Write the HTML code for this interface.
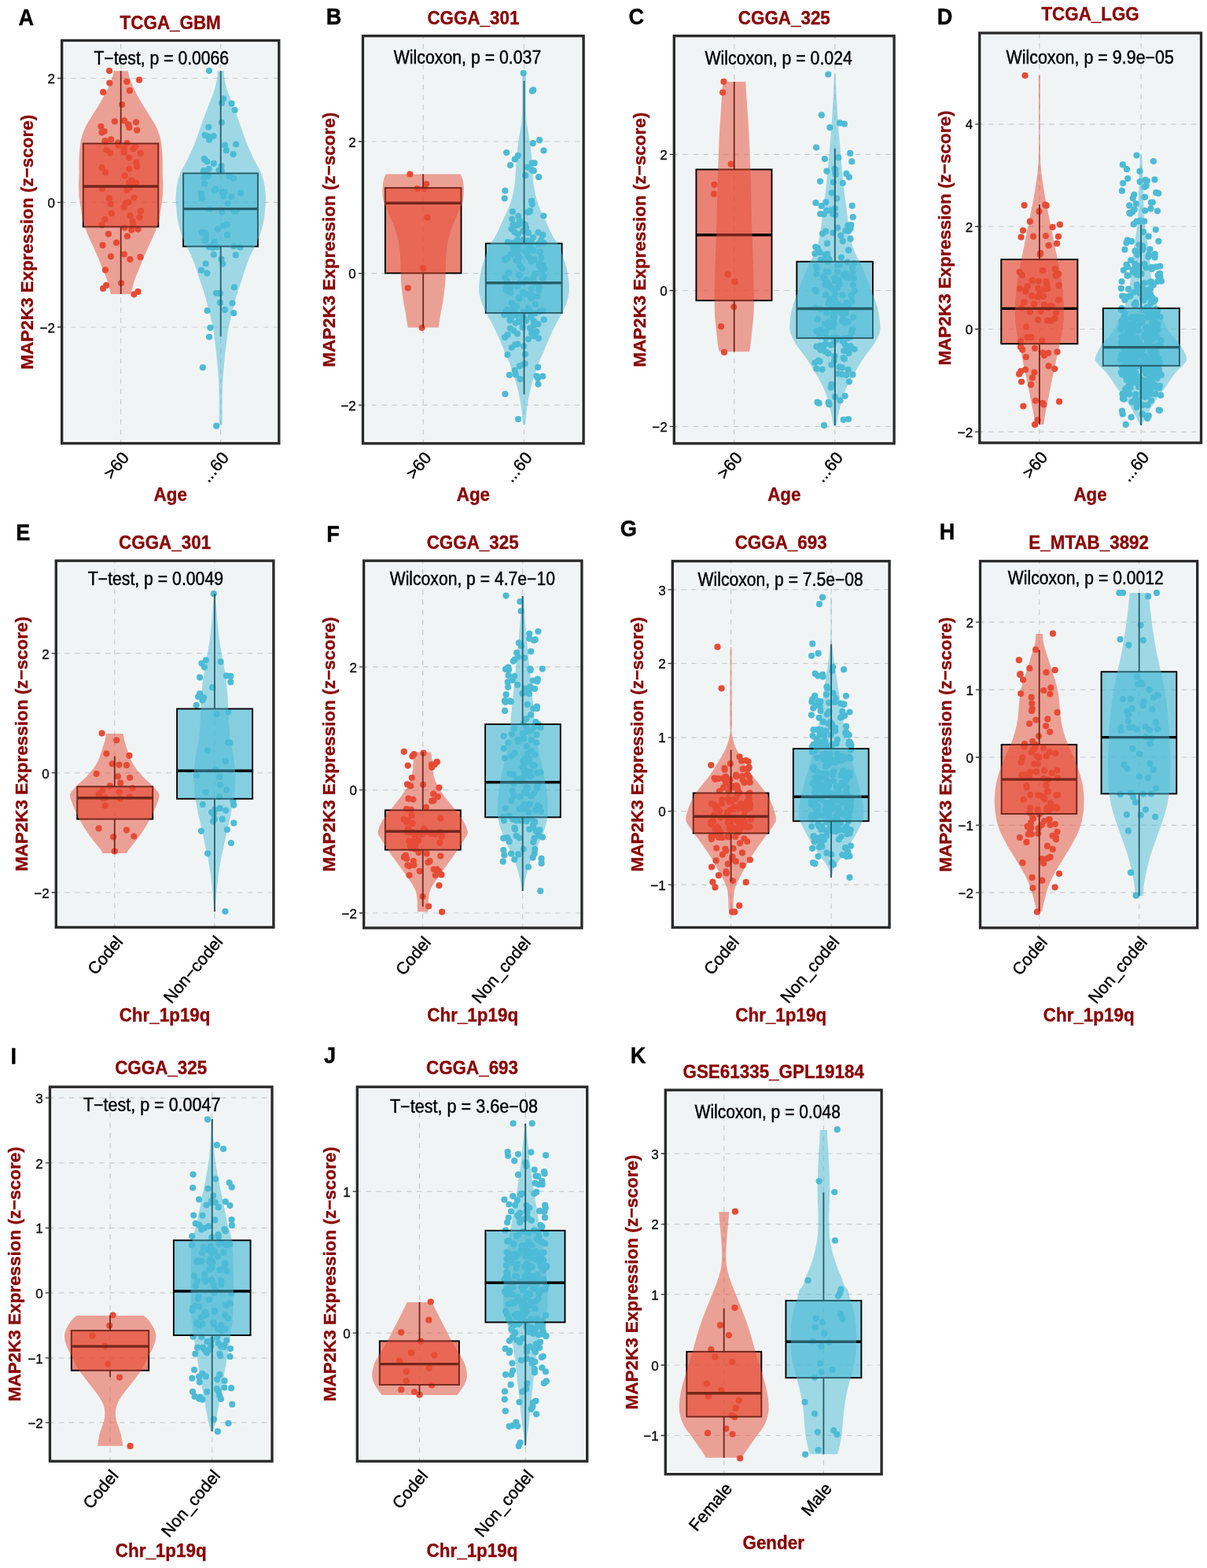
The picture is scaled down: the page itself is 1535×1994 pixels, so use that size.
<!DOCTYPE html>
<html><head><meta charset="utf-8"><title>MAP2K3 expression</title>
<style>html,body{margin:0;padding:0;background:#fff;}svg{display:block;}</style>
</head><body>
<svg width="1535" height="1994" viewBox="0 0 1535 1994" font-family="'Liberation Sans', Arial, Helvetica, sans-serif">
<rect width="1535" height="1994" fill="#fff"/>
<rect x="82" y="54.8" width="269.5" height="505.7" fill="#F1F4F5"/>
<path d="M77,99.5H356.5M77,257.4H356.5M77,416H356.5M153.7,565.5V49.8M280.7,565.5V49.8" stroke="#C8CACB" stroke-width="1.2" stroke-dasharray="6.45 6.45" fill="none"/>
<g fill="#E64B35"><circle cx="139.1" cy="90" r="4.1"/><circle cx="177.1" cy="101.7" r="4.1"/><circle cx="131.1" cy="366.9" r="4.1"/><circle cx="135.1" cy="362.9" r="4.1"/><circle cx="170.5" cy="374.3" r="4.1"/><circle cx="175.5" cy="370.9" r="4.1"/><circle cx="128.5" cy="160.9" r="4.1"/><circle cx="157.7" cy="194.1" r="4.1"/><circle cx="167.2" cy="292.4" r="4.1"/><circle cx="154.1" cy="360.1" r="4.1"/><circle cx="174.1" cy="211.9" r="4.1"/><circle cx="169.3" cy="286.7" r="4.1"/><circle cx="148" cy="308.7" r="4.1"/><circle cx="161.3" cy="241.8" r="4.1"/><circle cx="129.5" cy="212.9" r="4.1"/><circle cx="172.1" cy="186.3" r="4.1"/><circle cx="158.1" cy="153.4" r="4.1"/><circle cx="129.9" cy="240.1" r="4.1"/><circle cx="161.9" cy="300.4" r="4.1"/><circle cx="164.9" cy="115.2" r="4.1"/><circle cx="173.1" cy="155.3" r="4.1"/><circle cx="165.4" cy="329.8" r="4.1"/><circle cx="164.1" cy="232.8" r="4.1"/><circle cx="134" cy="219" r="4.1"/><circle cx="150.1" cy="181.6" r="4.1"/><circle cx="158.5" cy="289.6" r="4.1"/><circle cx="145.8" cy="154.3" r="4.1"/><circle cx="141" cy="326.1" r="4.1"/><circle cx="175.5" cy="291.6" r="4.1"/><circle cx="163.2" cy="158.3" r="4.1"/><circle cx="165.5" cy="274.2" r="4.1"/><circle cx="133.6" cy="179" r="4.1"/><circle cx="130.6" cy="311.9" r="4.1"/><circle cx="168.7" cy="232.5" r="4.1"/><circle cx="129.6" cy="286.2" r="4.1"/><circle cx="157.6" cy="263.5" r="4.1"/><circle cx="157.9" cy="323.3" r="4.1"/><circle cx="134" cy="343.3" r="4.1"/><circle cx="150.8" cy="185.2" r="4.1"/><circle cx="173" cy="232.6" r="4.1"/><circle cx="158.7" cy="223.6" r="4.1"/><circle cx="141.1" cy="177.4" r="4.1"/><circle cx="131.2" cy="117.2" r="4.1"/><circle cx="167.6" cy="229.6" r="4.1"/><circle cx="164.2" cy="200.6" r="4.1"/><circle cx="132.6" cy="167" r="4.1"/><circle cx="164.3" cy="214.8" r="4.1"/><circle cx="164.9" cy="239" r="4.1"/><circle cx="174.2" cy="165.5" r="4.1"/><circle cx="140.7" cy="259.5" r="4.1"/><circle cx="133.3" cy="279.1" r="4.1"/><circle cx="163.4" cy="257.2" r="4.1"/><circle cx="173.2" cy="206.5" r="4.1"/><circle cx="161.5" cy="182" r="4.1"/><circle cx="178.7" cy="195" r="4.1"/><circle cx="158.1" cy="188.3" r="4.1"/><circle cx="169.2" cy="189.3" r="4.1"/><circle cx="170.4" cy="251.5" r="4.1"/><circle cx="168.8" cy="281.5" r="4.1"/><circle cx="164.3" cy="162.2" r="4.1"/><circle cx="139.3" cy="105.6" r="4.1"/><circle cx="161.2" cy="103.8" r="4.1"/><circle cx="133.8" cy="180.4" r="4.1"/><circle cx="159.9" cy="258" r="4.1"/><circle cx="178.9" cy="268.6" r="4.1"/><circle cx="138.8" cy="252.3" r="4.1"/><circle cx="140.3" cy="194.5" r="4.1"/><circle cx="155.1" cy="133" r="4.1"/><circle cx="178.5" cy="326.9" r="4.1"/><circle cx="177.5" cy="276.3" r="4.1"/><circle cx="137.9" cy="297.6" r="4.1"/><circle cx="135.6" cy="191" r="4.1"/><circle cx="129.5" cy="168.6" r="4.1"/><circle cx="141.8" cy="271.3" r="4.1"/></g>
<path d="M153.7,182.5V90.3M153.7,288.4V373.9" stroke="#000" stroke-width="1.8"/>
<rect x="105.8" y="182.5" width="95.5" height="105.9" fill="#E64B35" fill-opacity="0.67" stroke="#000" stroke-width="1.9"/>
<path d="M105.8,237H201.3" stroke="#000" stroke-width="3.4"/>
<path d="M162.7,90.3 L163,91.3 L163.2,92.6 L163.6,94.2 L164,96 L164.6,98 L165.2,100 L165.7,101.3 L166.2,102.7 L166.7,104.2 L167.3,105.7 L167.9,107.2 L168.6,108.8 L169.3,110.4 L170,112 L170.7,113.6 L171.4,115.1 L172.1,116.6 L172.9,118.1 L173.7,119.6 L174.5,121.1 L175.3,122.6 L176.2,124.1 L177,125.6 L177.9,127.1 L178.8,128.6 L179.7,130.1 L180.6,131.6 L181.5,133.1 L182.4,134.7 L183.4,136.2 L184.3,137.7 L185.3,139.2 L186.2,140.7 L187.2,142.2 L188.1,143.7 L189.1,145.2 L190,146.7 L191,148.2 L191.9,149.7 L192.9,151.2 L193.8,152.7 L194.7,154.2 L195.6,155.7 L196.5,157.2 L197.3,158.7 L198.1,160.2 L198.8,161.7 L199.5,163.2 L200.1,164.7 L200.8,166.3 L201.3,167.8 L201.9,169.3 L202.4,170.8 L202.9,172.3 L203.3,173.8 L203.7,175.3 L204.1,176.8 L204.4,178.3 L204.7,179.8 L205,181.3 L205.2,182.8 L205.4,184.3 L205.5,185.8 L205.7,187.3 L205.8,188.8 L206,190.3 L206.1,191.8 L206.3,193.3 L206.4,194.8 L206.5,196.3 L206.6,197.8 L206.6,199.4 L206.7,200.9 L206.7,202.4 L206.8,203.9 L206.8,205.4 L206.9,206.9 L206.9,208.4 L206.8,209.9 L206.8,211.4 L206.8,212.9 L206.8,214.4 L206.8,215.9 L206.7,217.4 L206.7,218.9 L206.7,220.4 L206.8,221.9 L206.8,223.4 L206.9,224.9 L207,226.4 L207,227.9 L207.1,229.4 L207.2,231 L207.2,232.5 L207.3,234 L207.3,235.5 L207.3,237 L207.3,238.5 L207.2,240 L207.2,241.5 L207.2,243 L207.1,244.5 L207.1,246 L207,247.5 L206.9,249 L206.7,250.5 L206.6,252 L206.4,253.5 L206.2,255 L206,256.5 L205.7,258 L205.5,259.5 L205.2,261 L205,262.6 L204.7,264.1 L204.5,265.6 L204.3,267.1 L204.1,268.6 L203.9,270.1 L203.7,271.6 L203.6,273.1 L203.4,274.6 L203.1,276.1 L202.9,277.6 L202.6,279.1 L202.2,280.6 L201.8,282.1 L201.4,283.6 L200.9,285.1 L200.4,286.6 L199.9,288.1 L199.3,289.6 L198.8,291.1 L198.2,292.6 L197.6,294.1 L197,295.7 L196.4,297.2 L195.7,298.7 L195,300.2 L194.4,301.7 L193.7,303.2 L193,304.7 L192.3,306.2 L191.6,307.7 L190.9,309.2 L190.2,310.7 L189.5,312.2 L188.8,313.7 L188.1,315.2 L187.5,316.7 L186.8,318.2 L186.1,319.7 L185.4,321.2 L184.7,322.7 L184.1,324.2 L183.4,325.7 L182.8,327.3 L182.2,328.8 L181.6,330.3 L181,331.8 L180.4,333.3 L179.8,334.8 L179.2,336.3 L178.6,337.8 L178,339.3 L177.4,340.8 L176.8,342.3 L176.2,343.8 L175.5,345.3 L174.9,346.8 L174.3,348.3 L173.7,349.8 L173.1,351.3 L172.5,352.8 L171.9,354.3 L171.4,355.8 L170.9,357.4 L170.4,359 L169.9,360.7 L169.4,362.4 L169,364.1 L168.6,365.7 L168.2,367.3 L167.8,368.6 L167.5,369.9 L167.3,370.9 L166.5,373.3 L166.3,373.9 L141.1,373.9 L140.9,373.3 L140.2,370.9 L139.9,369.9 L139.6,368.6 L139.2,367.3 L138.8,365.7 L138.4,364.1 L138,362.4 L137.5,360.7 L137,359 L136.5,357.4 L136,355.8 L135.5,354.3 L134.9,352.8 L134.4,351.3 L133.8,349.8 L133.1,348.3 L132.5,346.8 L131.9,345.3 L131.2,343.8 L130.6,342.3 L130,340.8 L129.4,339.3 L128.8,337.8 L128.2,336.3 L127.6,334.8 L127,333.3 L126.5,331.8 L125.9,330.3 L125.2,328.8 L124.6,327.3 L124,325.7 L123.3,324.2 L122.7,322.7 L122,321.2 L121.3,319.7 L120.7,318.2 L120,316.7 L119.3,315.2 L118.6,313.7 L117.9,312.2 L117.2,310.7 L116.5,309.2 L115.8,307.7 L115.1,306.2 L114.4,304.7 L113.7,303.2 L113.1,301.7 L112.4,300.2 L111.7,298.7 L111.1,297.2 L110.5,295.7 L109.8,294.1 L109.3,292.6 L108.7,291.1 L108.1,289.6 L107.5,288.1 L107,286.6 L106.5,285.1 L106,283.6 L105.6,282.1 L105.2,280.6 L104.8,279.1 L104.5,277.6 L104.3,276.1 L104.1,274.6 L103.9,273.1 L103.7,271.6 L103.5,270.1 L103.3,268.6 L103.1,267.1 L102.9,265.6 L102.7,264.1 L102.4,262.6 L102.2,261 L101.9,259.5 L101.7,258 L101.4,256.5 L101.2,255 L101,253.5 L100.8,252 L100.7,250.5 L100.5,249 L100.4,247.5 L100.4,246 L100.3,244.5 L100.2,243 L100.2,241.5 L100.2,240 L100.2,238.5 L100.1,237 L100.1,235.5 L100.2,234 L100.2,232.5 L100.2,231 L100.3,229.4 L100.4,227.9 L100.5,226.4 L100.5,224.9 L100.6,223.4 L100.6,221.9 L100.7,220.4 L100.7,218.9 L100.7,217.4 L100.7,215.9 L100.6,214.4 L100.6,212.9 L100.6,211.4 L100.6,209.9 L100.6,208.4 L100.6,206.9 L100.6,205.4 L100.6,203.9 L100.7,202.4 L100.7,200.9 L100.8,199.4 L100.9,197.8 L100.9,196.3 L101,194.8 L101.2,193.3 L101.3,191.8 L101.4,190.3 L101.6,188.8 L101.7,187.3 L101.9,185.8 L102.1,184.3 L102.3,182.8 L102.5,181.3 L102.7,179.8 L103,178.3 L103.3,176.8 L103.7,175.3 L104.1,173.8 L104.5,172.3 L105,170.8 L105.5,169.3 L106.1,167.8 L106.7,166.3 L107.3,164.7 L107.9,163.2 L108.6,161.7 L109.3,160.2 L110.1,158.7 L110.9,157.2 L111.8,155.7 L112.7,154.2 L113.6,152.7 L114.5,151.2 L115.5,149.7 L116.5,148.2 L117.4,146.7 L118.4,145.2 L119.3,143.7 L120.2,142.2 L121.2,140.7 L122.1,139.2 L123.1,137.7 L124.1,136.2 L125,134.7 L125.9,133.1 L126.9,131.6 L127.8,130.1 L128.6,128.6 L129.5,127.1 L130.4,125.6 L131.2,124.1 L132.1,122.6 L132.9,121.1 L133.7,119.6 L134.5,118.1 L135.3,116.6 L136,115.1 L136.7,113.6 L137.5,112 L138.2,110.4 L138.8,108.8 L139.5,107.2 L140.1,105.7 L140.7,104.2 L141.2,102.7 L141.7,101.3 L142.2,100 L142.9,98 L143.4,96 L143.8,94.2 L144.2,92.6 L144.5,91.3 L144.7,90.3Z" fill="#E64B35" fill-opacity="0.5"/>
<g fill="#4DBBD5"><circle cx="265.9" cy="90" r="4.1"/><circle cx="275.2" cy="541.7" r="4.1"/><circle cx="257.9" cy="467.3" r="4.1"/><circle cx="266.1" cy="428.5" r="4.1"/><circle cx="267.4" cy="416.8" r="4.1"/><circle cx="294.6" cy="131.7" r="4.1"/><circle cx="297.2" cy="398.2" r="4.1"/><circle cx="295.4" cy="385.5" r="4.1"/><circle cx="279.9" cy="384.9" r="4.1"/><circle cx="262.1" cy="298.4" r="4.1"/><circle cx="261" cy="306" r="4.1"/><circle cx="285.4" cy="244.3" r="4.1"/><circle cx="286" cy="393.8" r="4.1"/><circle cx="261.6" cy="335.4" r="4.1"/><circle cx="271.8" cy="207.8" r="4.1"/><circle cx="284" cy="125.5" r="4.1"/><circle cx="281.6" cy="216.9" r="4.1"/><circle cx="294.4" cy="250.2" r="4.1"/><circle cx="305.3" cy="314.5" r="4.1"/><circle cx="263.3" cy="347.4" r="4.1"/><circle cx="259.4" cy="225.8" r="4.1"/><circle cx="281.4" cy="211.2" r="4.1"/><circle cx="261" cy="219.9" r="4.1"/><circle cx="264.8" cy="173.7" r="4.1"/><circle cx="284.1" cy="249.5" r="4.1"/><circle cx="265.3" cy="161.7" r="4.1"/><circle cx="256" cy="343.7" r="4.1"/><circle cx="260.7" cy="296.1" r="4.1"/><circle cx="269.2" cy="312.6" r="4.1"/><circle cx="282.1" cy="269.8" r="4.1"/><circle cx="283.3" cy="335.6" r="4.1"/><circle cx="260.1" cy="233.6" r="4.1"/><circle cx="272.5" cy="242.4" r="4.1"/><circle cx="256.2" cy="246.6" r="4.1"/><circle cx="297.2" cy="227.1" r="4.1"/><circle cx="289" cy="298.9" r="4.1"/><circle cx="296.6" cy="196.1" r="4.1"/><circle cx="266.1" cy="177.7" r="4.1"/><circle cx="278.5" cy="216.5" r="4.1"/><circle cx="288.5" cy="285.4" r="4.1"/><circle cx="260.1" cy="202.8" r="4.1"/><circle cx="256.7" cy="252.6" r="4.1"/><circle cx="300.1" cy="183.5" r="4.1"/><circle cx="284" cy="287.2" r="4.1"/><circle cx="299.7" cy="324.4" r="4.1"/><circle cx="258.8" cy="217.2" r="4.1"/><circle cx="276.1" cy="314.1" r="4.1"/><circle cx="291.7" cy="223.9" r="4.1"/><circle cx="276.8" cy="291.4" r="4.1"/><circle cx="287.8" cy="191.2" r="4.1"/><circle cx="270.5" cy="314.9" r="4.1"/><circle cx="260.6" cy="171.9" r="4.1"/><circle cx="297.9" cy="365.3" r="4.1"/><circle cx="297.6" cy="268.3" r="4.1"/><circle cx="266.9" cy="266.1" r="4.1"/><circle cx="297.4" cy="313" r="4.1"/><circle cx="259.8" cy="201.8" r="4.1"/><circle cx="265.7" cy="314" r="4.1"/><circle cx="282" cy="130.9" r="4.1"/><circle cx="256.7" cy="295.8" r="4.1"/><circle cx="282.5" cy="244.4" r="4.1"/><circle cx="281.5" cy="329.7" r="4.1"/><circle cx="263.6" cy="395" r="4.1"/><circle cx="279.8" cy="373.2" r="4.1"/><circle cx="274.5" cy="240.5" r="4.1"/><circle cx="264.8" cy="224.1" r="4.1"/><circle cx="265.6" cy="214.9" r="4.1"/><circle cx="298.6" cy="140.1" r="4.1"/><circle cx="306.1" cy="245.4" r="4.1"/><circle cx="271.7" cy="173.1" r="4.1"/><circle cx="289.8" cy="258.6" r="4.1"/><circle cx="263.2" cy="205.5" r="4.1"/><circle cx="275" cy="372.8" r="4.1"/><circle cx="261.4" cy="304" r="4.1"/><circle cx="271.9" cy="323.8" r="4.1"/><circle cx="300.7" cy="268.4" r="4.1"/><circle cx="273" cy="307.5" r="4.1"/><circle cx="285.9" cy="184.7" r="4.1"/><circle cx="281.8" cy="155.6" r="4.1"/></g>
<path d="M280.7,220.4V90.3M280.7,313.4V427.7" stroke="#000" stroke-width="1.8"/>
<rect x="233.1" y="220.4" width="94.8" height="93" fill="#4DBBD5" fill-opacity="0.67" stroke="#000" stroke-width="1.9"/>
<path d="M233.1,265.6H327.9" stroke="#000" stroke-width="3.4"/>
<path d="M284.6,90.3 L284.7,91.3 L284.8,92.6 L284.8,94.2 L285,96 L285.2,98 L285.5,100 L285.7,101.3 L286,102.7 L286.3,104.2 L286.6,105.7 L286.9,107.2 L287.3,108.8 L287.7,110.4 L288.1,112 L288.6,113.6 L289,115.1 L289.5,116.6 L290,118.1 L290.5,119.6 L291.1,121.1 L291.7,122.6 L292.3,124.1 L292.9,125.6 L293.5,127.1 L294.1,128.6 L294.7,130.1 L295.2,131.6 L295.8,133.1 L296.5,134.7 L297.1,136.2 L297.7,137.7 L298.3,139.2 L298.9,140.7 L299.5,142.2 L300.1,143.7 L300.7,145.2 L301.2,146.7 L301.8,148.2 L302.3,149.7 L302.8,151.2 L303.4,152.7 L303.9,154.2 L304.4,155.7 L304.9,157.2 L305.4,158.7 L305.9,160.2 L306.5,161.7 L307,163.2 L307.5,164.7 L308,166.3 L308.5,167.8 L309,169.3 L309.6,170.8 L310.1,172.3 L310.6,173.8 L311.2,175.3 L311.8,176.8 L312.3,178.3 L312.9,179.8 L313.5,181.3 L314.1,182.8 L314.7,184.3 L315.3,185.8 L315.9,187.3 L316.6,188.8 L317.2,190.3 L317.9,191.8 L318.6,193.3 L319.3,194.8 L320,196.3 L320.7,197.8 L321.4,199.4 L322.1,200.9 L322.9,202.4 L323.6,203.9 L324.4,205.4 L325.1,206.9 L326,208.4 L326.8,209.9 L327.7,211.4 L328.5,212.9 L329.3,214.4 L330.2,215.9 L330.9,217.4 L331.6,218.9 L332.3,220.4 L332.8,221.9 L333.4,223.4 L333.9,224.9 L334.3,226.4 L334.7,227.9 L335.1,229.4 L335.5,231 L335.8,232.5 L336.1,234 L336.4,235.5 L336.7,237 L336.9,238.5 L337.1,240 L337.3,241.5 L337.5,243 L337.6,244.5 L337.7,246 L337.8,247.5 L337.9,249 L337.9,250.5 L337.9,252 L337.9,253.5 L337.9,255 L337.8,256.5 L337.7,258 L337.7,259.5 L337.5,261 L337.4,262.6 L337.3,264.1 L337.2,265.6 L337,267.1 L336.9,268.6 L336.7,270.1 L336.6,271.6 L336.4,273.1 L336.2,274.6 L336,276.1 L335.8,277.6 L335.5,279.1 L335.3,280.6 L335,282.1 L334.7,283.6 L334.4,285.1 L334,286.6 L333.7,288.1 L333.3,289.6 L332.9,291.1 L332.4,292.6 L332,294.1 L331.5,295.7 L331,297.2 L330.5,298.7 L329.9,300.2 L329.3,301.7 L328.7,303.2 L328.1,304.7 L327.5,306.2 L326.8,307.7 L326.2,309.2 L325.5,310.7 L324.8,312.2 L324.1,313.7 L323.3,315.2 L322.5,316.7 L321.7,318.2 L320.9,319.7 L320.1,321.2 L319.4,322.7 L318.7,324.2 L318,325.7 L317.3,327.3 L316.7,328.8 L316.1,330.3 L315.5,331.8 L315,333.3 L314.4,334.8 L313.9,336.3 L313.4,337.8 L312.9,339.3 L312.3,340.8 L311.8,342.3 L311.3,343.8 L310.8,345.3 L310.3,346.8 L309.8,348.3 L309.4,349.9 L308.9,351.4 L308.4,352.9 L307.9,354.4 L307.4,355.8 L306.9,357.5 L306.3,359.2 L305.7,360.9 L305.2,362.7 L304.6,364.4 L304,366 L303.5,367.6 L303,369.1 L302.6,370.4 L302,372.3 L301.5,373.9 L301,375.3 L300.6,376.7 L300.2,378.1 L299.8,379.5 L299.4,381.1 L299,382.7 L298.6,384.3 L298.2,385.9 L297.8,387.5 L297.4,389.1 L297,390.7 L296.5,392.2 L296.1,393.8 L295.6,395.4 L295.2,397 L294.8,398.6 L294.4,400.2 L294,401.8 L293.7,403.4 L293.3,405 L293,406.5 L292.7,408.1 L292.3,409.7 L291.9,411.3 L291.5,412.9 L291.2,414.5 L290.8,416.1 L290.5,417.7 L290.2,419.3 L290,420.8 L289.7,422.4 L289.5,424 L289.3,425.6 L289.1,427.2 L288.9,428.8 L288.7,430.4 L288.5,432 L288.3,433.6 L288.1,435.1 L287.9,436.7 L287.7,438.3 L287.5,439.9 L287.3,441.5 L287.1,443.1 L286.9,444.7 L286.7,446.3 L286.5,447.9 L286.4,449.4 L286.2,451 L286,452.6 L285.9,454.2 L285.7,455.8 L285.6,457.4 L285.4,459 L285.2,460.6 L285.1,462.2 L284.9,463.7 L284.8,465.3 L284.7,466.9 L284.5,468.5 L284.4,470.1 L284.3,471.7 L284.2,473.3 L284.1,474.9 L283.9,476.5 L283.8,478 L283.7,479.6 L283.6,481.2 L283.5,482.8 L283.4,484.4 L283.3,486 L283.2,487.6 L283.1,489.2 L283.1,490.7 L283,492.3 L283,493.9 L282.9,495.5 L282.9,497.1 L282.8,498.7 L282.8,500.3 L282.8,501.9 L282.7,503.5 L282.7,505 L282.7,506.6 L282.7,508.2 L282.7,509.8 L282.7,511.4 L282.6,513 L282.6,514.6 L282.6,516.2 L282.6,517.8 L282.6,519.3 L282.6,520.9 L282.6,522.5 L282.7,524.1 L282.7,525.7 L282.7,527.4 L282.7,529 L282.7,530.5 L282.7,532.1 L282.7,534 L282.7,536 L282.7,537.9 L282.7,539.5 L282.7,540.6 L278.7,540.6 L278.7,539.5 L278.7,537.9 L278.7,536 L278.7,534 L278.7,532.1 L278.7,530.5 L278.8,529 L278.8,527.4 L278.8,525.7 L278.8,524.1 L278.8,522.5 L278.8,520.9 L278.8,519.3 L278.8,517.8 L278.8,516.2 L278.8,514.6 L278.8,513 L278.8,511.4 L278.8,509.8 L278.8,508.2 L278.8,506.6 L278.8,505 L278.7,503.5 L278.7,501.9 L278.7,500.3 L278.6,498.7 L278.6,497.1 L278.5,495.5 L278.5,493.9 L278.4,492.3 L278.4,490.7 L278.3,489.2 L278.3,487.6 L278.2,486 L278.1,484.4 L278,482.8 L277.9,481.2 L277.8,479.6 L277.7,478 L277.5,476.5 L277.4,474.9 L277.3,473.3 L277.2,471.7 L277.1,470.1 L276.9,468.5 L276.8,466.9 L276.7,465.3 L276.5,463.7 L276.4,462.2 L276.2,460.6 L276.1,459 L275.9,457.4 L275.7,455.8 L275.6,454.2 L275.4,452.6 L275.3,451 L275.1,449.4 L275,447.9 L274.8,446.3 L274.6,444.7 L274.4,443.1 L274.2,441.5 L274,439.9 L273.8,438.3 L273.6,436.7 L273.4,435.1 L273.2,433.6 L273,432 L272.8,430.4 L272.6,428.8 L272.4,427.2 L272.2,425.6 L272,424 L271.7,422.4 L271.5,420.8 L271.2,419.3 L271,417.7 L270.6,416.1 L270.3,414.5 L269.9,412.9 L269.6,411.3 L269.2,409.7 L268.8,408.1 L268.5,406.5 L268.1,405 L267.8,403.4 L267.4,401.8 L267.1,400.2 L266.7,398.6 L266.3,397 L265.8,395.4 L265.4,393.8 L264.9,392.2 L264.5,390.7 L264.1,389.1 L263.6,387.5 L263.3,385.9 L262.9,384.3 L262.5,382.7 L262.1,381.1 L261.7,379.5 L261.3,378.1 L260.9,376.7 L260.4,375.3 L260,373.9 L259.5,372.3 L258.9,370.4 L258.5,369.1 L258,367.6 L257.4,366 L256.9,364.4 L256.3,362.7 L255.7,360.9 L255.2,359.2 L254.6,357.5 L254,355.8 L253.5,354.4 L253.1,352.9 L252.6,351.4 L252.1,349.9 L251.6,348.3 L251.1,346.8 L250.7,345.3 L250.2,343.8 L249.7,342.3 L249.1,340.8 L248.6,339.3 L248.1,337.8 L247.6,336.3 L247,334.8 L246.5,333.3 L245.9,331.8 L245.4,330.3 L244.8,328.8 L244.1,327.3 L243.5,325.7 L242.8,324.2 L242.1,322.7 L241.3,321.2 L240.5,319.7 L239.8,318.2 L239,316.7 L238.2,315.2 L237.4,313.7 L236.7,312.2 L236,310.7 L235.3,309.2 L234.6,307.7 L234,306.2 L233.3,304.7 L232.7,303.2 L232.1,301.7 L231.5,300.2 L231,298.7 L230.5,297.2 L230,295.7 L229.5,294.1 L229,292.6 L228.6,291.1 L228.2,289.6 L227.8,288.1 L227.5,286.6 L227.1,285.1 L226.8,283.6 L226.5,282.1 L226.2,280.6 L225.9,279.1 L225.7,277.6 L225.5,276.1 L225.3,274.6 L225.1,273.1 L224.9,271.6 L224.7,270.1 L224.6,268.6 L224.4,267.1 L224.3,265.6 L224.2,264.1 L224.1,262.6 L223.9,261 L223.8,259.5 L223.7,258 L223.6,256.5 L223.6,255 L223.5,253.5 L223.5,252 L223.6,250.5 L223.6,249 L223.7,247.5 L223.8,246 L223.9,244.5 L224,243 L224.2,241.5 L224.3,240 L224.6,238.5 L224.8,237 L225.1,235.5 L225.4,234 L225.7,232.5 L226,231 L226.3,229.4 L226.7,227.9 L227.1,226.4 L227.6,224.9 L228.1,223.4 L228.6,221.9 L229.2,220.4 L229.8,218.9 L230.6,217.4 L231.3,215.9 L232.1,214.4 L233,212.9 L233.8,211.4 L234.7,209.9 L235.5,208.4 L236.3,206.9 L237.1,205.4 L237.9,203.9 L238.6,202.4 L239.3,200.9 L240.1,199.4 L240.8,197.8 L241.5,196.3 L242.2,194.8 L242.9,193.3 L243.6,191.8 L244.2,190.3 L244.9,188.8 L245.5,187.3 L246.2,185.8 L246.8,184.3 L247.4,182.8 L248,181.3 L248.6,179.8 L249.1,178.3 L249.7,176.8 L250.3,175.3 L250.8,173.8 L251.4,172.3 L251.9,170.8 L252.4,169.3 L252.9,167.8 L253.5,166.3 L254,164.7 L254.5,163.2 L255,161.7 L255.5,160.2 L256.1,158.7 L256.6,157.2 L257.1,155.7 L257.6,154.2 L258.1,152.7 L258.6,151.2 L259.2,149.7 L259.7,148.2 L260.2,146.7 L260.8,145.2 L261.4,143.7 L262,142.2 L262.6,140.7 L263.2,139.2 L263.8,137.7 L264.4,136.2 L265,134.7 L265.6,133.1 L266.2,131.6 L266.8,130.1 L267.4,128.6 L268,127.1 L268.6,125.6 L269.2,124.1 L269.8,122.6 L270.4,121.1 L270.9,119.6 L271.5,118.1 L272,116.6 L272.5,115.1 L272.9,113.6 L273.3,112 L273.8,110.4 L274.2,108.8 L274.5,107.2 L274.9,105.7 L275.2,104.2 L275.5,102.7 L275.8,101.3 L276,100 L276.3,98 L276.5,96 L276.6,94.2 L276.7,92.6 L276.8,91.3 L276.8,90.3Z" fill="#4DBBD5" fill-opacity="0.5"/>
<rect x="78.7" y="51.5" width="276.1" height="512.3" fill="none" stroke="#2b2b2b" stroke-width="3.4"/>
<path d="M73,99.5H78M73,257.4H78M73,416H78" stroke="#333" stroke-width="1.3"/>
<g font-size="17" text-anchor="end" fill="#111" stroke="#111" stroke-width="0.4"><text x="70" y="106.1">2</text><text x="70" y="264">0</text><text x="70" y="422.6">−2</text></g>
<text x="119.4" y="81.7" font-size="23.3" textLength="171.7" lengthAdjust="spacingAndGlyphs" fill="#000" stroke="#000" stroke-width="0.45">T−test, p = 0.0066</text>
<text transform="translate(154.2,573.5) rotate(-50)" y="14.3" font-size="21.5" text-anchor="end" fill="#000" stroke="#000" stroke-width="0.45">>60</text>
<text transform="translate(281.2,573.5) rotate(-50)" y="14.3" font-size="21.5" text-anchor="end" fill="#000" stroke="#000" stroke-width="0.45">...60</text>
<text x="216.7" y="637.3" font-weight="bold" font-size="24.0" fill="#8B0000" stroke="#8B0000" stroke-width="0.35" text-anchor="middle" lengthAdjust="spacingAndGlyphs" textLength="42.3">Age</text>
<text transform="translate(41.7,307.7) rotate(-90)" font-weight="bold" font-size="22.6" fill="#8B0000" stroke="#8B0000" stroke-width="0.35" text-anchor="middle" lengthAdjust="spacingAndGlyphs" textLength="324">MAP2K3 Expression (z−score)</text>
<text x="216.7" y="36.6" font-weight="bold" font-size="24.0" fill="#8B0000" stroke="#8B0000" stroke-width="0.35" text-anchor="middle" lengthAdjust="spacingAndGlyphs" textLength="128.2">TCGA_GBM</text>
<text x="33.2" y="31.5" font-weight="bold" font-size="29.2" text-anchor="middle" fill="#000" stroke="#000" stroke-width="0.4" textLength="19.6" lengthAdjust="spacingAndGlyphs">A</text>
<rect x="464.8" y="49" width="274" height="511.6" fill="#F1F4F5"/>
<path d="M459.8,180H743.9M459.8,347.7H743.9M459.8,515.2H743.9M538.2,565.5V44M666.5,565.5V44" stroke="#C8CACB" stroke-width="1.2" stroke-dasharray="6.45 6.45" fill="none"/>
<g fill="#E64B35"><circle cx="521.4" cy="221.5" r="4.1"/><circle cx="530.7" cy="239.8" r="4.1"/><circle cx="539.5" cy="239.8" r="4.1"/><circle cx="542.2" cy="234" r="4.1"/><circle cx="543.5" cy="276.5" r="4.1"/><circle cx="538.2" cy="341.1" r="4.1"/><circle cx="518.8" cy="366.3" r="4.1"/><circle cx="536.6" cy="416.8" r="4.1"/></g>
<path d="M538.2,238.9V221.6M538.2,347.4V416.4" stroke="#000" stroke-width="1.8"/>
<rect x="489.9" y="238.9" width="96.6" height="108.5" fill="#E64B35" fill-opacity="0.67" stroke="#000" stroke-width="1.9"/>
<path d="M489.9,258.2H586.5" stroke="#000" stroke-width="3.4"/>
<path d="M585.6,221.6 L586.2,222.9 L587.1,224.7 L587.8,226.6 L588.4,228.2 L588.8,229.8 L589.2,232.1 L589.3,233.4 L589.5,234.8 L589.6,236.4 L589.8,238.1 L589.9,239.8 L589.9,241.5 L589.9,243.1 L589.9,244.7 L589.8,246.4 L589.7,248.1 L589.5,249.8 L589.3,251.4 L589.1,252.9 L589,254.2 L588.5,256.4 L587.9,258 L587.3,259.7 L586.6,261.3 L585.8,262.9 L584.8,265.2 L584.3,266.5 L583.6,267.9 L583,269.5 L582.2,271.2 L581.5,272.9 L580.8,274.6 L580.1,276.2 L579.4,277.8 L578.7,279.4 L578.1,281 L577.4,282.5 L576.7,284.1 L576,285.7 L575.4,287.3 L574.9,288.8 L574.3,290.4 L573.8,292 L573.3,293.6 L572.8,295.1 L572.3,296.7 L571.8,298.3 L571.4,299.9 L571,301.5 L570.5,303 L570.1,304.6 L569.7,306.2 L569.4,307.8 L569.1,309.3 L568.8,310.9 L568.6,312.5 L568.4,314.1 L568.2,315.6 L568,317.2 L567.9,318.8 L567.7,320.4 L567.6,322 L567.5,323.5 L567.3,325.1 L567.3,326.7 L567.2,328.3 L567.1,329.8 L567,331.4 L567,333 L566.9,334.6 L566.9,336.1 L566.9,337.7 L566.8,339.3 L566.8,340.9 L566.8,342.5 L566.7,344 L566.7,345.6 L566.7,347.2 L566.6,348.8 L566.6,350.3 L566.6,351.9 L566.5,353.5 L566.4,355.1 L566.3,356.6 L566.2,358.2 L566.1,359.8 L566,361.4 L565.9,362.9 L565.8,364.5 L565.6,366.1 L565.4,367.7 L565.2,369.3 L565,370.8 L564.8,372.4 L564.6,374 L564.4,375.6 L564.2,377.1 L564,378.7 L563.7,380.3 L563.5,381.9 L563.3,383.4 L563,385 L562.7,386.6 L562.5,388.2 L562.2,389.8 L561.8,391.3 L561.5,392.9 L561.2,394.5 L560.9,396.1 L560.6,397.6 L560.4,399.2 L560.1,400.9 L559.9,402.5 L559.6,404.2 L559.4,405.8 L559.1,407.3 L558.9,408.7 L558.6,410.6 L558.3,412.4 L558.1,414 L557.8,415.4 L557.7,416.4 L518.7,416.4 L518.5,415.4 L518.3,414 L518,412.4 L517.7,410.6 L517.4,408.7 L517.2,407.3 L517,405.8 L516.7,404.2 L516.5,402.5 L516.2,400.9 L516,399.2 L515.7,397.6 L515.4,396.1 L515.1,394.5 L514.8,392.9 L514.5,391.3 L514.2,389.8 L513.9,388.2 L513.6,386.6 L513.4,385 L513.1,383.4 L512.9,381.9 L512.6,380.3 L512.4,378.7 L512.2,377.1 L512,375.6 L511.7,374 L511.5,372.4 L511.3,370.8 L511.1,369.3 L510.9,367.7 L510.7,366.1 L510.6,364.5 L510.4,362.9 L510.3,361.4 L510.2,359.8 L510.1,358.2 L510,356.6 L509.9,355.1 L509.9,353.5 L509.8,351.9 L509.8,350.3 L509.7,348.8 L509.7,347.2 L509.7,345.6 L509.6,344 L509.6,342.5 L509.6,340.9 L509.5,339.3 L509.5,337.7 L509.5,336.1 L509.4,334.6 L509.4,333 L509.3,331.4 L509.2,329.8 L509.2,328.3 L509.1,326.7 L509,325.1 L508.9,323.5 L508.8,322 L508.7,320.4 L508.5,318.8 L508.4,317.2 L508.2,315.6 L508,314.1 L507.8,312.5 L507.5,310.9 L507.3,309.3 L507,307.8 L506.6,306.2 L506.2,304.6 L505.8,303 L505.4,301.5 L505,299.9 L504.5,298.3 L504.1,296.7 L503.6,295.1 L503.1,293.6 L502.6,292 L502.1,290.4 L501.5,288.8 L500.9,287.3 L500.3,285.7 L499.7,284.1 L499,282.5 L498.3,281 L497.6,279.4 L496.9,277.8 L496.2,276.2 L495.5,274.6 L494.8,272.9 L494.1,271.2 L493.4,269.5 L492.7,267.9 L492.1,266.5 L491.5,265.2 L490.5,262.9 L489.7,261.3 L489.1,259.7 L488.4,258 L487.9,256.4 L487.4,254.2 L487.2,252.9 L487,251.4 L486.8,249.8 L486.7,248.1 L486.5,246.4 L486.5,244.7 L486.4,243.1 L486.4,241.5 L486.5,239.8 L486.6,238.1 L486.7,236.4 L486.9,234.8 L487,233.4 L487.2,232.1 L487.6,229.8 L488,228.2 L488.5,226.6 L489.3,224.7 L490.1,222.9 L490.7,221.6Z" fill="#E64B35" fill-opacity="0.5"/>
<g fill="#4DBBD5"><circle cx="665.7" cy="93.1" r="4.1"/><circle cx="678.2" cy="114.4" r="4.1"/><circle cx="676.9" cy="115.7" r="4.1"/><circle cx="686.2" cy="178.2" r="4.1"/><circle cx="677.7" cy="182.2" r="4.1"/><circle cx="691.5" cy="191.5" r="4.1"/><circle cx="644.2" cy="194.1" r="4.1"/><circle cx="649" cy="210.1" r="4.1"/><circle cx="679.6" cy="207.4" r="4.1"/><circle cx="659.1" cy="533" r="4.1"/><circle cx="642.4" cy="501.1" r="4.1"/><circle cx="690.2" cy="478.5" r="4.1"/><circle cx="684.1" cy="481.1" r="4.1"/><circle cx="659.4" cy="311.1" r="4.1"/><circle cx="660.7" cy="285" r="4.1"/><circle cx="649.9" cy="364.6" r="4.1"/><circle cx="690" cy="353.8" r="4.1"/><circle cx="684.4" cy="488.6" r="4.1"/><circle cx="690.3" cy="337.3" r="4.1"/><circle cx="641.7" cy="252.3" r="4.1"/><circle cx="644.8" cy="364.3" r="4.1"/><circle cx="648.8" cy="417.6" r="4.1"/><circle cx="673.8" cy="396.5" r="4.1"/><circle cx="645.9" cy="347.5" r="4.1"/><circle cx="668.9" cy="289.9" r="4.1"/><circle cx="692.1" cy="341.7" r="4.1"/><circle cx="658.3" cy="327" r="4.1"/><circle cx="660.3" cy="316.8" r="4.1"/><circle cx="654.6" cy="295.3" r="4.1"/><circle cx="667.9" cy="462.5" r="4.1"/><circle cx="660.4" cy="327.5" r="4.1"/><circle cx="678.9" cy="413.7" r="4.1"/><circle cx="683.5" cy="377" r="4.1"/><circle cx="657.5" cy="401.3" r="4.1"/><circle cx="651.8" cy="309.1" r="4.1"/><circle cx="675.5" cy="379.5" r="4.1"/><circle cx="649.6" cy="372.2" r="4.1"/><circle cx="682.5" cy="478.3" r="4.1"/><circle cx="648.5" cy="407.6" r="4.1"/><circle cx="685.5" cy="337.8" r="4.1"/><circle cx="682.3" cy="421.9" r="4.1"/><circle cx="654.7" cy="202.6" r="4.1"/><circle cx="657.1" cy="321.9" r="4.1"/><circle cx="657.2" cy="389.5" r="4.1"/><circle cx="654.6" cy="471.1" r="4.1"/><circle cx="668.1" cy="222.9" r="4.1"/><circle cx="668.1" cy="373.4" r="4.1"/><circle cx="691.7" cy="406.5" r="4.1"/><circle cx="686.5" cy="320.8" r="4.1"/><circle cx="673.1" cy="375.2" r="4.1"/><circle cx="690.8" cy="394.9" r="4.1"/><circle cx="678.9" cy="408.3" r="4.1"/><circle cx="677.7" cy="355.2" r="4.1"/><circle cx="644.7" cy="329.5" r="4.1"/><circle cx="671.8" cy="296.2" r="4.1"/><circle cx="665.5" cy="396.9" r="4.1"/><circle cx="680" cy="348.3" r="4.1"/><circle cx="665.2" cy="359.5" r="4.1"/><circle cx="643.3" cy="368.6" r="4.1"/><circle cx="646.2" cy="370.5" r="4.1"/><circle cx="678.1" cy="353" r="4.1"/><circle cx="660.7" cy="280.9" r="4.1"/><circle cx="674.2" cy="268.1" r="4.1"/><circle cx="661.6" cy="482.1" r="4.1"/><circle cx="676.7" cy="422.9" r="4.1"/><circle cx="685.1" cy="225.2" r="4.1"/><circle cx="665.2" cy="371.7" r="4.1"/><circle cx="670.9" cy="306.3" r="4.1"/><circle cx="653" cy="420.3" r="4.1"/><circle cx="690" cy="298.9" r="4.1"/><circle cx="665" cy="293.8" r="4.1"/><circle cx="649.6" cy="399" r="4.1"/><circle cx="671.2" cy="396" r="4.1"/><circle cx="642.2" cy="330.2" r="4.1"/><circle cx="643.3" cy="368.4" r="4.1"/><circle cx="667.2" cy="308.8" r="4.1"/><circle cx="690.3" cy="298.6" r="4.1"/><circle cx="666.1" cy="440.2" r="4.1"/><circle cx="685.9" cy="365.2" r="4.1"/><circle cx="659.5" cy="349.4" r="4.1"/><circle cx="650.6" cy="291.2" r="4.1"/><circle cx="657.8" cy="424.4" r="4.1"/><circle cx="645.4" cy="451.1" r="4.1"/><circle cx="688.2" cy="327.9" r="4.1"/><circle cx="665.3" cy="305.4" r="4.1"/><circle cx="677.1" cy="376.2" r="4.1"/><circle cx="684.5" cy="412.2" r="4.1"/><circle cx="642.3" cy="353.1" r="4.1"/><circle cx="671.1" cy="317.6" r="4.1"/><circle cx="673.3" cy="327.6" r="4.1"/><circle cx="642.4" cy="242.5" r="4.1"/><circle cx="658.2" cy="364.5" r="4.1"/><circle cx="655.8" cy="476.4" r="4.1"/><circle cx="685.8" cy="335.2" r="4.1"/><circle cx="645.6" cy="394.1" r="4.1"/><circle cx="668.8" cy="408" r="4.1"/><circle cx="656.3" cy="331.5" r="4.1"/><circle cx="680.2" cy="398.6" r="4.1"/><circle cx="649.1" cy="399.4" r="4.1"/><circle cx="659.7" cy="408.7" r="4.1"/><circle cx="667.9" cy="285.9" r="4.1"/><circle cx="676.2" cy="423.9" r="4.1"/><circle cx="685.1" cy="430.3" r="4.1"/><circle cx="645.6" cy="425.7" r="4.1"/><circle cx="664.7" cy="416.2" r="4.1"/><circle cx="666.1" cy="403.3" r="4.1"/><circle cx="643.7" cy="396.5" r="4.1"/><circle cx="684.8" cy="310.2" r="4.1"/><circle cx="665.8" cy="284.6" r="4.1"/><circle cx="652.8" cy="317.4" r="4.1"/><circle cx="652.8" cy="312.4" r="4.1"/><circle cx="673.6" cy="394.6" r="4.1"/><circle cx="652.1" cy="393" r="4.1"/><circle cx="660.7" cy="465.6" r="4.1"/><circle cx="650" cy="404.4" r="4.1"/><circle cx="691.3" cy="274.5" r="4.1"/><circle cx="655.1" cy="286.8" r="4.1"/><circle cx="647.9" cy="476.8" r="4.1"/><circle cx="661.2" cy="409" r="4.1"/><circle cx="678" cy="302" r="4.1"/><circle cx="687.1" cy="320.2" r="4.1"/><circle cx="659.4" cy="330.9" r="4.1"/><circle cx="669.6" cy="355.5" r="4.1"/><circle cx="678.7" cy="217.2" r="4.1"/><circle cx="658.7" cy="321.1" r="4.1"/><circle cx="665.1" cy="463.5" r="4.1"/><circle cx="675.9" cy="308.3" r="4.1"/><circle cx="673.7" cy="313.9" r="4.1"/><circle cx="650.7" cy="385.4" r="4.1"/><circle cx="651.9" cy="269.1" r="4.1"/><circle cx="685.1" cy="368.9" r="4.1"/><circle cx="655.8" cy="410.8" r="4.1"/><circle cx="671.8" cy="295.9" r="4.1"/><circle cx="654.1" cy="389.5" r="4.1"/><circle cx="691.7" cy="352.1" r="4.1"/><circle cx="676.7" cy="207.7" r="4.1"/><circle cx="662.6" cy="308.3" r="4.1"/><circle cx="674" cy="417.3" r="4.1"/><circle cx="676.8" cy="377.5" r="4.1"/><circle cx="647.4" cy="347.1" r="4.1"/><circle cx="658.2" cy="286.4" r="4.1"/><circle cx="666.4" cy="292.8" r="4.1"/><circle cx="685.2" cy="366.7" r="4.1"/><circle cx="672" cy="431.3" r="4.1"/><circle cx="671.9" cy="391.9" r="4.1"/><circle cx="656.6" cy="307" r="4.1"/><circle cx="659.1" cy="274.8" r="4.1"/><circle cx="658.8" cy="197.9" r="4.1"/><circle cx="658" cy="305.3" r="4.1"/><circle cx="658.6" cy="314.9" r="4.1"/><circle cx="680.3" cy="425" r="4.1"/><circle cx="676.7" cy="259.8" r="4.1"/><circle cx="654.5" cy="395.4" r="4.1"/><circle cx="676.4" cy="216.1" r="4.1"/><circle cx="675.7" cy="332.5" r="4.1"/><circle cx="667.7" cy="450.4" r="4.1"/><circle cx="650.6" cy="442" r="4.1"/><circle cx="688.6" cy="346.4" r="4.1"/><circle cx="645.2" cy="357.8" r="4.1"/><circle cx="688" cy="305.8" r="4.1"/><circle cx="661.4" cy="359.3" r="4.1"/><circle cx="680.4" cy="360.2" r="4.1"/><circle cx="679.6" cy="427.5" r="4.1"/><circle cx="658.1" cy="437.6" r="4.1"/><circle cx="660.5" cy="380.1" r="4.1"/><circle cx="664.4" cy="402.5" r="4.1"/><circle cx="673.1" cy="269.4" r="4.1"/><circle cx="674.8" cy="403.2" r="4.1"/><circle cx="659.1" cy="313.9" r="4.1"/><circle cx="670.1" cy="212.6" r="4.1"/><circle cx="686.4" cy="395.9" r="4.1"/><circle cx="658.8" cy="297.9" r="4.1"/><circle cx="659.9" cy="378.2" r="4.1"/><circle cx="649.6" cy="323.7" r="4.1"/><circle cx="681.8" cy="348.3" r="4.1"/><circle cx="651.1" cy="278.6" r="4.1"/><circle cx="688.2" cy="342.3" r="4.1"/><circle cx="644.7" cy="328.4" r="4.1"/><circle cx="655.1" cy="438.3" r="4.1"/><circle cx="684.1" cy="467.1" r="4.1"/><circle cx="643" cy="396.2" r="4.1"/><circle cx="691.7" cy="309" r="4.1"/><circle cx="652.5" cy="285.3" r="4.1"/><circle cx="677.5" cy="376.7" r="4.1"/><circle cx="664.1" cy="341.6" r="4.1"/><circle cx="661.2" cy="350.5" r="4.1"/><circle cx="684.4" cy="295.5" r="4.1"/><circle cx="675.8" cy="367.4" r="4.1"/><circle cx="679.4" cy="330.1" r="4.1"/><circle cx="661.3" cy="338.1" r="4.1"/><circle cx="645.7" cy="307.9" r="4.1"/><circle cx="671.2" cy="324.4" r="4.1"/><circle cx="655.8" cy="400.7" r="4.1"/><circle cx="671.1" cy="269.8" r="4.1"/><circle cx="646.7" cy="395.2" r="4.1"/><circle cx="676.1" cy="255.5" r="4.1"/><circle cx="668" cy="320.1" r="4.1"/><circle cx="648.5" cy="403.5" r="4.1"/><circle cx="681.3" cy="421.6" r="4.1"/><circle cx="641.3" cy="400.3" r="4.1"/><circle cx="680.8" cy="386.9" r="4.1"/><circle cx="642.1" cy="429.1" r="4.1"/><circle cx="678.1" cy="318.7" r="4.1"/></g>
<path d="M666.5,309.6V102.8M666.5,397.9V501.5" stroke="#000" stroke-width="1.8"/>
<rect x="617.8" y="309.6" width="96.8" height="88.3" fill="#4DBBD5" fill-opacity="0.67" stroke="#000" stroke-width="1.9"/>
<path d="M617.8,359.8H714.6" stroke="#000" stroke-width="3.4"/>
<path d="M668.3,93.4 L668.6,94.5 L668.8,97 L668.8,98.1 L668.9,99.4 L668.9,100.9 L668.9,102.5 L668.8,104.2 L668.8,105.9 L668.8,107.5 L668.8,109.1 L668.8,110.6 L668.8,112.1 L668.8,113.6 L668.8,115.1 L668.8,116.6 L668.8,118.1 L668.8,119.6 L668.8,121.1 L668.8,122.6 L668.8,124.1 L668.8,125.6 L668.8,127.1 L668.8,128.6 L668.8,130.1 L668.8,131.6 L668.8,133.1 L668.8,134.6 L668.9,136.1 L668.9,137.6 L668.9,139.2 L668.9,140.7 L668.9,142.2 L669,143.7 L669.1,145.2 L669.1,146.7 L669.2,148.2 L669.3,149.7 L669.4,151.2 L669.6,152.7 L669.7,154.2 L669.9,155.7 L670,157.2 L670.2,158.7 L670.4,160.2 L670.7,161.7 L670.9,163.2 L671.2,164.7 L671.4,166.2 L671.7,167.7 L671.9,169.2 L672.2,170.7 L672.4,172.2 L672.7,173.7 L672.9,175.3 L673.2,176.8 L673.4,178.3 L673.7,179.8 L673.9,181.3 L674.1,182.8 L674.3,184.3 L674.5,185.8 L674.7,187.3 L674.9,188.8 L675,190.3 L675.2,191.8 L675.4,193.3 L675.5,194.8 L675.7,196.3 L675.8,197.8 L676,199.3 L676.1,200.8 L676.2,202.3 L676.3,203.8 L676.5,205.3 L676.6,206.8 L676.7,208.3 L676.8,209.8 L676.9,211.4 L677,212.9 L677.1,214.4 L677.2,215.9 L677.2,217.4 L677.3,218.9 L677.4,220.4 L677.5,221.9 L677.5,223.4 L677.6,224.9 L677.7,226.4 L677.8,227.9 L678,229.4 L678.1,230.9 L678.3,232.4 L678.5,233.9 L678.7,235.4 L679,236.9 L679.2,238.4 L679.5,239.9 L679.8,241.4 L680.1,242.9 L680.3,244.4 L680.7,246 L681,247.5 L681.3,249 L681.7,250.5 L682.1,252 L682.5,253.5 L682.9,255 L683.4,256.5 L683.9,258 L684.4,259.5 L684.9,261 L685.5,262.5 L686.1,264 L686.7,265.5 L687.3,267 L688,268.5 L688.7,270 L689.5,271.5 L690.2,273 L691,274.5 L691.7,276 L692.4,277.5 L693.1,279 L693.8,280.6 L694.5,282.1 L695.1,283.6 L695.8,285.1 L696.5,286.6 L697.1,288.1 L697.8,289.6 L698.6,291.2 L699.3,292.8 L700.1,294.4 L700.8,296 L701.6,297.6 L702.4,299.2 L703.3,300.8 L704.3,302.4 L705.4,304 L706.5,305.7 L707.7,307.3 L708.8,308.9 L709.8,310.6 L710.8,312.3 L711.4,313.8 L712.1,315.3 L712.6,316.8 L713.1,318.4 L713.6,319.9 L714.1,321.5 L714.5,323 L715.1,324.6 L715.6,326.1 L716.2,327.6 L716.7,329.2 L717.3,330.7 L717.9,332.2 L718.4,333.8 L718.9,335.3 L719.4,336.9 L719.8,338.4 L720.2,339.9 L720.5,341.5 L720.9,343 L721.2,344.5 L721.5,346.1 L721.8,347.6 L722.1,349.1 L722.3,350.7 L722.6,352.4 L722.8,354 L723,355.7 L723.2,357.3 L723.4,358.8 L723.5,360.2 L723.7,361.4 L723.8,363.4 L723.9,364.9 L723.9,366.2 L723.9,367.6 L723.9,369 L723.8,370.3 L723.6,371.7 L723.3,373.7 L723,375 L722.8,376.3 L722.4,377.9 L722.1,379.5 L721.7,381.1 L721.2,382.8 L720.7,384.4 L720.2,386 L719.6,387.5 L719,389.1 L718.3,390.6 L717.5,392.1 L716.8,393.7 L716,395.2 L715.2,396.7 L714.4,398.3 L713.7,399.8 L712.9,401.4 L712,402.9 L711.2,404.4 L710.4,406 L709.6,407.5 L708.7,409 L707.9,410.6 L707.1,412.1 L706.4,413.6 L705.6,415.2 L704.8,416.7 L704,418.2 L703.3,419.8 L702.5,421.3 L701.8,422.9 L701.1,424.4 L700.4,425.9 L699.6,427.5 L699,429 L698.3,430.5 L697.6,432.1 L696.9,433.6 L696.3,435.1 L695.6,436.7 L695,438.2 L694.4,439.7 L693.8,441.3 L693.2,442.8 L692.6,444.3 L692,445.9 L691.3,447.4 L690.7,449 L690,450.5 L689.3,452 L688.5,453.6 L687.8,455.1 L687.1,456.6 L686.5,458.2 L685.8,459.7 L685.2,461.2 L684.7,462.8 L684.1,464.3 L683.6,465.8 L683.1,467.4 L682.5,468.9 L682,470.5 L681.5,472 L681,473.5 L680.5,475.1 L680,476.6 L679.5,478.1 L679,479.7 L678.5,481.2 L678,482.7 L677.6,484.3 L677.1,485.8 L676.7,487.3 L676.3,488.9 L675.8,490.4 L675.4,492 L675,493.5 L674.6,495 L674.3,496.6 L673.9,498.1 L673.6,499.6 L673.2,501.2 L672.9,502.7 L672.6,504.2 L672.3,505.8 L672,507.3 L671.7,508.8 L671.4,510.4 L671.2,511.9 L670.9,513.5 L670.7,515 L670.5,516.5 L670.3,518.1 L670,519.6 L669.9,521.1 L669.7,522.7 L669.5,524.3 L669.3,526 L669.2,527.6 L669,529.2 L668.9,530.7 L668.7,532.1 L668.6,533.4 L668.4,535.7 L668.2,537.6 L668,539.1 L667.9,540.2 L665.2,540.2 L665.1,539.1 L664.9,537.6 L664.7,535.7 L664.4,533.4 L664.3,532.1 L664.2,530.7 L664,529.2 L663.9,527.6 L663.7,526 L663.6,524.3 L663.4,522.7 L663.2,521.1 L663,519.6 L662.8,518.1 L662.6,516.5 L662.4,515 L662.1,513.5 L661.9,511.9 L661.6,510.4 L661.4,508.8 L661.1,507.3 L660.8,505.8 L660.5,504.2 L660.2,502.7 L659.8,501.2 L659.5,499.6 L659.2,498.1 L658.8,496.6 L658.4,495 L658,493.5 L657.6,492 L657.2,490.4 L656.8,488.9 L656.4,487.3 L655.9,485.8 L655.5,484.3 L655,482.7 L654.5,481.2 L654.1,479.7 L653.6,478.1 L653.1,476.6 L652.6,475.1 L652.1,473.5 L651.5,472 L651,470.5 L650.5,468.9 L650,467.4 L649.5,465.8 L649,464.3 L648.4,462.8 L647.8,461.2 L647.2,459.7 L646.6,458.2 L645.9,456.6 L645.2,455.1 L644.5,453.6 L643.8,452 L643.1,450.5 L642.4,449 L641.7,447.4 L641.1,445.9 L640.5,444.3 L639.9,442.8 L639.3,441.3 L638.7,439.7 L638.1,438.2 L637.4,436.7 L636.8,435.1 L636.1,433.6 L635.5,432.1 L634.8,430.5 L634.1,429 L633.4,427.5 L632.7,425.9 L632,424.4 L631.3,422.9 L630.5,421.3 L629.8,419.8 L629,418.2 L628.3,416.7 L627.5,415.2 L626.7,413.6 L625.9,412.1 L625.1,410.6 L624.3,409 L623.5,407.5 L622.7,406 L621.9,404.4 L621,402.9 L620.2,401.4 L619.4,399.8 L618.6,398.3 L617.8,396.7 L617.1,395.2 L616.3,393.7 L615.5,392.1 L614.8,390.6 L614.1,389.1 L613.4,387.5 L612.8,386 L612.3,384.4 L611.8,382.8 L611.4,381.1 L611,379.5 L610.6,377.9 L610.3,376.3 L610,375 L609.8,373.7 L609.4,371.7 L609.3,370.3 L609.2,369 L609.2,367.6 L609.1,366.2 L609.1,364.9 L609.2,363.4 L609.4,361.4 L609.5,360.2 L609.7,358.8 L609.9,357.3 L610.1,355.7 L610.3,354 L610.5,352.4 L610.7,350.7 L611,349.1 L611.3,347.6 L611.6,346.1 L611.9,344.5 L612.2,343 L612.5,341.5 L612.9,339.9 L613.3,338.4 L613.7,336.9 L614.2,335.3 L614.7,333.8 L615.2,332.2 L615.8,330.7 L616.3,329.2 L616.9,327.6 L617.5,326.1 L618,324.6 L618.5,323 L619,321.5 L619.5,319.9 L620,318.4 L620.5,316.8 L621,315.3 L621.6,313.8 L622.3,312.3 L623.2,310.6 L624.3,308.9 L625.4,307.3 L626.5,305.7 L627.7,304 L628.8,302.4 L629.7,300.8 L630.6,299.2 L631.5,297.6 L632.2,296 L633,294.4 L633.7,292.8 L634.5,291.2 L635.2,289.6 L635.9,288.1 L636.6,286.6 L637.3,285.1 L637.9,283.6 L638.6,282.1 L639.3,280.6 L640,279 L640.7,277.5 L641.4,276 L642.1,274.5 L642.8,273 L643.6,271.5 L644.3,270 L645,268.5 L645.7,267 L646.4,265.5 L647,264 L647.6,262.5 L648.1,261 L648.7,259.5 L649.2,258 L649.7,256.5 L650.1,255 L650.6,253.5 L651,252 L651.4,250.5 L651.8,249 L652.1,247.5 L652.4,246 L652.7,244.4 L653,242.9 L653.3,241.4 L653.6,239.9 L653.8,238.4 L654.1,236.9 L654.3,235.4 L654.5,233.9 L654.7,232.4 L654.9,230.9 L655.1,229.4 L655.2,227.9 L655.4,226.4 L655.4,224.9 L655.5,223.4 L655.6,221.9 L655.7,220.4 L655.7,218.9 L655.8,217.4 L655.9,215.9 L656,214.4 L656.1,212.9 L656.2,211.4 L656.3,209.8 L656.4,208.3 L656.5,206.8 L656.6,205.3 L656.7,203.8 L656.8,202.3 L657,200.8 L657.1,199.3 L657.2,197.8 L657.4,196.3 L657.5,194.8 L657.7,193.3 L657.9,191.8 L658,190.3 L658.2,188.8 L658.4,187.3 L658.6,185.8 L658.8,184.3 L659,182.8 L659.2,181.3 L659.4,179.8 L659.6,178.3 L659.9,176.8 L660.1,175.3 L660.4,173.7 L660.6,172.2 L660.9,170.7 L661.1,169.2 L661.4,167.7 L661.6,166.2 L661.9,164.7 L662.1,163.2 L662.4,161.7 L662.6,160.2 L662.8,158.7 L663,157.2 L663.2,155.7 L663.4,154.2 L663.5,152.7 L663.6,151.2 L663.7,149.7 L663.8,148.2 L663.9,146.7 L664,145.2 L664.1,143.7 L664.1,142.2 L664.2,140.7 L664.2,139.2 L664.2,137.6 L664.2,136.1 L664.2,134.6 L664.2,133.1 L664.3,131.6 L664.3,130.1 L664.3,128.6 L664.3,127.1 L664.3,125.6 L664.3,124.1 L664.3,122.6 L664.3,121.1 L664.3,119.6 L664.3,118.1 L664.3,116.6 L664.3,115.1 L664.3,113.6 L664.3,112.1 L664.3,110.6 L664.2,109.1 L664.2,107.5 L664.2,105.9 L664.2,104.2 L664.2,102.5 L664.2,100.9 L664.2,99.4 L664.2,98.1 L664.2,97 L664.5,94.5 L664.7,93.4Z" fill="#4DBBD5" fill-opacity="0.5"/>
<rect x="461.5" y="45.7" width="280.6" height="518.2" fill="none" stroke="#2b2b2b" stroke-width="3.4"/>
<path d="M455.8,180H460.8M455.8,347.7H460.8M455.8,515.2H460.8" stroke="#333" stroke-width="1.3"/>
<g font-size="17" text-anchor="end" fill="#111" stroke="#111" stroke-width="0.4"><text x="452.8" y="186.6">2</text><text x="452.8" y="354.3">0</text><text x="452.8" y="521.8">−2</text></g>
<text x="500.7" y="80.7" font-size="23.3" textLength="187.6" lengthAdjust="spacingAndGlyphs" fill="#000" stroke="#000" stroke-width="0.45">Wilcoxon, p = 0.037</text>
<text transform="translate(538.7,573.5) rotate(-50)" y="14.3" font-size="21.5" text-anchor="end" fill="#000" stroke="#000" stroke-width="0.45">>60</text>
<text transform="translate(667,573.5) rotate(-50)" y="14.3" font-size="21.5" text-anchor="end" fill="#000" stroke="#000" stroke-width="0.45">...60</text>
<text x="601.9" y="637.3" font-weight="bold" font-size="24.0" fill="#8B0000" stroke="#8B0000" stroke-width="0.35" text-anchor="middle" lengthAdjust="spacingAndGlyphs" textLength="42.3">Age</text>
<text transform="translate(425.8,304.8) rotate(-90)" font-weight="bold" font-size="22.6" fill="#8B0000" stroke="#8B0000" stroke-width="0.35" text-anchor="middle" lengthAdjust="spacingAndGlyphs" textLength="324">MAP2K3 Expression (z−score)</text>
<text x="601.9" y="31" font-weight="bold" font-size="24.0" fill="#8B0000" stroke="#8B0000" stroke-width="0.35" text-anchor="middle" lengthAdjust="spacingAndGlyphs" textLength="117">CGGA_301</text>
<text x="424.6" y="30.5" font-weight="bold" font-size="29.2" text-anchor="middle" fill="#000" stroke="#000" stroke-width="0.4" textLength="19.6" lengthAdjust="spacingAndGlyphs">B</text>
<rect x="860.6" y="49" width="273.2" height="511.6" fill="#F1F4F5"/>
<path d="M855.6,196.3H1138.9M855.6,369.5H1138.9M855.6,542.3H1138.9M933.7,565.5V44M1061.8,565.5V44" stroke="#C8CACB" stroke-width="1.2" stroke-dasharray="6.45 6.45" fill="none"/>
<g fill="#E64B35"><circle cx="920.4" cy="103.8" r="4.1"/><circle cx="919.1" cy="117.6" r="4.1"/><circle cx="929.7" cy="208.7" r="4.1"/><circle cx="908.5" cy="234.8" r="4.1"/><circle cx="907.9" cy="246.7" r="4.1"/><circle cx="925.7" cy="349.1" r="4.1"/><circle cx="934.5" cy="358.4" r="4.1"/><circle cx="933.2" cy="390.3" r="4.1"/><circle cx="917" cy="415.2" r="4.1"/><circle cx="921" cy="447.9" r="4.1"/></g>
<path d="M933.7,215.5V104M933.7,382.2V447.2" stroke="#000" stroke-width="1.8"/>
<rect x="885.4" y="215.5" width="96.1" height="166.7" fill="#E64B35" fill-opacity="0.67" stroke="#000" stroke-width="1.9"/>
<path d="M885.4,298.8H981.5" stroke="#000" stroke-width="3.4"/>
<path d="M948.2,104 L948.2,104.9 L948.3,105.8 L948.4,106.9 L948.4,108.1 L948.5,109.3 L948.6,110.7 L948.7,112.2 L948.8,113.7 L948.9,115.3 L949,117 L949.1,118.7 L949.3,120.4 L949.4,122.2 L949.5,124 L949.6,125.8 L949.7,127.6 L949.9,129.4 L950,131.1 L950.1,132.5 L950.1,133.8 L950.2,135.2 L950.3,136.6 L950.4,138.1 L950.5,139.5 L950.6,141 L950.7,142.5 L950.8,144 L950.9,145.5 L951.1,147.1 L951.2,148.6 L951.3,150.2 L951.4,151.7 L951.5,153.3 L951.6,154.9 L951.7,156.4 L951.8,158 L951.9,159.6 L952,161.1 L952.1,162.7 L952.1,164.2 L952.2,165.7 L952.3,167.3 L952.4,168.8 L952.5,170.3 L952.5,171.8 L952.6,173.3 L952.7,174.8 L952.8,176.3 L952.8,177.8 L952.9,179.3 L953,180.8 L953,182.3 L953.1,183.8 L953.2,185.3 L953.2,186.8 L953.3,188.3 L953.3,189.8 L953.4,191.3 L953.5,192.8 L953.5,194.3 L953.6,195.9 L953.6,197.4 L953.7,198.9 L953.7,200.4 L953.8,201.9 L953.9,203.4 L953.9,204.9 L954,206.4 L954,207.9 L954.1,209.4 L954.1,210.9 L954.2,212.4 L954.2,213.9 L954.3,215.4 L954.3,216.9 L954.3,218.4 L954.4,219.9 L954.4,221.4 L954.5,223 L954.5,224.5 L954.6,226 L954.6,227.5 L954.6,229 L954.7,230.5 L954.7,232 L954.8,233.5 L954.8,235 L954.9,236.5 L954.9,238 L954.9,239.5 L955,241 L955,242.5 L955.1,244 L955.1,245.5 L955.1,247 L955.2,248.5 L955.2,250 L955.2,251.6 L955.3,253.1 L955.3,254.6 L955.4,256.1 L955.4,257.6 L955.4,259.1 L955.5,260.6 L955.5,262.1 L955.5,263.6 L955.6,265.1 L955.6,266.6 L955.6,268.1 L955.7,269.6 L955.7,271.1 L955.8,272.6 L955.8,274.1 L955.8,275.6 L955.9,277.1 L955.9,278.6 L956,280.2 L956,281.7 L956,283.2 L956.1,284.7 L956.1,286.2 L956.2,287.7 L956.2,289.2 L956.3,290.7 L956.3,292.2 L956.4,293.7 L956.4,295.2 L956.4,296.7 L956.5,298.2 L956.5,299.7 L956.6,301.2 L956.6,302.7 L956.7,304.2 L956.7,305.7 L956.8,307.2 L956.8,308.8 L956.9,310.3 L956.9,311.8 L957,313.3 L957,314.8 L957.1,316.3 L957.1,317.8 L957.2,319.3 L957.2,320.8 L957.3,322.3 L957.4,323.8 L957.4,325.3 L957.5,326.8 L957.5,328.3 L957.6,329.8 L957.6,331.3 L957.7,332.8 L957.8,334.3 L957.8,335.8 L957.9,337.4 L957.9,338.9 L958,340.4 L958,341.9 L958.1,343.4 L958.1,344.9 L958.1,346.4 L958.2,347.9 L958.2,349.4 L958.3,351 L958.3,352.5 L958.3,354.1 L958.4,355.7 L958.4,357.3 L958.4,359 L958.5,360.6 L958.5,362.2 L958.5,363.9 L958.5,365.5 L958.6,367.1 L958.6,368.7 L958.6,370.2 L958.6,371.8 L958.6,373.3 L958.7,374.8 L958.7,376.3 L958.7,377.7 L958.7,379 L958.7,380.4 L958.7,381.6 L958.7,382.9 L958.7,384 L958.7,386.2 L958.7,388.1 L958.7,389.8 L958.7,391.4 L958.7,392.8 L958.6,394.2 L958.6,395.5 L958.6,396.7 L958.5,398 L958.4,399.3 L958.4,400.6 L958.3,402.1 L958.2,403.6 L958.1,405.1 L957.9,406.6 L957.8,408.1 L957.6,409.6 L957.5,411.1 L957.3,412.6 L957.1,414.1 L957,415.6 L956.8,417.1 L956.6,418.6 L956.5,420.1 L956.3,421.7 L956.1,423.3 L956,424.9 L955.8,426.5 L955.6,428.1 L955.5,429.7 L955.3,431.3 L955.1,432.9 L955,434.3 L954.8,435.7 L954.6,437 L954.5,438.2 L954.2,440.3 L953.8,442.2 L953.5,443.9 L953.1,445.2 L952.9,446.4 L952.7,447.2 L914.7,447.2 L914.5,446.4 L914.3,445.2 L914,443.9 L913.6,442.2 L913.3,440.3 L912.9,438.2 L912.8,437 L912.6,435.7 L912.4,434.3 L912.3,432.9 L912.1,431.3 L911.9,429.7 L911.8,428.1 L911.6,426.5 L911.4,424.9 L911.3,423.3 L911.1,421.7 L910.9,420.1 L910.8,418.6 L910.6,417.1 L910.5,415.6 L910.3,414.1 L910.1,412.6 L910,411.1 L909.8,409.6 L909.6,408.1 L909.5,406.6 L909.4,405.1 L909.2,403.6 L909.1,402.1 L909.1,400.6 L909,399.3 L908.9,398 L908.9,396.7 L908.8,395.5 L908.8,394.2 L908.7,392.8 L908.7,391.4 L908.7,389.8 L908.7,388.1 L908.7,386.2 L908.7,384 L908.7,382.9 L908.7,381.6 L908.7,380.4 L908.7,379 L908.7,377.7 L908.7,376.3 L908.8,374.8 L908.8,373.3 L908.8,371.8 L908.8,370.2 L908.8,368.7 L908.9,367.1 L908.9,365.5 L908.9,363.9 L908.9,362.2 L909,360.6 L909,359 L909,357.3 L909.1,355.7 L909.1,354.1 L909.1,352.5 L909.2,351 L909.2,349.4 L909.2,347.9 L909.3,346.4 L909.3,344.9 L909.4,343.4 L909.4,341.9 L909.5,340.4 L909.5,338.9 L909.6,337.4 L909.6,335.8 L909.7,334.3 L909.7,332.8 L909.8,331.3 L909.8,329.8 L909.9,328.3 L909.9,326.8 L910,325.3 L910.1,323.8 L910.1,322.3 L910.2,320.8 L910.2,319.3 L910.3,317.8 L910.3,316.3 L910.4,314.8 L910.4,313.3 L910.5,311.8 L910.5,310.3 L910.6,308.8 L910.6,307.2 L910.7,305.7 L910.7,304.2 L910.8,302.7 L910.8,301.2 L910.9,299.7 L910.9,298.2 L911,296.7 L911,295.2 L911.1,293.7 L911.1,292.2 L911.2,290.7 L911.2,289.2 L911.2,287.7 L911.3,286.2 L911.3,284.7 L911.4,283.2 L911.4,281.7 L911.5,280.2 L911.5,278.6 L911.5,277.1 L911.6,275.6 L911.6,274.1 L911.7,272.6 L911.7,271.1 L911.7,269.6 L911.8,268.1 L911.8,266.6 L911.9,265.1 L911.9,263.6 L911.9,262.1 L912,260.6 L912,259.1 L912,257.6 L912.1,256.1 L912.1,254.6 L912.1,253.1 L912.2,251.6 L912.2,250 L912.3,248.5 L912.3,247 L912.3,245.5 L912.4,244 L912.4,242.5 L912.4,241 L912.5,239.5 L912.5,238 L912.6,236.5 L912.6,235 L912.7,233.5 L912.7,232 L912.7,230.5 L912.8,229 L912.8,227.5 L912.9,226 L912.9,224.5 L912.9,223 L913,221.4 L913,219.9 L913.1,218.4 L913.1,216.9 L913.2,215.4 L913.2,213.9 L913.3,212.4 L913.3,210.9 L913.4,209.4 L913.4,207.9 L913.5,206.4 L913.5,204.9 L913.6,203.4 L913.6,201.9 L913.7,200.4 L913.7,198.9 L913.8,197.4 L913.8,195.9 L913.9,194.3 L914,192.8 L914,191.3 L914.1,189.8 L914.1,188.3 L914.2,186.8 L914.3,185.3 L914.3,183.8 L914.4,182.3 L914.4,180.8 L914.5,179.3 L914.6,177.8 L914.7,176.3 L914.7,174.8 L914.8,173.3 L914.9,171.8 L914.9,170.3 L915,168.8 L915.1,167.3 L915.2,165.7 L915.3,164.2 L915.4,162.7 L915.5,161.1 L915.5,159.6 L915.6,158 L915.7,156.4 L915.8,154.9 L915.9,153.3 L916.1,151.7 L916.2,150.2 L916.3,148.6 L916.4,147.1 L916.5,145.5 L916.6,144 L916.7,142.5 L916.8,141 L916.9,139.5 L917,138.1 L917.1,136.6 L917.2,135.2 L917.3,133.8 L917.4,132.5 L917.5,131.1 L917.6,129.4 L917.7,127.6 L917.8,125.8 L917.9,124 L918,122.2 L918.2,120.4 L918.3,118.7 L918.4,117 L918.5,115.3 L918.6,113.7 L918.7,112.2 L918.8,110.7 L918.9,109.3 L919,108.1 L919.1,106.9 L919.1,105.8 L919.2,104.9 L919.3,104Z" fill="#E64B35" fill-opacity="0.5"/>
<g fill="#4DBBD5"><circle cx="1053.3" cy="94.5" r="4.1"/><circle cx="1044.8" cy="146.3" r="4.1"/><circle cx="1067.9" cy="156.4" r="4.1"/><circle cx="1073.8" cy="157.5" r="4.1"/><circle cx="1055.4" cy="162.2" r="4.1"/><circle cx="1038.1" cy="187.5" r="4.1"/><circle cx="1081.2" cy="194.9" r="4.1"/><circle cx="1048.8" cy="202.1" r="4.1"/><circle cx="1048" cy="540.9" r="4.1"/><circle cx="1072.7" cy="533.8" r="4.1"/><circle cx="1079.1" cy="533" r="4.1"/><circle cx="1053.6" cy="511.7" r="4.1"/><circle cx="1084.7" cy="276.1" r="4.1"/><circle cx="1079.3" cy="293.4" r="4.1"/><circle cx="1065.4" cy="475.3" r="4.1"/><circle cx="1057.1" cy="267.4" r="4.1"/><circle cx="1058.7" cy="367.1" r="4.1"/><circle cx="1066.9" cy="356" r="4.1"/><circle cx="1061.4" cy="397" r="4.1"/><circle cx="1071.6" cy="399.3" r="4.1"/><circle cx="1076.2" cy="385" r="4.1"/><circle cx="1065.2" cy="365.8" r="4.1"/><circle cx="1086.6" cy="370.2" r="4.1"/><circle cx="1084.1" cy="418.6" r="4.1"/><circle cx="1080.1" cy="441.8" r="4.1"/><circle cx="1062.2" cy="373.9" r="4.1"/><circle cx="1072.5" cy="455.1" r="4.1"/><circle cx="1062.8" cy="222.1" r="4.1"/><circle cx="1038.3" cy="468.9" r="4.1"/><circle cx="1043.9" cy="330.6" r="4.1"/><circle cx="1044.7" cy="261.9" r="4.1"/><circle cx="1054.6" cy="329.7" r="4.1"/><circle cx="1055.2" cy="364.1" r="4.1"/><circle cx="1071.7" cy="232.8" r="4.1"/><circle cx="1050.1" cy="294.2" r="4.1"/><circle cx="1083.7" cy="261.7" r="4.1"/><circle cx="1081.3" cy="428.7" r="4.1"/><circle cx="1050.3" cy="375.1" r="4.1"/><circle cx="1061.5" cy="214.5" r="4.1"/><circle cx="1050" cy="447.3" r="4.1"/><circle cx="1075.7" cy="347.9" r="4.1"/><circle cx="1043" cy="230.6" r="4.1"/><circle cx="1057.5" cy="488.9" r="4.1"/><circle cx="1061.5" cy="453.6" r="4.1"/><circle cx="1065.1" cy="289.7" r="4.1"/><circle cx="1062" cy="265.1" r="4.1"/><circle cx="1075.5" cy="293.3" r="4.1"/><circle cx="1079.9" cy="485.3" r="4.1"/><circle cx="1043.6" cy="445" r="4.1"/><circle cx="1049.4" cy="362.1" r="4.1"/><circle cx="1073.2" cy="446.2" r="4.1"/><circle cx="1047.1" cy="352.3" r="4.1"/><circle cx="1036.3" cy="461.3" r="4.1"/><circle cx="1071.2" cy="408" r="4.1"/><circle cx="1051.2" cy="429.2" r="4.1"/><circle cx="1083.1" cy="422.4" r="4.1"/><circle cx="1053.6" cy="449.6" r="4.1"/><circle cx="1040.8" cy="319.7" r="4.1"/><circle cx="1072.9" cy="349.7" r="4.1"/><circle cx="1050" cy="422.4" r="4.1"/><circle cx="1047.4" cy="330" r="4.1"/><circle cx="1037.8" cy="370.4" r="4.1"/><circle cx="1086.7" cy="444" r="4.1"/><circle cx="1065.1" cy="345.6" r="4.1"/><circle cx="1059.6" cy="429.7" r="4.1"/><circle cx="1078.4" cy="409.4" r="4.1"/><circle cx="1043.5" cy="418.9" r="4.1"/><circle cx="1042.4" cy="427.7" r="4.1"/><circle cx="1071.6" cy="433.7" r="4.1"/><circle cx="1036.3" cy="368.9" r="4.1"/><circle cx="1059.6" cy="272.2" r="4.1"/><circle cx="1046.1" cy="297.1" r="4.1"/><circle cx="1059.5" cy="437.8" r="4.1"/><circle cx="1042.7" cy="439.7" r="4.1"/><circle cx="1057.4" cy="464" r="4.1"/><circle cx="1072.6" cy="406" r="4.1"/><circle cx="1062.4" cy="273.4" r="4.1"/><circle cx="1042.4" cy="420.8" r="4.1"/><circle cx="1050.2" cy="437.2" r="4.1"/><circle cx="1045.6" cy="443.9" r="4.1"/><circle cx="1053.5" cy="345.4" r="4.1"/><circle cx="1051.9" cy="309.7" r="4.1"/><circle cx="1049.3" cy="323.9" r="4.1"/><circle cx="1069.1" cy="396.9" r="4.1"/><circle cx="1081.5" cy="303.7" r="4.1"/><circle cx="1069.4" cy="390.6" r="4.1"/><circle cx="1052.9" cy="362.3" r="4.1"/><circle cx="1066.3" cy="200.5" r="4.1"/><circle cx="1079.1" cy="318.2" r="4.1"/><circle cx="1050.3" cy="257.1" r="4.1"/><circle cx="1050.9" cy="397.5" r="4.1"/><circle cx="1047.6" cy="439.1" r="4.1"/><circle cx="1075.4" cy="410.4" r="4.1"/><circle cx="1079.1" cy="387.9" r="4.1"/><circle cx="1082.2" cy="286" r="4.1"/><circle cx="1073.6" cy="408" r="4.1"/><circle cx="1078.3" cy="286.6" r="4.1"/><circle cx="1061.5" cy="353.6" r="4.1"/><circle cx="1064" cy="429.3" r="4.1"/><circle cx="1072.5" cy="430.3" r="4.1"/><circle cx="1075.1" cy="397.9" r="4.1"/><circle cx="1069.4" cy="299.7" r="4.1"/><circle cx="1077.2" cy="430.2" r="4.1"/><circle cx="1038.2" cy="421.3" r="4.1"/><circle cx="1059.5" cy="296.1" r="4.1"/><circle cx="1061.5" cy="381.9" r="4.1"/><circle cx="1079.5" cy="443.1" r="4.1"/><circle cx="1037.3" cy="314.1" r="4.1"/><circle cx="1037.5" cy="257.9" r="4.1"/><circle cx="1056.7" cy="492.7" r="4.1"/><circle cx="1059.1" cy="415.7" r="4.1"/><circle cx="1081.5" cy="290.5" r="4.1"/><circle cx="1048.3" cy="446.1" r="4.1"/><circle cx="1072.7" cy="397.6" r="4.1"/><circle cx="1086" cy="334.8" r="4.1"/><circle cx="1061.6" cy="390.2" r="4.1"/><circle cx="1064.3" cy="252.3" r="4.1"/><circle cx="1061" cy="458.9" r="4.1"/><circle cx="1076.2" cy="352.7" r="4.1"/><circle cx="1081.6" cy="440.2" r="4.1"/><circle cx="1074.9" cy="387.9" r="4.1"/><circle cx="1057.6" cy="390.9" r="4.1"/><circle cx="1077.7" cy="333.5" r="4.1"/><circle cx="1083.5" cy="383" r="4.1"/><circle cx="1076.3" cy="476.8" r="4.1"/><circle cx="1038.4" cy="440.8" r="4.1"/><circle cx="1055.4" cy="379.5" r="4.1"/><circle cx="1079.9" cy="225.3" r="4.1"/><circle cx="1084" cy="340.2" r="4.1"/><circle cx="1048.8" cy="354.4" r="4.1"/><circle cx="1071.4" cy="375.2" r="4.1"/><circle cx="1053.7" cy="409.9" r="4.1"/><circle cx="1040.7" cy="458.6" r="4.1"/><circle cx="1085.5" cy="354.2" r="4.1"/><circle cx="1068.5" cy="509.2" r="4.1"/><circle cx="1053.1" cy="333" r="4.1"/><circle cx="1061.6" cy="452.9" r="4.1"/><circle cx="1076.6" cy="393.1" r="4.1"/><circle cx="1038" cy="338.3" r="4.1"/><circle cx="1073.9" cy="456.4" r="4.1"/><circle cx="1079.4" cy="449.2" r="4.1"/><circle cx="1048.8" cy="411.5" r="4.1"/><circle cx="1059.3" cy="380.1" r="4.1"/><circle cx="1042.6" cy="320.9" r="4.1"/><circle cx="1067.8" cy="336.7" r="4.1"/><circle cx="1060.8" cy="411.9" r="4.1"/><circle cx="1062.3" cy="219.4" r="4.1"/><circle cx="1069.9" cy="327.3" r="4.1"/><circle cx="1057.8" cy="245.3" r="4.1"/><circle cx="1049.1" cy="429.1" r="4.1"/><circle cx="1043.2" cy="272" r="4.1"/><circle cx="1059.9" cy="403" r="4.1"/><circle cx="1071.8" cy="306.7" r="4.1"/><circle cx="1037.2" cy="391.5" r="4.1"/><circle cx="1039.5" cy="511.5" r="4.1"/><circle cx="1066.9" cy="387.1" r="4.1"/><circle cx="1043.6" cy="393.2" r="4.1"/><circle cx="1039.9" cy="315.5" r="4.1"/><circle cx="1053.7" cy="385.7" r="4.1"/><circle cx="1067.6" cy="361.3" r="4.1"/><circle cx="1067.4" cy="466.7" r="4.1"/><circle cx="1052.2" cy="323.1" r="4.1"/><circle cx="1051.5" cy="267.9" r="4.1"/><circle cx="1061.8" cy="357.5" r="4.1"/><circle cx="1084.7" cy="362.3" r="4.1"/><circle cx="1041.6" cy="512.7" r="4.1"/><circle cx="1038.4" cy="348.5" r="4.1"/><circle cx="1054.7" cy="514.4" r="4.1"/><circle cx="1051" cy="345.5" r="4.1"/><circle cx="1063.7" cy="432.3" r="4.1"/><circle cx="1070.9" cy="467.6" r="4.1"/><circle cx="1084.5" cy="476.4" r="4.1"/><circle cx="1045.6" cy="469.8" r="4.1"/><circle cx="1056.7" cy="438.9" r="4.1"/><circle cx="1039" cy="341.5" r="4.1"/><circle cx="1085.1" cy="403.6" r="4.1"/><circle cx="1047.8" cy="272.6" r="4.1"/><circle cx="1062.5" cy="215.7" r="4.1"/><circle cx="1061" cy="401.3" r="4.1"/><circle cx="1059.9" cy="231.9" r="4.1"/><circle cx="1076.4" cy="220.9" r="4.1"/><circle cx="1083.3" cy="205.4" r="4.1"/><circle cx="1055.9" cy="381.4" r="4.1"/><circle cx="1039.5" cy="406" r="4.1"/><circle cx="1082.3" cy="375.9" r="4.1"/><circle cx="1065" cy="337" r="4.1"/><circle cx="1059.2" cy="398.7" r="4.1"/><circle cx="1051.5" cy="217.7" r="4.1"/><circle cx="1060.7" cy="403.7" r="4.1"/><circle cx="1061.9" cy="504.7" r="4.1"/><circle cx="1074.6" cy="503.6" r="4.1"/><circle cx="1070.3" cy="476.1" r="4.1"/><circle cx="1052.2" cy="359.5" r="4.1"/><circle cx="1078.8" cy="470.1" r="4.1"/><circle cx="1074.1" cy="409.8" r="4.1"/><circle cx="1060.2" cy="408.2" r="4.1"/><circle cx="1036.3" cy="322.6" r="4.1"/><circle cx="1042.5" cy="459.6" r="4.1"/><circle cx="1053.1" cy="416.6" r="4.1"/><circle cx="1074.5" cy="438.1" r="4.1"/><circle cx="1084.4" cy="346.8" r="4.1"/><circle cx="1080.5" cy="353.2" r="4.1"/></g>
<path d="M1061.8,332.7V188.8M1061.8,429.9V541" stroke="#000" stroke-width="1.8"/>
<rect x="1013.3" y="332.7" width="96.7" height="97.2" fill="#4DBBD5" fill-opacity="0.67" stroke="#000" stroke-width="1.9"/>
<path d="M1013.3,392.5H1110" stroke="#000" stroke-width="3.4"/>
<path d="M1062.3,92.5 L1062.4,93.5 L1062.6,95.1 L1062.7,97.5 L1062.8,98.7 L1062.9,100.1 L1062.9,101.7 L1063,103.3 L1063,105 L1063.1,106.8 L1063.2,108.5 L1063.2,110.1 L1063.3,111.6 L1063.4,113.2 L1063.4,114.8 L1063.5,116.3 L1063.6,117.9 L1063.6,119.5 L1063.7,121 L1063.8,122.6 L1063.9,124.2 L1064,125.7 L1064.1,127.3 L1064.2,128.9 L1064.3,130.4 L1064.4,132 L1064.5,133.6 L1064.6,135.2 L1064.7,136.7 L1064.8,138.3 L1064.9,139.9 L1065,141.4 L1065.1,143 L1065.2,144.6 L1065.3,146.1 L1065.4,147.7 L1065.5,149.3 L1065.6,150.8 L1065.7,152.4 L1065.8,154 L1065.9,155.5 L1066,157.1 L1066.1,158.7 L1066.2,160.2 L1066.3,161.8 L1066.4,163.4 L1066.5,164.9 L1066.6,166.5 L1066.8,168.1 L1066.9,169.6 L1067,171.2 L1067.1,172.8 L1067.3,174.3 L1067.4,175.9 L1067.5,177.5 L1067.7,179 L1067.8,180.6 L1068,182.2 L1068.1,183.7 L1068.3,185.3 L1068.4,186.9 L1068.5,188.4 L1068.6,190 L1068.7,191.6 L1068.8,193.1 L1068.9,194.7 L1069,196.3 L1069.1,197.8 L1069.3,199.4 L1069.4,201 L1069.5,202.5 L1069.7,204.1 L1069.8,205.7 L1070,207.2 L1070.1,208.8 L1070.3,210.4 L1070.4,211.9 L1070.6,213.5 L1070.7,215.1 L1070.9,216.6 L1071,218.2 L1071.2,219.8 L1071.4,221.3 L1071.5,222.9 L1071.7,224.5 L1071.8,226 L1072,227.6 L1072.1,229.2 L1072.3,230.7 L1072.4,232.3 L1072.6,233.9 L1072.8,235.5 L1073,237 L1073.1,238.6 L1073.3,240.2 L1073.5,241.7 L1073.7,243.3 L1073.9,244.9 L1074.1,246.4 L1074.3,248 L1074.5,249.6 L1074.7,251.1 L1074.9,252.7 L1075.1,254.3 L1075.3,255.8 L1075.5,257.4 L1075.7,259 L1075.9,260.5 L1076.1,262.1 L1076.3,263.7 L1076.5,265.2 L1076.7,266.8 L1076.9,268.4 L1077.1,269.9 L1077.3,271.5 L1077.5,273.1 L1077.7,274.6 L1077.9,276.2 L1078,277.8 L1078.2,279.3 L1078.4,280.9 L1078.6,282.5 L1078.8,284 L1079,285.6 L1079.3,287.2 L1079.5,288.7 L1079.7,290.3 L1079.9,291.9 L1080.2,293.4 L1080.4,295 L1080.7,296.6 L1080.9,298.1 L1081.2,299.7 L1081.4,301.3 L1081.7,302.8 L1082,304.4 L1082.3,305.9 L1082.6,307.5 L1083,309.1 L1083.4,310.7 L1083.9,312.3 L1084.5,314 L1085.1,315.7 L1085.7,317.4 L1086.4,319.1 L1087.1,320.8 L1087.8,322.5 L1088.6,324.1 L1089.3,325.7 L1090.1,327.3 L1091,328.8 L1091.9,330.3 L1092.7,331.8 L1093.6,333.3 L1094.4,334.8 L1095.1,336.3 L1095.8,337.9 L1096.5,339.6 L1097.2,341.2 L1097.8,342.8 L1098.4,344.4 L1099,346 L1099.6,347.6 L1100.2,349.2 L1100.9,350.8 L1101.5,352.4 L1102.2,354 L1102.8,355.6 L1103.5,357.2 L1104.1,358.8 L1104.7,360.5 L1105.3,362.1 L1105.9,363.7 L1106.5,365.3 L1107.1,366.9 L1107.7,368.5 L1108.3,370.1 L1108.9,371.7 L1109.6,373.3 L1110.2,375 L1110.9,376.6 L1111.6,378.2 L1112.2,379.8 L1112.8,381.4 L1113.3,383 L1113.9,384.6 L1114.4,386.2 L1114.9,387.9 L1115.3,389.5 L1115.8,391.1 L1116.2,392.7 L1116.6,394.3 L1116.9,395.9 L1117.3,397.5 L1117.6,399.1 L1117.9,400.7 L1118.2,402.4 L1118.4,404 L1118.6,405.6 L1118.8,407.4 L1119,409.1 L1119.1,410.8 L1119.2,412.4 L1119.3,413.9 L1119.3,415.3 L1119.4,417.6 L1119.3,419.2 L1119,420.9 L1118.7,422.6 L1118.2,424.2 L1117.3,426.5 L1116.7,427.8 L1116,429.3 L1115.2,431 L1114.4,432.7 L1113.4,434.4 L1112.4,436.2 L1111.4,437.8 L1110.4,439.4 L1109.2,441 L1108,442.7 L1106.7,444.3 L1105.4,445.9 L1104.2,447.5 L1103,449.1 L1101.8,450.7 L1100.6,452.3 L1099.5,453.9 L1098.4,455.5 L1097.2,457.2 L1096.1,458.8 L1095.1,460.4 L1094.1,462 L1093.1,463.6 L1092.1,465.2 L1091.2,466.8 L1090.2,468.4 L1089.3,470 L1088.3,471.7 L1087.3,473.3 L1086.3,474.9 L1085.4,476.5 L1084.4,478.1 L1083.4,479.7 L1082.4,481.3 L1081.5,482.9 L1080.7,484.6 L1079.8,486.2 L1079,487.8 L1078.2,489.4 L1077.4,491 L1076.6,492.6 L1075.9,494.2 L1075.2,495.8 L1074.5,497.4 L1073.9,499.1 L1073.3,500.7 L1072.7,502.3 L1072.1,503.9 L1071.6,505.5 L1071.1,507.1 L1070.6,508.7 L1070.2,510.3 L1069.8,512 L1069.4,513.6 L1069,515.2 L1068.6,516.8 L1068.2,518.4 L1067.8,520 L1067.4,521.6 L1067,523.2 L1066.7,524.8 L1066.3,526.5 L1066,528.1 L1065.7,529.8 L1065.3,531.6 L1065.1,533.4 L1064.8,535.1 L1064.5,536.8 L1064.3,538.2 L1064.1,539.4 L1063.5,541.2 L1063.2,541.6 L1060.4,541.6 L1060.1,541.2 L1059.5,539.4 L1059.3,538.2 L1059.1,536.8 L1058.8,535.1 L1058.5,533.4 L1058.3,531.6 L1057.9,529.8 L1057.6,528.1 L1057.3,526.5 L1056.9,524.8 L1056.6,523.2 L1056.2,521.6 L1055.8,520 L1055.4,518.4 L1055,516.8 L1054.6,515.2 L1054.2,513.6 L1053.8,512 L1053.4,510.3 L1053,508.7 L1052.5,507.1 L1052,505.5 L1051.4,503.9 L1050.9,502.3 L1050.3,500.7 L1049.7,499.1 L1049.1,497.4 L1048.4,495.8 L1047.7,494.2 L1047,492.6 L1046.2,491 L1045.4,489.4 L1044.6,487.8 L1043.8,486.2 L1042.9,484.6 L1042.1,482.9 L1041.1,481.3 L1040.2,479.7 L1039.2,478.1 L1038.2,476.5 L1037.3,474.9 L1036.3,473.3 L1035.3,471.7 L1034.3,470 L1033.4,468.4 L1032.4,466.8 L1031.5,465.2 L1030.5,463.6 L1029.5,462 L1028.5,460.4 L1027.5,458.8 L1026.4,457.2 L1025.2,455.5 L1024.1,453.9 L1023,452.3 L1021.8,450.7 L1020.6,449.1 L1019.4,447.5 L1018.2,445.9 L1016.9,444.3 L1015.6,442.7 L1014.4,441 L1013.2,439.4 L1012.2,437.8 L1011.1,436.2 L1010.2,434.4 L1009.2,432.7 L1008.4,431 L1007.6,429.3 L1006.9,427.8 L1006.3,426.5 L1005.4,424.2 L1004.9,422.6 L1004.6,420.9 L1004.3,419.2 L1004.2,417.6 L1004.3,415.3 L1004.3,413.9 L1004.4,412.4 L1004.5,410.8 L1004.6,409.1 L1004.8,407.4 L1005,405.6 L1005.2,404 L1005.4,402.4 L1005.7,400.7 L1006,399.1 L1006.3,397.5 L1006.7,395.9 L1007,394.3 L1007.4,392.7 L1007.8,391.1 L1008.3,389.5 L1008.7,387.9 L1009.2,386.2 L1009.7,384.6 L1010.3,383 L1010.8,381.4 L1011.4,379.8 L1012,378.2 L1012.7,376.6 L1013.3,375 L1014,373.3 L1014.7,371.7 L1015.3,370.1 L1015.9,368.5 L1016.5,366.9 L1017.1,365.3 L1017.7,363.7 L1018.3,362.1 L1018.9,360.5 L1019.5,358.8 L1020.1,357.2 L1020.8,355.6 L1021.4,354 L1022.1,352.4 L1022.7,350.8 L1023.4,349.2 L1024,347.6 L1024.6,346 L1025.2,344.4 L1025.8,342.8 L1026.4,341.2 L1027.1,339.6 L1027.8,337.9 L1028.5,336.3 L1029.2,334.8 L1030,333.3 L1030.9,331.8 L1031.7,330.3 L1032.6,328.8 L1033.5,327.3 L1034.3,325.7 L1035,324.1 L1035.8,322.5 L1036.5,320.8 L1037.2,319.1 L1037.9,317.4 L1038.5,315.7 L1039.1,314 L1039.7,312.3 L1040.2,310.7 L1040.6,309.1 L1041,307.5 L1041.3,305.9 L1041.6,304.4 L1041.9,302.8 L1042.2,301.3 L1042.4,299.7 L1042.7,298.1 L1042.9,296.6 L1043.2,295 L1043.4,293.4 L1043.7,291.9 L1043.9,290.3 L1044.1,288.7 L1044.3,287.2 L1044.6,285.6 L1044.8,284 L1045,282.5 L1045.2,280.9 L1045.4,279.3 L1045.6,277.8 L1045.7,276.2 L1045.9,274.6 L1046.1,273.1 L1046.3,271.5 L1046.5,269.9 L1046.7,268.4 L1046.9,266.8 L1047.1,265.2 L1047.3,263.7 L1047.5,262.1 L1047.7,260.5 L1047.9,259 L1048.1,257.4 L1048.3,255.8 L1048.5,254.3 L1048.7,252.7 L1048.9,251.1 L1049.1,249.6 L1049.3,248 L1049.5,246.4 L1049.7,244.9 L1049.9,243.3 L1050.1,241.7 L1050.3,240.2 L1050.5,238.6 L1050.6,237 L1050.8,235.5 L1051,233.9 L1051.2,232.3 L1051.3,230.7 L1051.5,229.2 L1051.6,227.6 L1051.8,226 L1051.9,224.5 L1052.1,222.9 L1052.2,221.3 L1052.4,219.8 L1052.6,218.2 L1052.7,216.6 L1052.9,215.1 L1053,213.5 L1053.2,211.9 L1053.3,210.4 L1053.5,208.8 L1053.6,207.2 L1053.8,205.7 L1053.9,204.1 L1054.1,202.5 L1054.2,201 L1054.3,199.4 L1054.5,197.8 L1054.6,196.3 L1054.7,194.7 L1054.8,193.1 L1054.9,191.6 L1055,190 L1055.1,188.4 L1055.2,186.9 L1055.3,185.3 L1055.5,183.7 L1055.6,182.2 L1055.8,180.6 L1055.9,179 L1056.1,177.5 L1056.2,175.9 L1056.3,174.3 L1056.5,172.8 L1056.6,171.2 L1056.7,169.6 L1056.8,168.1 L1057,166.5 L1057.1,164.9 L1057.2,163.4 L1057.3,161.8 L1057.4,160.2 L1057.5,158.7 L1057.6,157.1 L1057.7,155.5 L1057.8,154 L1057.9,152.4 L1058,150.8 L1058.1,149.3 L1058.2,147.7 L1058.3,146.1 L1058.4,144.6 L1058.5,143 L1058.6,141.4 L1058.7,139.9 L1058.8,138.3 L1058.9,136.7 L1059,135.2 L1059.1,133.6 L1059.2,132 L1059.3,130.4 L1059.4,128.9 L1059.5,127.3 L1059.6,125.7 L1059.7,124.2 L1059.8,122.6 L1059.9,121 L1060,119.5 L1060,117.9 L1060.1,116.3 L1060.2,114.8 L1060.2,113.2 L1060.3,111.6 L1060.4,110.1 L1060.4,108.5 L1060.5,106.8 L1060.6,105 L1060.6,103.3 L1060.7,101.7 L1060.7,100.1 L1060.8,98.7 L1060.9,97.5 L1061,95.1 L1061.2,93.5 L1061.3,92.5Z" fill="#4DBBD5" fill-opacity="0.5"/>
<rect x="857.3" y="45.7" width="279.8" height="518.2" fill="none" stroke="#2b2b2b" stroke-width="3.4"/>
<path d="M851.6,196.3H856.6M851.6,369.5H856.6M851.6,542.3H856.6" stroke="#333" stroke-width="1.3"/>
<g font-size="17" text-anchor="end" fill="#111" stroke="#111" stroke-width="0.4"><text x="848.6" y="202.9">2</text><text x="848.6" y="376.1">0</text><text x="848.6" y="548.9">−2</text></g>
<text x="896.5" y="81.7" font-size="23.3" textLength="187.3" lengthAdjust="spacingAndGlyphs" fill="#000" stroke="#000" stroke-width="0.45">Wilcoxon, p = 0.024</text>
<text transform="translate(934.2,573.5) rotate(-50)" y="14.3" font-size="21.5" text-anchor="end" fill="#000" stroke="#000" stroke-width="0.45">>60</text>
<text transform="translate(1062.3,573.5) rotate(-50)" y="14.3" font-size="21.5" text-anchor="end" fill="#000" stroke="#000" stroke-width="0.45">...60</text>
<text x="997.3" y="637.3" font-weight="bold" font-size="24.0" fill="#8B0000" stroke="#8B0000" stroke-width="0.35" text-anchor="middle" lengthAdjust="spacingAndGlyphs" textLength="42.3">Age</text>
<text transform="translate(821.3,304.8) rotate(-90)" font-weight="bold" font-size="22.6" fill="#8B0000" stroke="#8B0000" stroke-width="0.35" text-anchor="middle" lengthAdjust="spacingAndGlyphs" textLength="324">MAP2K3 Expression (z−score)</text>
<text x="997.3" y="31" font-weight="bold" font-size="24.0" fill="#8B0000" stroke="#8B0000" stroke-width="0.35" text-anchor="middle" lengthAdjust="spacingAndGlyphs" textLength="117">CGGA_325</text>
<text x="809.3" y="31" font-weight="bold" font-size="29.2" text-anchor="middle" fill="#000" stroke="#000" stroke-width="0.4" textLength="19.6" lengthAdjust="spacingAndGlyphs">C</text>
<rect x="1249.1" y="45.3" width="275.1" height="514.5" fill="#F1F4F5"/>
<path d="M1244.1,157.8H1529.2M1244.1,288H1529.2M1244.1,418.5H1529.2M1244.1,549.2H1529.2M1321.9,564.8V40.3M1451.1,564.8V40.3" stroke="#C8CACB" stroke-width="1.2" stroke-dasharray="6.45 6.45" fill="none"/>
<g fill="#E64B35"><circle cx="1303.6" cy="96.1" r="4.1"/><circle cx="1329.3" cy="260.4" r="4.1"/><circle cx="1330.7" cy="261.4" r="4.1"/><circle cx="1321.4" cy="268.9" r="4.1"/><circle cx="1347.9" cy="285.6" r="4.1"/><circle cx="1338.6" cy="288.8" r="4.1"/><circle cx="1316.1" cy="539.9" r="4.1"/><circle cx="1301.4" cy="516.5" r="4.1"/><circle cx="1347.1" cy="510.7" r="4.1"/><circle cx="1304.9" cy="454" r="4.1"/><circle cx="1346" cy="300.8" r="4.1"/><circle cx="1322.7" cy="323.6" r="4.1"/><circle cx="1315.1" cy="386.7" r="4.1"/><circle cx="1328.6" cy="367.9" r="4.1"/><circle cx="1305.1" cy="415.6" r="4.1"/><circle cx="1300" cy="350.1" r="4.1"/><circle cx="1329.9" cy="300" r="4.1"/><circle cx="1336.3" cy="408" r="4.1"/><circle cx="1320.8" cy="357.6" r="4.1"/><circle cx="1319.6" cy="534.2" r="4.1"/><circle cx="1331.3" cy="361.6" r="4.1"/><circle cx="1297.9" cy="433.9" r="4.1"/><circle cx="1296.5" cy="345.8" r="4.1"/><circle cx="1311" cy="489.2" r="4.1"/><circle cx="1333.3" cy="448.8" r="4.1"/><circle cx="1328" cy="387.9" r="4.1"/><circle cx="1304.4" cy="369" r="4.1"/><circle cx="1328" cy="452.1" r="4.1"/><circle cx="1314.1" cy="300.7" r="4.1"/><circle cx="1337.9" cy="389.5" r="4.1"/><circle cx="1320.5" cy="366.7" r="4.1"/><circle cx="1316.1" cy="442.9" r="4.1"/><circle cx="1332.8" cy="391.7" r="4.1"/><circle cx="1309.9" cy="281.7" r="4.1"/><circle cx="1326" cy="448.5" r="4.1"/><circle cx="1346.3" cy="381.4" r="4.1"/><circle cx="1304.1" cy="470" r="4.1"/><circle cx="1320.1" cy="406.6" r="4.1"/><circle cx="1332.1" cy="366.9" r="4.1"/><circle cx="1299.7" cy="391.4" r="4.1"/><circle cx="1343" cy="397.8" r="4.1"/><circle cx="1312.2" cy="376" r="4.1"/><circle cx="1322.1" cy="374.4" r="4.1"/><circle cx="1301" cy="293.1" r="4.1"/><circle cx="1312.7" cy="356.7" r="4.1"/><circle cx="1333.6" cy="465.6" r="4.1"/><circle cx="1298.3" cy="472.2" r="4.1"/><circle cx="1330.6" cy="358.1" r="4.1"/><circle cx="1344.6" cy="447.5" r="4.1"/><circle cx="1341.4" cy="405.1" r="4.1"/><circle cx="1326.2" cy="344.1" r="4.1"/><circle cx="1311.3" cy="428.9" r="4.1"/><circle cx="1325.4" cy="433" r="4.1"/><circle cx="1310" cy="396.5" r="4.1"/><circle cx="1333.6" cy="312.2" r="4.1"/><circle cx="1336.2" cy="389.2" r="4.1"/><circle cx="1325.9" cy="512.5" r="4.1"/><circle cx="1341.6" cy="342.2" r="4.1"/><circle cx="1316.9" cy="509.6" r="4.1"/><circle cx="1306.4" cy="428.8" r="4.1"/><circle cx="1297" cy="367.3" r="4.1"/><circle cx="1341.3" cy="469" r="4.1"/><circle cx="1315.5" cy="473.6" r="4.1"/><circle cx="1298.6" cy="301.5" r="4.1"/><circle cx="1313" cy="480.4" r="4.1"/><circle cx="1297.9" cy="441.2" r="4.1"/><circle cx="1343" cy="350.7" r="4.1"/><circle cx="1296.1" cy="475.7" r="4.1"/><circle cx="1307" cy="364.2" r="4.1"/><circle cx="1323.8" cy="396.1" r="4.1"/><circle cx="1322.7" cy="373.7" r="4.1"/><circle cx="1300.3" cy="444.7" r="4.1"/><circle cx="1302.5" cy="384.4" r="4.1"/><circle cx="1327.3" cy="514.6" r="4.1"/><circle cx="1346.2" cy="348.5" r="4.1"/><circle cx="1346.7" cy="362.9" r="4.1"/><circle cx="1332" cy="407.6" r="4.1"/><circle cx="1344.1" cy="309.7" r="4.1"/><circle cx="1320.1" cy="377.5" r="4.1"/><circle cx="1302.6" cy="261.1" r="4.1"/><circle cx="1326.8" cy="376.9" r="4.1"/><circle cx="1299.1" cy="485.5" r="4.1"/><circle cx="1323.2" cy="321.9" r="4.1"/><circle cx="1342.6" cy="349.8" r="4.1"/><circle cx="1304.2" cy="370.7" r="4.1"/></g>
<path d="M1321.9,329.9V259.9M1321.9,437.2V539.7" stroke="#000" stroke-width="1.8"/>
<rect x="1273.3" y="329.9" width="97.1" height="107.3" fill="#E64B35" fill-opacity="0.67" stroke="#000" stroke-width="1.9"/>
<path d="M1273.3,392.4H1370.4" stroke="#000" stroke-width="3.4"/>
<path d="M1323,96 L1323,96.9 L1323,97.9 L1323,99.1 L1323,100.5 L1323,102 L1323,103.5 L1322.9,105.2 L1322.9,106.9 L1322.9,108.7 L1322.9,110.5 L1322.9,112.3 L1322.9,114.1 L1322.9,115.4 L1322.9,116.8 L1322.9,118.2 L1322.9,119.7 L1322.9,121.2 L1322.8,122.7 L1322.8,124.2 L1322.8,125.7 L1322.8,127.3 L1322.8,128.9 L1322.8,130.4 L1322.8,132 L1322.8,133.6 L1322.8,135.1 L1322.8,136.6 L1322.7,138.2 L1322.7,139.7 L1322.7,141.2 L1322.7,142.7 L1322.7,144.2 L1322.7,145.7 L1322.7,147.2 L1322.7,148.7 L1322.7,150.2 L1322.7,151.7 L1322.6,153.2 L1322.6,154.7 L1322.6,156.2 L1322.6,157.7 L1322.6,159.2 L1322.6,160.7 L1322.6,162.2 L1322.6,163.8 L1322.6,165.3 L1322.6,166.9 L1322.6,168.4 L1322.6,170 L1322.7,171.6 L1322.7,173.2 L1322.7,174.8 L1322.7,176.3 L1322.7,177.9 L1322.7,179.4 L1322.7,180.9 L1322.7,182.3 L1322.8,183.7 L1322.8,185 L1322.8,186.3 L1322.8,188.3 L1322.8,190.2 L1322.9,192 L1322.9,193.7 L1322.9,195.3 L1322.9,196.9 L1323,198.4 L1323,199.8 L1323,201.1 L1323.1,202.4 L1323.1,204.5 L1323.2,206.1 L1323.3,207.6 L1323.4,208.9 L1323.5,210.4 L1323.6,212 L1323.8,213.6 L1323.9,215.2 L1324.1,216.8 L1324.2,218.4 L1324.4,220 L1324.6,221.6 L1324.9,223.2 L1325.1,224.8 L1325.3,226.4 L1325.5,228 L1325.8,229.6 L1326,231.3 L1326.3,232.9 L1326.5,234.5 L1326.8,236.1 L1327,237.7 L1327.2,239.4 L1327.5,241 L1327.7,242.5 L1328,244.3 L1328.3,246 L1328.5,247.6 L1328.8,249.2 L1329,250.5 L1329.2,251.7 L1329.5,253.1 L1329.9,255.3 L1330.2,256.4 L1330.4,257.8 L1330.7,259.2 L1331,260.7 L1331.3,262.4 L1331.7,264 L1332,265.7 L1332.3,267.4 L1332.7,269 L1333,270.6 L1333.3,272.1 L1333.6,273.6 L1333.9,275.2 L1334.2,276.7 L1334.5,278.2 L1334.8,279.8 L1335.1,281.3 L1335.4,282.8 L1335.7,284.3 L1336,285.9 L1336.3,287.4 L1336.7,288.9 L1337,290.5 L1337.3,292 L1337.6,293.5 L1337.9,295 L1338.2,296.6 L1338.5,298.1 L1338.8,299.6 L1339.1,301.2 L1339.4,302.7 L1339.7,304.2 L1340,305.7 L1340.3,307.3 L1340.6,308.8 L1340.9,310.3 L1341.2,311.9 L1341.5,313.4 L1341.9,314.9 L1342.2,316.5 L1342.5,318 L1342.8,319.5 L1343.1,321 L1343.4,322.6 L1343.7,324.1 L1344,325.6 L1344.3,327.2 L1344.6,328.7 L1344.9,330.2 L1345.2,331.7 L1345.5,333.3 L1345.8,334.8 L1346.2,336.3 L1346.5,337.9 L1346.8,339.4 L1347.1,340.9 L1347.4,342.4 L1347.7,344 L1348,345.5 L1348.3,347 L1348.5,348.6 L1348.8,350.1 L1349,351.6 L1349.3,353.1 L1349.5,354.7 L1349.7,356.2 L1350,357.7 L1350.2,359.3 L1350.4,360.8 L1350.6,362.3 L1350.8,363.9 L1350.9,365.4 L1351.1,366.9 L1351.3,368.4 L1351.4,370 L1351.6,371.5 L1351.7,373 L1351.8,374.6 L1352,376.1 L1352.1,377.6 L1352.2,379.1 L1352.3,380.7 L1352.5,382.2 L1352.6,383.7 L1352.7,385.3 L1352.8,386.8 L1352.9,388.3 L1352.9,389.8 L1353,391.4 L1353,392.9 L1353,394.4 L1353,396 L1353,397.5 L1353,399 L1352.9,400.6 L1352.9,402.1 L1352.8,403.6 L1352.7,405.1 L1352.6,406.7 L1352.5,408.2 L1352.3,409.7 L1352.2,411.3 L1352,412.8 L1351.9,414.3 L1351.7,415.8 L1351.5,417.4 L1351.3,418.9 L1351,420.4 L1350.8,422 L1350.6,423.5 L1350.3,425 L1350,426.5 L1349.7,428.1 L1349.4,429.6 L1349.1,431.1 L1348.8,432.7 L1348.5,434.2 L1348.2,435.7 L1347.8,437.2 L1347.5,438.8 L1347.2,440.3 L1346.8,441.8 L1346.5,443.4 L1346.1,444.9 L1345.8,446.4 L1345.4,448 L1345.1,449.5 L1344.7,451 L1344.4,452.5 L1344.1,454.1 L1343.8,455.6 L1343.4,457.1 L1343.1,458.7 L1342.8,460.2 L1342.5,461.7 L1342.2,463.2 L1341.9,464.8 L1341.6,466.3 L1341.3,467.8 L1341,469.4 L1340.7,470.9 L1340.3,472.4 L1340,473.9 L1339.6,475.5 L1339.3,477 L1338.9,478.5 L1338.6,480.1 L1338.2,481.6 L1337.9,483.1 L1337.6,484.6 L1337.3,486.2 L1336.9,487.7 L1336.6,489.2 L1336.3,490.8 L1336,492.3 L1335.7,493.8 L1335.4,495.4 L1335.1,496.9 L1334.8,498.4 L1334.5,499.9 L1334.2,501.5 L1333.9,503 L1333.6,504.5 L1333.3,506.1 L1333,507.6 L1332.7,509.1 L1332.4,510.6 L1332.1,512.2 L1331.8,513.7 L1331.5,515.2 L1331.2,516.8 L1330.9,518.4 L1330.5,520 L1330.2,521.6 L1329.9,523.3 L1329.6,524.8 L1329.4,526.4 L1329.1,527.9 L1328.8,529.2 L1328.6,530.5 L1328.3,532.5 L1328,534.4 L1327.8,536.1 L1327.6,537.5 L1327.4,538.8 L1327.3,539.7 L1316.5,539.7 L1316.4,538.8 L1316.2,537.5 L1316,536.1 L1315.8,534.4 L1315.5,532.5 L1315.2,530.5 L1314.9,529.2 L1314.7,527.9 L1314.4,526.4 L1314.2,524.8 L1313.9,523.3 L1313.6,521.6 L1313.3,520 L1312.9,518.4 L1312.6,516.8 L1312.3,515.2 L1312,513.7 L1311.7,512.2 L1311.4,510.6 L1311.1,509.1 L1310.8,507.6 L1310.5,506.1 L1310.2,504.5 L1309.9,503 L1309.6,501.5 L1309.3,499.9 L1309,498.4 L1308.7,496.9 L1308.4,495.4 L1308.1,493.8 L1307.8,492.3 L1307.5,490.8 L1307.2,489.2 L1306.9,487.7 L1306.5,486.2 L1306.2,484.6 L1305.9,483.1 L1305.6,481.6 L1305.2,480.1 L1304.9,478.5 L1304.5,477 L1304.2,475.5 L1303.8,473.9 L1303.5,472.4 L1303.1,470.9 L1302.8,469.4 L1302.5,467.8 L1302.2,466.3 L1301.9,464.8 L1301.6,463.2 L1301.3,461.7 L1301,460.2 L1300.7,458.7 L1300.4,457.1 L1300,455.6 L1299.7,454.1 L1299.4,452.5 L1299.1,451 L1298.7,449.5 L1298.4,448 L1298,446.4 L1297.7,444.9 L1297.3,443.4 L1297,441.8 L1296.6,440.3 L1296.3,438.8 L1296,437.2 L1295.6,435.7 L1295.3,434.2 L1295,432.7 L1294.7,431.1 L1294.4,429.6 L1294.1,428.1 L1293.8,426.5 L1293.5,425 L1293.2,423.5 L1293,422 L1292.8,420.4 L1292.5,418.9 L1292.3,417.4 L1292.1,415.8 L1291.9,414.3 L1291.8,412.8 L1291.6,411.3 L1291.4,409.7 L1291.3,408.2 L1291.2,406.7 L1291.1,405.1 L1291,403.6 L1290.9,402.1 L1290.9,400.6 L1290.8,399 L1290.8,397.5 L1290.8,396 L1290.8,394.4 L1290.8,392.9 L1290.8,391.4 L1290.9,389.8 L1290.9,388.3 L1291,386.8 L1291.1,385.3 L1291.2,383.7 L1291.3,382.2 L1291.5,380.7 L1291.6,379.1 L1291.7,377.6 L1291.8,376.1 L1292,374.6 L1292.1,373 L1292.2,371.5 L1292.4,370 L1292.5,368.4 L1292.7,366.9 L1292.9,365.4 L1293,363.9 L1293.2,362.3 L1293.4,360.8 L1293.6,359.3 L1293.8,357.7 L1294.1,356.2 L1294.3,354.7 L1294.5,353.1 L1294.8,351.6 L1295,350.1 L1295.3,348.6 L1295.5,347 L1295.8,345.5 L1296.1,344 L1296.4,342.4 L1296.7,340.9 L1297,339.4 L1297.3,337.9 L1297.6,336.3 L1298,334.8 L1298.3,333.3 L1298.6,331.7 L1298.9,330.2 L1299.2,328.7 L1299.5,327.2 L1299.8,325.6 L1300.1,324.1 L1300.4,322.6 L1300.7,321 L1301,319.5 L1301.3,318 L1301.6,316.5 L1301.9,314.9 L1302.3,313.4 L1302.6,311.9 L1302.9,310.3 L1303.2,308.8 L1303.5,307.3 L1303.8,305.7 L1304.1,304.2 L1304.4,302.7 L1304.7,301.2 L1305,299.6 L1305.3,298.1 L1305.6,296.6 L1305.9,295 L1306.2,293.5 L1306.5,292 L1306.8,290.5 L1307.1,288.9 L1307.4,287.4 L1307.8,285.9 L1308.1,284.3 L1308.4,282.8 L1308.7,281.3 L1309,279.8 L1309.3,278.2 L1309.6,276.7 L1309.9,275.2 L1310.2,273.6 L1310.5,272.1 L1310.8,270.6 L1311.1,269 L1311.5,267.4 L1311.8,265.7 L1312.1,264 L1312.5,262.4 L1312.8,260.7 L1313.1,259.2 L1313.4,257.8 L1313.6,256.4 L1313.9,255.3 L1314.3,253.1 L1314.6,251.7 L1314.8,250.5 L1315,249.2 L1315.3,247.6 L1315.5,246 L1315.8,244.3 L1316.1,242.5 L1316.3,241 L1316.6,239.4 L1316.8,237.7 L1317,236.1 L1317.3,234.5 L1317.5,232.9 L1317.8,231.3 L1318,229.6 L1318.3,228 L1318.5,226.4 L1318.7,224.8 L1318.9,223.2 L1319.2,221.6 L1319.4,220 L1319.6,218.4 L1319.7,216.8 L1319.9,215.2 L1320,213.6 L1320.2,212 L1320.3,210.4 L1320.4,208.9 L1320.5,207.6 L1320.6,206.1 L1320.7,204.5 L1320.7,202.4 L1320.8,201.1 L1320.8,199.8 L1320.8,198.4 L1320.9,196.9 L1320.9,195.3 L1320.9,193.7 L1320.9,192 L1321,190.2 L1321,188.3 L1321,186.3 L1321,185 L1321,183.7 L1321.1,182.3 L1321.1,180.9 L1321.1,179.4 L1321.1,177.9 L1321.1,176.3 L1321.1,174.8 L1321.1,173.2 L1321.1,171.6 L1321.2,170 L1321.2,168.4 L1321.2,166.9 L1321.2,165.3 L1321.2,163.8 L1321.2,162.2 L1321.2,160.7 L1321.2,159.2 L1321.2,157.7 L1321.2,156.2 L1321.2,154.7 L1321.2,153.2 L1321.1,151.7 L1321.1,150.2 L1321.1,148.7 L1321.1,147.2 L1321.1,145.7 L1321.1,144.2 L1321.1,142.7 L1321.1,141.2 L1321.1,139.7 L1321.1,138.2 L1321,136.6 L1321,135.1 L1321,133.6 L1321,132 L1321,130.4 L1321,128.9 L1321,127.3 L1321,125.7 L1321,124.2 L1321,122.7 L1320.9,121.2 L1320.9,119.7 L1320.9,118.2 L1320.9,116.8 L1320.9,115.4 L1320.9,114.1 L1320.9,112.3 L1320.9,110.5 L1320.9,108.7 L1320.9,106.9 L1320.9,105.2 L1320.8,103.5 L1320.8,102 L1320.8,100.5 L1320.8,99.1 L1320.8,97.9 L1320.8,96.9 L1320.8,96Z" fill="#E64B35" fill-opacity="0.5"/>
<g fill="#4DBBD5"><circle cx="1445.5" cy="197.6" r="4.1"/><circle cx="1433" cy="215.2" r="4.1"/><circle cx="1449.5" cy="217.8" r="4.1"/><circle cx="1428.2" cy="233" r="4.1"/><circle cx="1449.7" cy="231.1" r="4.1"/><circle cx="1458.8" cy="230.3" r="4.1"/><circle cx="1457.7" cy="236.2" r="4.1"/><circle cx="1470.2" cy="244.9" r="4.1"/><circle cx="1442.3" cy="247.6" r="4.1"/><circle cx="1472" cy="268.3" r="4.1"/><circle cx="1431.7" cy="539.9" r="4.1"/><circle cx="1427.7" cy="526.6" r="4.1"/><circle cx="1475" cy="521.8" r="4.1"/><circle cx="1460.9" cy="528.5" r="4.1"/><circle cx="1446.5" cy="319.8" r="4.1"/><circle cx="1433.3" cy="454.7" r="4.1"/><circle cx="1430.4" cy="457.9" r="4.1"/><circle cx="1428.7" cy="458.4" r="4.1"/><circle cx="1442.1" cy="461.9" r="4.1"/><circle cx="1440.1" cy="436.5" r="4.1"/><circle cx="1463.2" cy="401.9" r="4.1"/><circle cx="1436.3" cy="261.4" r="4.1"/><circle cx="1465.3" cy="461.6" r="4.1"/><circle cx="1454.6" cy="498.1" r="4.1"/><circle cx="1472.2" cy="463.9" r="4.1"/><circle cx="1461.9" cy="481.4" r="4.1"/><circle cx="1467.4" cy="383.1" r="4.1"/><circle cx="1474" cy="469.6" r="4.1"/><circle cx="1436.1" cy="438.9" r="4.1"/><circle cx="1433.4" cy="457.5" r="4.1"/><circle cx="1444.3" cy="464.2" r="4.1"/><circle cx="1462.3" cy="423.8" r="4.1"/><circle cx="1459.1" cy="432.9" r="4.1"/><circle cx="1442.7" cy="266.4" r="4.1"/><circle cx="1468.2" cy="403.7" r="4.1"/><circle cx="1437.2" cy="455.8" r="4.1"/><circle cx="1426.7" cy="428.6" r="4.1"/><circle cx="1444.6" cy="387.6" r="4.1"/><circle cx="1426.6" cy="415.3" r="4.1"/><circle cx="1466.2" cy="469.2" r="4.1"/><circle cx="1430.7" cy="398.1" r="4.1"/><circle cx="1465.6" cy="407.2" r="4.1"/><circle cx="1427" cy="522.5" r="4.1"/><circle cx="1467.1" cy="451.5" r="4.1"/><circle cx="1474.5" cy="438.1" r="4.1"/><circle cx="1455.9" cy="469.1" r="4.1"/><circle cx="1434.2" cy="227.1" r="4.1"/><circle cx="1439.1" cy="479.9" r="4.1"/><circle cx="1430.8" cy="379.2" r="4.1"/><circle cx="1469.2" cy="401.2" r="4.1"/><circle cx="1475.4" cy="475.6" r="4.1"/><circle cx="1468.6" cy="327.3" r="4.1"/><circle cx="1472.4" cy="493.5" r="4.1"/><circle cx="1435.4" cy="467.2" r="4.1"/><circle cx="1426.3" cy="451.5" r="4.1"/><circle cx="1435.5" cy="490.4" r="4.1"/><circle cx="1462.6" cy="425.7" r="4.1"/><circle cx="1462.4" cy="374.2" r="4.1"/><circle cx="1443.8" cy="510.3" r="4.1"/><circle cx="1448.9" cy="435.8" r="4.1"/><circle cx="1434.4" cy="412.8" r="4.1"/><circle cx="1448.2" cy="319.9" r="4.1"/><circle cx="1447.1" cy="450.7" r="4.1"/><circle cx="1435.1" cy="367.7" r="4.1"/><circle cx="1455.5" cy="454.7" r="4.1"/><circle cx="1458" cy="416" r="4.1"/><circle cx="1447.7" cy="349.7" r="4.1"/><circle cx="1456.2" cy="267.8" r="4.1"/><circle cx="1452.5" cy="317.7" r="4.1"/><circle cx="1439.5" cy="418.8" r="4.1"/><circle cx="1470.7" cy="459.8" r="4.1"/><circle cx="1442.3" cy="464.8" r="4.1"/><circle cx="1435.8" cy="470.5" r="4.1"/><circle cx="1436.3" cy="501.1" r="4.1"/><circle cx="1447.4" cy="338.2" r="4.1"/><circle cx="1452.4" cy="526.4" r="4.1"/><circle cx="1442.8" cy="466.1" r="4.1"/><circle cx="1442.5" cy="437.9" r="4.1"/><circle cx="1443.5" cy="335.5" r="4.1"/><circle cx="1445.8" cy="362" r="4.1"/><circle cx="1438.9" cy="306.9" r="4.1"/><circle cx="1473.2" cy="456.7" r="4.1"/><circle cx="1460.1" cy="419.4" r="4.1"/><circle cx="1446.8" cy="402.7" r="4.1"/><circle cx="1471.9" cy="399.3" r="4.1"/><circle cx="1452.5" cy="503.6" r="4.1"/><circle cx="1425.9" cy="394.3" r="4.1"/><circle cx="1472.3" cy="411.9" r="4.1"/><circle cx="1451" cy="464.1" r="4.1"/><circle cx="1425.9" cy="366.8" r="4.1"/><circle cx="1433.8" cy="444.5" r="4.1"/><circle cx="1432.2" cy="441.7" r="4.1"/><circle cx="1428.8" cy="430.5" r="4.1"/><circle cx="1443.9" cy="473.9" r="4.1"/><circle cx="1470.1" cy="441.5" r="4.1"/><circle cx="1443.3" cy="403.1" r="4.1"/><circle cx="1430.4" cy="381.5" r="4.1"/><circle cx="1459.1" cy="403.5" r="4.1"/><circle cx="1439.6" cy="426.2" r="4.1"/><circle cx="1426.5" cy="392.2" r="4.1"/><circle cx="1471.9" cy="481" r="4.1"/><circle cx="1468" cy="440.5" r="4.1"/><circle cx="1456.8" cy="378.3" r="4.1"/><circle cx="1448.1" cy="492" r="4.1"/><circle cx="1431.4" cy="405.2" r="4.1"/><circle cx="1453.1" cy="367.6" r="4.1"/><circle cx="1437.3" cy="271.7" r="4.1"/><circle cx="1455.2" cy="281.4" r="4.1"/><circle cx="1430.2" cy="438.1" r="4.1"/><circle cx="1432.6" cy="336.7" r="4.1"/><circle cx="1456.7" cy="489.7" r="4.1"/><circle cx="1437.1" cy="484.3" r="4.1"/><circle cx="1440.8" cy="252.2" r="4.1"/><circle cx="1429.3" cy="427.9" r="4.1"/><circle cx="1464.7" cy="342.1" r="4.1"/><circle cx="1470.9" cy="449.6" r="4.1"/><circle cx="1450.5" cy="484.5" r="4.1"/><circle cx="1465.2" cy="425.1" r="4.1"/><circle cx="1442.9" cy="463.5" r="4.1"/><circle cx="1425.3" cy="457.3" r="4.1"/><circle cx="1457.3" cy="475.2" r="4.1"/><circle cx="1434.7" cy="447.4" r="4.1"/><circle cx="1439.7" cy="414.9" r="4.1"/><circle cx="1460.7" cy="392.9" r="4.1"/><circle cx="1475" cy="347.8" r="4.1"/><circle cx="1442.6" cy="387" r="4.1"/><circle cx="1433.3" cy="453.4" r="4.1"/><circle cx="1441.2" cy="345.8" r="4.1"/><circle cx="1465.8" cy="414.2" r="4.1"/><circle cx="1437.4" cy="376.3" r="4.1"/><circle cx="1433" cy="410.6" r="4.1"/><circle cx="1437.5" cy="489.1" r="4.1"/><circle cx="1431.7" cy="456.4" r="4.1"/><circle cx="1431.6" cy="469.1" r="4.1"/><circle cx="1453.6" cy="316.8" r="4.1"/><circle cx="1439.7" cy="475" r="4.1"/><circle cx="1470.8" cy="466.8" r="4.1"/><circle cx="1445.3" cy="449.1" r="4.1"/><circle cx="1427.9" cy="209.4" r="4.1"/><circle cx="1443.2" cy="419.9" r="4.1"/><circle cx="1446.9" cy="452.5" r="4.1"/><circle cx="1453.3" cy="313.1" r="4.1"/><circle cx="1457.4" cy="466.3" r="4.1"/><circle cx="1456.2" cy="466.3" r="4.1"/><circle cx="1435.5" cy="461.9" r="4.1"/><circle cx="1427.9" cy="506.8" r="4.1"/><circle cx="1449" cy="512.6" r="4.1"/><circle cx="1472" cy="458" r="4.1"/><circle cx="1453.3" cy="527" r="4.1"/><circle cx="1475.6" cy="403" r="4.1"/><circle cx="1441.8" cy="432.5" r="4.1"/><circle cx="1453.1" cy="515.2" r="4.1"/><circle cx="1470.9" cy="394.4" r="4.1"/><circle cx="1460.4" cy="326.7" r="4.1"/><circle cx="1425.8" cy="473.6" r="4.1"/><circle cx="1451.4" cy="447" r="4.1"/><circle cx="1446.4" cy="435.6" r="4.1"/><circle cx="1440.1" cy="269.4" r="4.1"/><circle cx="1447.3" cy="414.9" r="4.1"/><circle cx="1429.5" cy="426.8" r="4.1"/><circle cx="1443.8" cy="479.8" r="4.1"/><circle cx="1438.1" cy="457.6" r="4.1"/><circle cx="1466.7" cy="362.6" r="4.1"/><circle cx="1468" cy="427.1" r="4.1"/><circle cx="1447.6" cy="452.5" r="4.1"/><circle cx="1469.6" cy="416.3" r="4.1"/><circle cx="1463.8" cy="462.2" r="4.1"/><circle cx="1468.5" cy="446" r="4.1"/><circle cx="1451.9" cy="441.5" r="4.1"/><circle cx="1465.3" cy="412.4" r="4.1"/><circle cx="1457.7" cy="484.2" r="4.1"/><circle cx="1469" cy="489.7" r="4.1"/><circle cx="1469.1" cy="492" r="4.1"/><circle cx="1464.6" cy="500.8" r="4.1"/><circle cx="1457.3" cy="340.5" r="4.1"/><circle cx="1455.5" cy="471.5" r="4.1"/><circle cx="1471.7" cy="419.9" r="4.1"/><circle cx="1427.6" cy="437.6" r="4.1"/><circle cx="1470.1" cy="393.3" r="4.1"/><circle cx="1472.3" cy="357.8" r="4.1"/><circle cx="1464" cy="498.9" r="4.1"/><circle cx="1434.9" cy="424.5" r="4.1"/><circle cx="1429.6" cy="401.9" r="4.1"/><circle cx="1449.6" cy="462.1" r="4.1"/><circle cx="1460" cy="378.2" r="4.1"/><circle cx="1450.1" cy="492.1" r="4.1"/><circle cx="1445.8" cy="457.8" r="4.1"/><circle cx="1461.3" cy="437" r="4.1"/><circle cx="1450.8" cy="451" r="4.1"/><circle cx="1440.1" cy="472.2" r="4.1"/><circle cx="1457.5" cy="417.1" r="4.1"/><circle cx="1436.4" cy="270.8" r="4.1"/><circle cx="1430.8" cy="477.7" r="4.1"/><circle cx="1433.6" cy="350.6" r="4.1"/><circle cx="1439.8" cy="420" r="4.1"/><circle cx="1435" cy="415.1" r="4.1"/><circle cx="1469.8" cy="292" r="4.1"/><circle cx="1441.4" cy="450.8" r="4.1"/><circle cx="1470.3" cy="471.9" r="4.1"/><circle cx="1456.3" cy="457.8" r="4.1"/><circle cx="1449.5" cy="372.7" r="4.1"/><circle cx="1462.9" cy="374.8" r="4.1"/><circle cx="1451.5" cy="403.7" r="4.1"/><circle cx="1431.3" cy="408.1" r="4.1"/><circle cx="1461.1" cy="473" r="4.1"/><circle cx="1474.5" cy="492.1" r="4.1"/><circle cx="1466.3" cy="399.1" r="4.1"/><circle cx="1448.5" cy="478.6" r="4.1"/><circle cx="1453" cy="379.6" r="4.1"/><circle cx="1443.5" cy="319.2" r="4.1"/><circle cx="1457.5" cy="497" r="4.1"/><circle cx="1464.4" cy="487.3" r="4.1"/><circle cx="1455.8" cy="452.9" r="4.1"/><circle cx="1444.2" cy="501.7" r="4.1"/><circle cx="1451.5" cy="348.2" r="4.1"/><circle cx="1446.5" cy="324.1" r="4.1"/><circle cx="1444.6" cy="466.7" r="4.1"/><circle cx="1472.7" cy="350.2" r="4.1"/><circle cx="1426.9" cy="242.7" r="4.1"/><circle cx="1463.1" cy="494" r="4.1"/><circle cx="1475.9" cy="476.4" r="4.1"/><circle cx="1450.2" cy="464.3" r="4.1"/><circle cx="1442.4" cy="431.6" r="4.1"/><circle cx="1457.6" cy="466.7" r="4.1"/><circle cx="1426.7" cy="358" r="4.1"/><circle cx="1433.5" cy="469" r="4.1"/><circle cx="1438.3" cy="331" r="4.1"/><circle cx="1473.3" cy="350.3" r="4.1"/><circle cx="1459.1" cy="459.3" r="4.1"/><circle cx="1446.1" cy="429.7" r="4.1"/><circle cx="1452.2" cy="482.9" r="4.1"/><circle cx="1455.6" cy="335.9" r="4.1"/><circle cx="1429.2" cy="442.9" r="4.1"/><circle cx="1455.9" cy="504.9" r="4.1"/><circle cx="1465.9" cy="257.3" r="4.1"/><circle cx="1429.8" cy="458.2" r="4.1"/><circle cx="1474.3" cy="493.1" r="4.1"/><circle cx="1444.7" cy="259.2" r="4.1"/><circle cx="1455.9" cy="466.5" r="4.1"/><circle cx="1450.8" cy="483.5" r="4.1"/><circle cx="1466.8" cy="420.9" r="4.1"/><circle cx="1447.6" cy="404.9" r="4.1"/><circle cx="1464.7" cy="469.9" r="4.1"/><circle cx="1459.2" cy="532.1" r="4.1"/><circle cx="1444.2" cy="455.1" r="4.1"/><circle cx="1431.2" cy="465.1" r="4.1"/><circle cx="1427.1" cy="466.4" r="4.1"/><circle cx="1438.9" cy="403.7" r="4.1"/><circle cx="1431" cy="495.3" r="4.1"/><circle cx="1427" cy="476.1" r="4.1"/><circle cx="1427.2" cy="376.5" r="4.1"/><circle cx="1469.3" cy="470.2" r="4.1"/><circle cx="1430.8" cy="435.1" r="4.1"/><circle cx="1434.8" cy="350.3" r="4.1"/><circle cx="1464.3" cy="339.9" r="4.1"/><circle cx="1466.9" cy="205" r="4.1"/><circle cx="1457.1" cy="378" r="4.1"/><circle cx="1429.8" cy="454.7" r="4.1"/><circle cx="1473.3" cy="245.9" r="4.1"/><circle cx="1440.8" cy="451.7" r="4.1"/><circle cx="1452.2" cy="312.3" r="4.1"/><circle cx="1437.4" cy="475.9" r="4.1"/><circle cx="1472.4" cy="459.7" r="4.1"/><circle cx="1475.2" cy="338.5" r="4.1"/><circle cx="1465.1" cy="484.6" r="4.1"/><circle cx="1469.8" cy="410.7" r="4.1"/><circle cx="1426.9" cy="450.7" r="4.1"/><circle cx="1458.1" cy="427.6" r="4.1"/><circle cx="1453.6" cy="443.9" r="4.1"/><circle cx="1428.9" cy="343.7" r="4.1"/><circle cx="1430.5" cy="415.5" r="4.1"/><circle cx="1458.1" cy="396.2" r="4.1"/><circle cx="1462" cy="421.1" r="4.1"/><circle cx="1455.4" cy="459.3" r="4.1"/><circle cx="1438.8" cy="446.1" r="4.1"/><circle cx="1437.1" cy="461.9" r="4.1"/><circle cx="1476.2" cy="502.7" r="4.1"/><circle cx="1470.4" cy="402.2" r="4.1"/><circle cx="1432" cy="425.8" r="4.1"/><circle cx="1465.3" cy="449.1" r="4.1"/><circle cx="1460.7" cy="300.7" r="4.1"/><circle cx="1429.3" cy="507.7" r="4.1"/><circle cx="1462.4" cy="317" r="4.1"/><circle cx="1453.3" cy="470.3" r="4.1"/><circle cx="1442.8" cy="486.5" r="4.1"/><circle cx="1475.4" cy="352" r="4.1"/><circle cx="1449.9" cy="280.9" r="4.1"/><circle cx="1439.7" cy="511.4" r="4.1"/><circle cx="1456.7" cy="453.9" r="4.1"/><circle cx="1455.9" cy="250.7" r="4.1"/><circle cx="1463.7" cy="432.4" r="4.1"/><circle cx="1425.4" cy="419.2" r="4.1"/><circle cx="1446.4" cy="365.1" r="4.1"/><circle cx="1440.8" cy="446.1" r="4.1"/><circle cx="1445.4" cy="508.2" r="4.1"/><circle cx="1455.3" cy="453.9" r="4.1"/><circle cx="1444.9" cy="348.5" r="4.1"/><circle cx="1450.5" cy="462.4" r="4.1"/><circle cx="1464" cy="358.3" r="4.1"/><circle cx="1439.3" cy="467" r="4.1"/><circle cx="1475" cy="490.8" r="4.1"/><circle cx="1446.5" cy="442.7" r="4.1"/><circle cx="1445.2" cy="434.4" r="4.1"/><circle cx="1468.5" cy="228.4" r="4.1"/><circle cx="1441.4" cy="413.2" r="4.1"/><circle cx="1472.2" cy="394.9" r="4.1"/><circle cx="1463.1" cy="394" r="4.1"/><circle cx="1468.7" cy="323.2" r="4.1"/><circle cx="1467.4" cy="460.4" r="4.1"/><circle cx="1437.9" cy="449.3" r="4.1"/><circle cx="1441.2" cy="410.1" r="4.1"/><circle cx="1435.4" cy="450.1" r="4.1"/><circle cx="1461.1" cy="324.2" r="4.1"/><circle cx="1463.5" cy="385.5" r="4.1"/><circle cx="1446.4" cy="509.7" r="4.1"/><circle cx="1458.5" cy="390.8" r="4.1"/><circle cx="1461.8" cy="493.5" r="4.1"/><circle cx="1437.9" cy="460.8" r="4.1"/><circle cx="1435.5" cy="434.1" r="4.1"/><circle cx="1455.5" cy="359.8" r="4.1"/><circle cx="1433.8" cy="476.3" r="4.1"/><circle cx="1471.4" cy="427.8" r="4.1"/><circle cx="1434.7" cy="416.7" r="4.1"/><circle cx="1465.5" cy="415.3" r="4.1"/><circle cx="1469.4" cy="501" r="4.1"/><circle cx="1464.3" cy="464.1" r="4.1"/><circle cx="1462.4" cy="359" r="4.1"/><circle cx="1464.1" cy="456.5" r="4.1"/><circle cx="1446.2" cy="462.4" r="4.1"/><circle cx="1465.7" cy="441.4" r="4.1"/><circle cx="1434.7" cy="460.9" r="4.1"/><circle cx="1465.8" cy="381.3" r="4.1"/><circle cx="1476.9" cy="357.5" r="4.1"/><circle cx="1437.8" cy="445.8" r="4.1"/><circle cx="1440.7" cy="458.3" r="4.1"/><circle cx="1447.8" cy="461.1" r="4.1"/><circle cx="1440.2" cy="453.2" r="4.1"/><circle cx="1432.7" cy="483.1" r="4.1"/><circle cx="1463.8" cy="257.7" r="4.1"/><circle cx="1448.7" cy="311.5" r="4.1"/><circle cx="1446.6" cy="365.3" r="4.1"/><circle cx="1441.8" cy="285.2" r="4.1"/><circle cx="1438.6" cy="530.6" r="4.1"/><circle cx="1445.5" cy="517.8" r="4.1"/><circle cx="1475.2" cy="460.4" r="4.1"/><circle cx="1430.6" cy="377.4" r="4.1"/><circle cx="1438.1" cy="430" r="4.1"/><circle cx="1426.1" cy="435" r="4.1"/><circle cx="1426.4" cy="408.6" r="4.1"/><circle cx="1430.1" cy="501.9" r="4.1"/><circle cx="1473.5" cy="463" r="4.1"/><circle cx="1455.7" cy="237.8" r="4.1"/><circle cx="1454.2" cy="294.8" r="4.1"/><circle cx="1465.1" cy="378.3" r="4.1"/><circle cx="1448.7" cy="465" r="4.1"/><circle cx="1468.4" cy="402.3" r="4.1"/><circle cx="1456.3" cy="492.6" r="4.1"/><circle cx="1448.5" cy="345.2" r="4.1"/><circle cx="1455.5" cy="425" r="4.1"/><circle cx="1439.9" cy="464.7" r="4.1"/><circle cx="1455.1" cy="428.4" r="4.1"/><circle cx="1439.5" cy="433.9" r="4.1"/><circle cx="1440.5" cy="343.3" r="4.1"/><circle cx="1445.3" cy="404.8" r="4.1"/><circle cx="1465.4" cy="451.2" r="4.1"/><circle cx="1463.5" cy="265.4" r="4.1"/><circle cx="1454.2" cy="382" r="4.1"/><circle cx="1434.1" cy="421.6" r="4.1"/><circle cx="1458.1" cy="372.5" r="4.1"/><circle cx="1443" cy="341.9" r="4.1"/><circle cx="1469.6" cy="454.6" r="4.1"/><circle cx="1452.1" cy="499.5" r="4.1"/><circle cx="1426.2" cy="452.3" r="4.1"/><circle cx="1458.5" cy="436.7" r="4.1"/><circle cx="1434" cy="339.1" r="4.1"/><circle cx="1459.4" cy="368.9" r="4.1"/><circle cx="1465.2" cy="421.5" r="4.1"/><circle cx="1461.2" cy="396.1" r="4.1"/><circle cx="1473.7" cy="521.5" r="4.1"/><circle cx="1458.6" cy="504" r="4.1"/><circle cx="1440.1" cy="453.1" r="4.1"/><circle cx="1473.6" cy="456" r="4.1"/><circle cx="1428" cy="456.4" r="4.1"/><circle cx="1468.5" cy="400" r="4.1"/><circle cx="1454.8" cy="455.1" r="4.1"/><circle cx="1472.6" cy="419.5" r="4.1"/><circle cx="1432.5" cy="308.7" r="4.1"/><circle cx="1469" cy="477.1" r="4.1"/><circle cx="1476.4" cy="433.2" r="4.1"/><circle cx="1444.6" cy="484.8" r="4.1"/><circle cx="1427.9" cy="475.6" r="4.1"/><circle cx="1434.7" cy="377.3" r="4.1"/><circle cx="1469.9" cy="423.6" r="4.1"/><circle cx="1466.8" cy="431" r="4.1"/><circle cx="1463" cy="367.6" r="4.1"/><circle cx="1464" cy="509.4" r="4.1"/><circle cx="1461.1" cy="469.6" r="4.1"/><circle cx="1456.6" cy="228.9" r="4.1"/><circle cx="1449.6" cy="436.7" r="4.1"/><circle cx="1440.3" cy="443.4" r="4.1"/><circle cx="1468.9" cy="381.4" r="4.1"/><circle cx="1443.3" cy="508.4" r="4.1"/><circle cx="1466.4" cy="468.7" r="4.1"/><circle cx="1444.4" cy="384.6" r="4.1"/><circle cx="1475.6" cy="439.5" r="4.1"/><circle cx="1432.7" cy="461" r="4.1"/><circle cx="1459.4" cy="515.1" r="4.1"/><circle cx="1443.3" cy="451.8" r="4.1"/><circle cx="1441.2" cy="421.1" r="4.1"/><circle cx="1454.3" cy="376.2" r="4.1"/><circle cx="1430.6" cy="440.1" r="4.1"/><circle cx="1456.3" cy="462.6" r="4.1"/><circle cx="1438.6" cy="423.5" r="4.1"/><circle cx="1445.2" cy="464.8" r="4.1"/><circle cx="1452.3" cy="408.7" r="4.1"/><circle cx="1447.6" cy="420.3" r="4.1"/><circle cx="1453.3" cy="463.9" r="4.1"/><circle cx="1449.4" cy="462.6" r="4.1"/><circle cx="1454.4" cy="393.5" r="4.1"/><circle cx="1437.6" cy="493" r="4.1"/><circle cx="1428.5" cy="429.8" r="4.1"/><circle cx="1470.3" cy="339.4" r="4.1"/><circle cx="1438.1" cy="429.9" r="4.1"/><circle cx="1429.3" cy="404.9" r="4.1"/><circle cx="1476.8" cy="477" r="4.1"/><circle cx="1442.6" cy="433.3" r="4.1"/><circle cx="1429.4" cy="414" r="4.1"/><circle cx="1436.6" cy="435.1" r="4.1"/><circle cx="1430.4" cy="317.4" r="4.1"/><circle cx="1442.2" cy="371.5" r="4.1"/><circle cx="1467.9" cy="490.6" r="4.1"/><circle cx="1433.8" cy="305.3" r="4.1"/><circle cx="1473.4" cy="306.8" r="4.1"/><circle cx="1465.8" cy="478.4" r="4.1"/><circle cx="1442.4" cy="447.2" r="4.1"/><circle cx="1435.4" cy="433.2" r="4.1"/><circle cx="1445.5" cy="281.6" r="4.1"/><circle cx="1450.5" cy="410.6" r="4.1"/><circle cx="1462.7" cy="446.1" r="4.1"/><circle cx="1452.4" cy="394" r="4.1"/><circle cx="1427.4" cy="501" r="4.1"/><circle cx="1433.3" cy="466.4" r="4.1"/><circle cx="1435.5" cy="464.1" r="4.1"/><circle cx="1432.8" cy="493.5" r="4.1"/></g>
<path d="M1451.1,392.1V285.6M1451.1,465.2V540.8" stroke="#000" stroke-width="1.8"/>
<rect x="1402.8" y="392.1" width="97.1" height="73.1" fill="#4DBBD5" fill-opacity="0.67" stroke="#000" stroke-width="1.9"/>
<path d="M1402.8,441.6H1499.9" stroke="#000" stroke-width="3.4"/>
<path d="M1451.8,195.3 L1451.8,196.3 L1451.9,197.5 L1452,198.9 L1452.2,200.5 L1452.3,202.2 L1452.4,204 L1452.5,205.9 L1452.7,207.8 L1452.7,209.2 L1452.8,210.7 L1452.9,212.3 L1453,213.9 L1453,215.5 L1453.1,217.2 L1453.2,218.9 L1453.3,220.6 L1453.3,222.3 L1453.4,224 L1453.5,225.6 L1453.5,227.2 L1453.6,228.9 L1453.6,230.5 L1453.7,232.1 L1453.7,233.7 L1453.8,235.3 L1453.8,237 L1453.9,238.6 L1453.9,240.2 L1453.9,241.8 L1454,243.4 L1454,245 L1454.1,246.7 L1454.1,248.3 L1454.2,249.9 L1454.2,251.5 L1454.2,253.1 L1454.3,254.8 L1454.3,256.4 L1454.3,258 L1454.4,259.6 L1454.4,261.2 L1454.5,262.9 L1454.5,264.5 L1454.5,266.1 L1454.6,267.7 L1454.6,269.3 L1454.7,271 L1454.7,272.6 L1454.8,274.2 L1454.8,275.8 L1454.9,277.4 L1455.1,279 L1455.2,280.7 L1455.4,282.3 L1455.5,283.9 L1455.7,285.5 L1455.9,287.1 L1456.1,288.8 L1456.4,290.4 L1456.6,292 L1456.8,293.6 L1457.1,295.2 L1457.3,296.9 L1457.5,298.5 L1457.8,300.1 L1458,301.7 L1458.3,303.3 L1458.6,305 L1458.8,306.6 L1459.1,308.2 L1459.4,309.8 L1459.6,311.4 L1459.9,313 L1460.1,314.7 L1460.4,316.3 L1460.6,317.9 L1460.8,319.5 L1461,321.1 L1461.2,322.8 L1461.4,324.4 L1461.6,326 L1461.8,327.6 L1462,329.2 L1462.2,330.9 L1462.4,332.5 L1462.5,334.1 L1462.6,335.7 L1462.8,337.3 L1462.9,339 L1463,340.6 L1463.1,342.2 L1463.2,343.8 L1463.3,345.4 L1463.4,347 L1463.5,348.7 L1463.7,350.3 L1463.9,351.9 L1464.1,353.5 L1464.2,355.1 L1464.4,356.8 L1464.6,358.4 L1464.9,360 L1465.1,361.6 L1465.3,363.2 L1465.6,364.9 L1465.9,366.5 L1466.2,368.1 L1466.5,369.7 L1466.9,371.3 L1467.2,373 L1467.6,374.6 L1468,376.2 L1468.4,377.8 L1468.8,379.4 L1469.2,381 L1469.7,382.7 L1470.2,384.3 L1470.6,385.9 L1471.1,387.5 L1471.6,389.1 L1472.1,390.8 L1472.6,392.4 L1473.2,394 L1473.7,395.6 L1474.3,397.2 L1474.9,398.9 L1475.5,400.5 L1476.2,402.1 L1476.9,403.7 L1477.6,405.3 L1478.4,407 L1479.2,408.6 L1480,410.2 L1480.8,411.8 L1481.7,413.4 L1482.6,415 L1483.5,416.7 L1484.5,418.3 L1485.6,419.9 L1486.7,421.5 L1487.8,423.2 L1489.1,424.8 L1490.5,426.5 L1492,428.1 L1493.4,429.8 L1494.9,431.5 L1496.4,433.1 L1497.8,434.7 L1499.1,436.3 L1500.3,437.8 L1501.4,439.3 L1502.5,441.1 L1503.6,442.9 L1504.7,444.6 L1505.6,446.3 L1506.4,447.9 L1507.1,449.5 L1507.7,451 L1508.3,452.3 L1508.7,453.6 L1509.3,455.7 L1509.4,457.1 L1508.9,458.6 L1507.6,460.7 L1506.6,462 L1505.4,463.3 L1504,464.8 L1502.5,466.4 L1500.8,468 L1499.1,469.7 L1497.4,471.4 L1495.8,473.2 L1494.2,475 L1493.1,476.4 L1491.9,478 L1490.8,479.6 L1489.7,481.2 L1488.5,482.8 L1487.4,484.5 L1486.3,486.1 L1485.2,487.8 L1484.1,489.5 L1482.9,491.1 L1481.8,492.8 L1480.6,494.4 L1479.4,496 L1478.2,497.6 L1477,499.2 L1475.8,500.9 L1474.6,502.5 L1473.4,504.1 L1472.2,505.7 L1471.1,507.3 L1470,509 L1468.9,510.6 L1467.8,512.2 L1466.7,513.9 L1465.7,515.6 L1464.6,517.3 L1463.6,519 L1462.6,520.6 L1461.6,522.3 L1460.7,523.9 L1459.8,525.5 L1459,527 L1458.2,528.4 L1457.2,530.3 L1456.2,532.2 L1455.3,534 L1454.5,535.7 L1453.7,537.3 L1453.1,538.7 L1452.6,539.9 L1452.1,540.8 L1450,540.8 L1449.5,539.9 L1449,538.7 L1448.4,537.3 L1447.6,535.7 L1446.8,534 L1445.9,532.2 L1444.9,530.3 L1443.9,528.4 L1443.1,527 L1442.3,525.5 L1441.4,523.9 L1440.5,522.3 L1439.5,520.6 L1438.5,519 L1437.5,517.3 L1436.4,515.6 L1435.4,513.9 L1434.3,512.2 L1433.2,510.6 L1432.1,509 L1431,507.3 L1429.9,505.7 L1428.7,504.1 L1427.5,502.5 L1426.3,500.9 L1425.1,499.2 L1423.9,497.6 L1422.7,496 L1421.5,494.4 L1420.3,492.8 L1419.2,491.1 L1418,489.5 L1416.9,487.8 L1415.8,486.1 L1414.7,484.5 L1413.6,482.8 L1412.4,481.2 L1411.3,479.6 L1410.2,478 L1409,476.4 L1407.9,475 L1406.4,473.2 L1404.7,471.4 L1403,469.7 L1401.3,468 L1399.6,466.4 L1398.1,464.8 L1396.7,463.3 L1395.5,462 L1394.5,460.7 L1393.2,458.6 L1392.7,457.1 L1392.8,455.7 L1393.4,453.6 L1393.8,452.3 L1394.4,451 L1395,449.5 L1395.7,447.9 L1396.5,446.3 L1397.4,444.6 L1398.5,442.9 L1399.6,441.1 L1400.7,439.3 L1401.8,437.8 L1403,436.3 L1404.3,434.7 L1405.7,433.1 L1407.2,431.5 L1408.7,429.8 L1410.1,428.1 L1411.6,426.5 L1413,424.8 L1414.3,423.2 L1415.4,421.5 L1416.5,419.9 L1417.6,418.3 L1418.6,416.7 L1419.5,415 L1420.4,413.4 L1421.3,411.8 L1422.1,410.2 L1422.9,408.6 L1423.7,407 L1424.5,405.3 L1425.2,403.7 L1425.9,402.1 L1426.6,400.5 L1427.2,398.9 L1427.8,397.2 L1428.4,395.6 L1428.9,394 L1429.5,392.4 L1430,390.8 L1430.5,389.1 L1431,387.5 L1431.5,385.9 L1431.9,384.3 L1432.4,382.7 L1432.9,381 L1433.3,379.4 L1433.7,377.8 L1434.1,376.2 L1434.5,374.6 L1434.9,373 L1435.2,371.3 L1435.6,369.7 L1435.9,368.1 L1436.2,366.5 L1436.5,364.9 L1436.8,363.2 L1437,361.6 L1437.2,360 L1437.5,358.4 L1437.7,356.8 L1437.9,355.1 L1438,353.5 L1438.2,351.9 L1438.4,350.3 L1438.6,348.7 L1438.7,347 L1438.8,345.4 L1438.9,343.8 L1439,342.2 L1439.1,340.6 L1439.2,339 L1439.3,337.3 L1439.5,335.7 L1439.6,334.1 L1439.7,332.5 L1439.9,330.9 L1440.1,329.2 L1440.3,327.6 L1440.5,326 L1440.7,324.4 L1440.9,322.8 L1441.1,321.1 L1441.3,319.5 L1441.5,317.9 L1441.7,316.3 L1442,314.7 L1442.2,313 L1442.5,311.4 L1442.7,309.8 L1443,308.2 L1443.3,306.6 L1443.5,305 L1443.8,303.3 L1444.1,301.7 L1444.3,300.1 L1444.6,298.5 L1444.8,296.9 L1445,295.2 L1445.3,293.6 L1445.5,292 L1445.7,290.4 L1446,288.8 L1446.2,287.1 L1446.4,285.5 L1446.6,283.9 L1446.7,282.3 L1446.9,280.7 L1447,279 L1447.2,277.4 L1447.3,275.8 L1447.3,274.2 L1447.4,272.6 L1447.4,271 L1447.5,269.3 L1447.5,267.7 L1447.6,266.1 L1447.6,264.5 L1447.6,262.9 L1447.7,261.2 L1447.7,259.6 L1447.8,258 L1447.8,256.4 L1447.8,254.8 L1447.9,253.1 L1447.9,251.5 L1448,249.9 L1448,248.3 L1448,246.7 L1448.1,245 L1448.1,243.4 L1448.2,241.8 L1448.2,240.2 L1448.2,238.6 L1448.3,237 L1448.3,235.3 L1448.4,233.7 L1448.4,232.1 L1448.5,230.5 L1448.5,228.9 L1448.6,227.2 L1448.6,225.6 L1448.7,224 L1448.8,222.3 L1448.8,220.6 L1448.9,218.9 L1449,217.2 L1449.1,215.5 L1449.1,213.9 L1449.2,212.3 L1449.3,210.7 L1449.4,209.2 L1449.4,207.8 L1449.6,205.9 L1449.7,204 L1449.8,202.2 L1449.9,200.5 L1450.1,198.9 L1450.2,197.5 L1450.3,196.3 L1450.3,195.3Z" fill="#4DBBD5" fill-opacity="0.5"/>
<rect x="1245.8" y="42" width="281.7" height="521.1" fill="none" stroke="#2b2b2b" stroke-width="3.4"/>
<path d="M1240.1,157.8H1245.1M1240.1,288H1245.1M1240.1,418.5H1245.1M1240.1,549.2H1245.1" stroke="#333" stroke-width="1.3"/>
<g font-size="17" text-anchor="end" fill="#111" stroke="#111" stroke-width="0.4"><text x="1237.1" y="164.4">4</text><text x="1237.1" y="294.6">2</text><text x="1237.1" y="425.1">0</text><text x="1237.1" y="555.8">−2</text></g>
<text x="1279.4" y="80.7" font-size="23.3" textLength="213.6" lengthAdjust="spacingAndGlyphs" fill="#000" stroke="#000" stroke-width="0.45">Wilcoxon, p = 9.9e−05</text>
<text transform="translate(1322.4,572.8) rotate(-50)" y="14.3" font-size="21.5" text-anchor="end" fill="#000" stroke="#000" stroke-width="0.45">>60</text>
<text transform="translate(1451.6,572.8) rotate(-50)" y="14.3" font-size="21.5" text-anchor="end" fill="#000" stroke="#000" stroke-width="0.45">...60</text>
<text x="1386.6" y="637.3" font-weight="bold" font-size="24.0" fill="#8B0000" stroke="#8B0000" stroke-width="0.35" text-anchor="middle" lengthAdjust="spacingAndGlyphs" textLength="42.3">Age</text>
<text transform="translate(1208.7,302.6) rotate(-90)" font-weight="bold" font-size="22.6" fill="#8B0000" stroke="#8B0000" stroke-width="0.35" text-anchor="middle" lengthAdjust="spacingAndGlyphs" textLength="324">MAP2K3 Expression (z−score)</text>
<text x="1386.6" y="26.2" font-weight="bold" font-size="24.0" fill="#8B0000" stroke="#8B0000" stroke-width="0.35" text-anchor="middle" lengthAdjust="spacingAndGlyphs" textLength="124.4">TCGA_LGG</text>
<text x="1201.5" y="31.4" font-weight="bold" font-size="29.2" text-anchor="middle" fill="#000" stroke="#000" stroke-width="0.4" textLength="19.6" lengthAdjust="spacingAndGlyphs">D</text>
<rect x="74.6" y="716.4" width="270" height="459.5" fill="#F1F4F5"/>
<path d="M69.6,830.9H349.7M69.6,982.9H349.7M69.6,1135H349.7M145.8,1180.8V711.4M272.9,1180.8V711.4" stroke="#C8CACB" stroke-width="1.2" stroke-dasharray="6.45 6.45" fill="none"/>
<g fill="#E64B35"><circle cx="129.6" cy="932.5" r="4.1"/><circle cx="145.8" cy="1082.6" r="4.1"/><circle cx="164.4" cy="960.9" r="4.1"/><circle cx="161" cy="973.1" r="4.1"/><circle cx="170.3" cy="1063.5" r="4.1"/><circle cx="125.6" cy="1053.4" r="4.1"/><circle cx="130.4" cy="1004.7" r="4.1"/><circle cx="151.5" cy="972.6" r="4.1"/><circle cx="165.2" cy="989" r="4.1"/><circle cx="168.6" cy="1002.3" r="4.1"/><circle cx="153.1" cy="1015.8" r="4.1"/><circle cx="135.4" cy="958.3" r="4.1"/><circle cx="133.8" cy="1014.7" r="4.1"/><circle cx="125.8" cy="1010.1" r="4.1"/><circle cx="153.2" cy="995.7" r="4.1"/><circle cx="149.9" cy="987.5" r="4.1"/><circle cx="164.9" cy="1013.3" r="4.1"/><circle cx="139.9" cy="999.4" r="4.1"/><circle cx="144.2" cy="1064.3" r="4.1"/><circle cx="160.9" cy="1055.6" r="4.1"/><circle cx="131.1" cy="1015" r="4.1"/><circle cx="148.2" cy="941.3" r="4.1"/><circle cx="133.8" cy="1024.5" r="4.1"/><circle cx="142.7" cy="971.4" r="4.1"/><circle cx="151.7" cy="1007.3" r="4.1"/><circle cx="122.6" cy="984" r="4.1"/></g>
<path d="M145.8,1000.3V961.4M145.8,1041.6V1085" stroke="#000" stroke-width="1.8"/>
<rect x="98.2" y="1000.3" width="96" height="41.3" fill="#E64B35" fill-opacity="0.67" stroke="#000" stroke-width="1.9"/>
<path d="M98.2,1014.7H194.2" stroke="#000" stroke-width="3.4"/>
<path d="M156.6,932.9 L156.8,934 L157.1,935.7 L157.4,937.7 L157.8,939.7 L158.2,941.5 L158.7,943.2 L159.2,944.9 L159.7,946.5 L160.2,948.2 L160.7,949.8 L161.2,951.5 L161.8,953.1 L162.3,954.8 L162.8,956.4 L163.4,958.1 L164,959.7 L164.6,961.4 L165.1,963 L165.8,964.7 L166.5,966.4 L167.3,968 L168.1,969.7 L169,971.3 L170,973 L171.1,974.6 L172.2,976.3 L173.4,977.9 L174.7,979.6 L176.1,981.2 L177.5,982.9 L178.9,984.6 L180.5,986.2 L182,987.9 L183.7,989.5 L185.3,991.2 L187.1,992.8 L188.9,994.5 L190.8,996.1 L192.5,997.8 L194.2,999.4 L195.8,1001.2 L197.4,1002.9 L198.9,1004.7 L200.2,1006.3 L201.3,1007.7 L202.4,1010 L202.6,1011.8 L202.4,1013.7 L201.7,1016 L201.2,1017.4 L200.7,1019 L200.1,1020.7 L199.4,1022.5 L198.8,1024.3 L198.1,1025.9 L197.4,1027.6 L196.7,1029.2 L196,1030.9 L195.3,1032.5 L194.5,1034.2 L193.7,1035.8 L192.8,1037.5 L192,1039.1 L191.1,1040.8 L190.2,1042.5 L189.4,1044.1 L188.5,1045.8 L187.5,1047.4 L186.6,1049.1 L185.6,1050.7 L184.6,1052.4 L183.5,1054 L182.5,1055.7 L181.4,1057.3 L180.3,1059 L179.2,1060.6 L178,1062.3 L176.8,1064 L175.6,1065.6 L174.3,1067.3 L173,1068.9 L171.7,1070.6 L170.3,1072.2 L169,1073.9 L167.6,1075.6 L166.2,1077.4 L164.8,1079.2 L163.5,1080.8 L162.6,1082.2 L161.6,1084.1 L161.4,1085 L130.2,1085 L130.1,1084.1 L129.1,1082.2 L128.1,1080.8 L126.9,1079.2 L125.5,1077.4 L124.1,1075.6 L122.7,1073.9 L121.4,1072.2 L120,1070.6 L118.7,1068.9 L117.3,1067.3 L116.1,1065.6 L114.8,1064 L113.7,1062.3 L112.5,1060.6 L111.4,1059 L110.3,1057.3 L109.2,1055.7 L108.1,1054 L107.1,1052.4 L106.1,1050.7 L105.1,1049.1 L104.1,1047.4 L103.2,1045.8 L102.3,1044.1 L101.4,1042.5 L100.6,1040.8 L99.7,1039.1 L98.8,1037.5 L98,1035.8 L97.2,1034.2 L96.4,1032.5 L95.7,1030.9 L94.9,1029.2 L94.2,1027.6 L93.6,1025.9 L92.9,1024.3 L92.2,1022.5 L91.6,1020.7 L91,1019 L90.4,1017.4 L90,1016 L89.3,1013.7 L89.1,1011.8 L89.3,1010 L90.4,1007.7 L91.4,1006.3 L92.7,1004.7 L94.2,1002.9 L95.8,1001.2 L97.4,999.4 L99.1,997.8 L100.9,996.1 L102.8,994.5 L104.6,992.8 L106.3,991.2 L108,989.5 L109.6,987.9 L111.2,986.2 L112.7,984.6 L114.2,982.9 L115.6,981.2 L117,979.6 L118.2,977.9 L119.5,976.3 L120.6,974.6 L121.7,973 L122.6,971.3 L123.5,969.7 L124.4,968 L125.2,966.4 L125.9,964.7 L126.5,963 L127.1,961.4 L127.7,959.7 L128.3,958.1 L128.8,956.4 L129.4,954.8 L129.9,953.1 L130.4,951.5 L130.9,949.8 L131.5,948.2 L132,946.5 L132.5,944.9 L133,943.2 L133.4,941.5 L133.8,939.7 L134.2,937.7 L134.6,935.7 L134.9,934 L135.1,932.9Z" fill="#E64B35" fill-opacity="0.5"/>
<g fill="#4DBBD5"><circle cx="271.8" cy="755.2" r="4.1"/><circle cx="286.4" cy="1159.1" r="4.1"/><circle cx="280.6" cy="841.6" r="4.1"/><circle cx="288" cy="859.4" r="4.1"/><circle cx="293.3" cy="867.4" r="4.1"/><circle cx="252.1" cy="886" r="4.1"/><circle cx="264.1" cy="1085.3" r="4.1"/><circle cx="293.9" cy="1072" r="4.1"/><circle cx="255.9" cy="1056.8" r="4.1"/><circle cx="275.5" cy="908.3" r="4.1"/><circle cx="270.1" cy="874.2" r="4.1"/><circle cx="263.8" cy="954.6" r="4.1"/><circle cx="288.8" cy="1055" r="4.1"/><circle cx="256.5" cy="843.6" r="4.1"/><circle cx="288" cy="1004.7" r="4.1"/><circle cx="279.7" cy="1027.9" r="4.1"/><circle cx="293.2" cy="859.9" r="4.1"/><circle cx="279.1" cy="1013.2" r="4.1"/><circle cx="297.3" cy="1023.8" r="4.1"/><circle cx="287.2" cy="1030.6" r="4.1"/><circle cx="254.1" cy="882.2" r="4.1"/><circle cx="249.7" cy="896.8" r="4.1"/><circle cx="261.5" cy="1007.6" r="4.1"/><circle cx="257.5" cy="890.4" r="4.1"/><circle cx="257.8" cy="1023" r="4.1"/><circle cx="254.1" cy="861.4" r="4.1"/><circle cx="250.1" cy="986.2" r="4.1"/><circle cx="290.1" cy="944.2" r="4.1"/><circle cx="296.6" cy="1018.5" r="4.1"/><circle cx="292.4" cy="944.7" r="4.1"/><circle cx="274" cy="978.3" r="4.1"/><circle cx="271" cy="1044.6" r="4.1"/><circle cx="286.9" cy="968" r="4.1"/><circle cx="259.9" cy="848.4" r="4.1"/><circle cx="271.7" cy="1035.4" r="4.1"/><circle cx="290.2" cy="905.4" r="4.1"/><circle cx="282.6" cy="1041.7" r="4.1"/><circle cx="280.1" cy="998.2" r="4.1"/><circle cx="261.9" cy="839.5" r="4.1"/><circle cx="273.2" cy="1029.7" r="4.1"/><circle cx="269.2" cy="1032.9" r="4.1"/><circle cx="297.3" cy="1046.7" r="4.1"/><circle cx="259.1" cy="887.2" r="4.1"/><circle cx="279.3" cy="987.9" r="4.1"/><circle cx="272.8" cy="1041.7" r="4.1"/></g>
<path d="M272.9,901.4V755.2M272.9,1015.8V1159.2" stroke="#000" stroke-width="1.8"/>
<rect x="225.1" y="901.4" width="96" height="114.4" fill="#4DBBD5" fill-opacity="0.67" stroke="#000" stroke-width="1.9"/>
<path d="M225.1,980.2H321.1" stroke="#000" stroke-width="3.4"/>
<path d="M273.5,754.7 L273.6,755.8 L273.7,757.3 L273.9,759 L274.1,760.9 L274.3,762.9 L274.4,764.8 L274.6,766.6 L274.7,768.2 L274.9,769.7 L275,771.3 L275.1,772.8 L275.2,774.3 L275.3,775.8 L275.5,777.4 L275.6,778.9 L275.7,780.4 L275.8,782 L275.9,783.5 L276,785.1 L276.1,786.6 L276.3,788.1 L276.4,789.7 L276.5,791.2 L276.7,792.8 L276.8,794.3 L277,795.8 L277.1,797.4 L277.3,798.9 L277.4,800.5 L277.6,802 L277.7,803.5 L277.9,805.1 L278.1,806.6 L278.2,808.2 L278.4,809.7 L278.6,811.3 L278.8,812.8 L279,814.3 L279.3,815.9 L279.5,817.4 L279.7,819 L280,820.5 L280.2,822 L280.5,823.6 L280.8,825.1 L281.1,826.7 L281.3,828.2 L281.6,829.7 L281.9,831.3 L282.2,832.8 L282.5,834.4 L282.8,835.9 L283.1,837.4 L283.4,839 L283.7,840.5 L284,842.1 L284.2,843.6 L284.5,845.1 L284.8,846.7 L285,848.2 L285.3,849.8 L285.5,851.3 L285.8,852.9 L286.1,854.4 L286.3,855.9 L286.6,857.5 L286.8,859 L287.1,860.6 L287.3,862.1 L287.5,863.6 L287.7,865.2 L287.9,866.7 L288,868.3 L288.2,869.8 L288.3,871.3 L288.5,872.9 L288.6,874.4 L288.7,876 L288.9,877.5 L289,879 L289.1,880.6 L289.3,882.1 L289.4,883.7 L289.5,885.2 L289.6,886.7 L289.6,888.3 L289.7,889.8 L289.8,891.4 L289.8,892.9 L289.9,894.5 L290,896 L290,897.5 L290.1,899.1 L290.1,900.6 L290.2,902.2 L290.3,903.7 L290.3,905.2 L290.4,906.8 L290.5,908.3 L290.5,909.9 L290.6,911.4 L290.7,912.9 L290.8,914.5 L290.8,916 L290.9,917.6 L291,919.1 L291.1,920.6 L291.3,922.2 L291.4,923.7 L291.5,925.3 L291.6,926.8 L291.7,928.3 L291.8,929.9 L291.9,931.4 L292,933 L292.1,934.5 L292.2,936 L292.4,937.6 L292.5,939.1 L292.8,940.7 L293,942.2 L293.3,943.8 L293.5,945.3 L293.8,946.9 L294.1,948.4 L294.4,950 L294.8,951.5 L295.1,953.1 L295.5,954.6 L295.9,956.1 L296.2,957.7 L296.6,959.2 L296.9,960.8 L297.1,962.3 L297.3,963.9 L297.5,965.4 L297.7,967 L297.9,968.5 L298.1,970 L298.2,971.6 L298.4,973.1 L298.5,974.7 L298.6,976.2 L298.8,977.7 L298.9,979.3 L298.9,980.8 L299,982.4 L299.1,983.9 L299.1,985.4 L299.1,987 L299.1,988.5 L299.1,990.1 L299.1,991.6 L299,993.1 L299,994.7 L298.9,996.2 L298.8,997.8 L298.8,999.3 L298.7,1000.8 L298.6,1002.4 L298.5,1003.9 L298.4,1005.5 L298.3,1007 L298.1,1008.5 L298,1010.1 L297.9,1011.6 L297.7,1013.2 L297.5,1014.7 L297.3,1016.3 L297,1017.8 L296.7,1019.3 L296.4,1020.9 L296.1,1022.4 L295.8,1024 L295.5,1025.5 L295.2,1027 L294.9,1028.6 L294.6,1030.1 L294.3,1031.7 L294,1033.2 L293.7,1034.7 L293.4,1036.3 L293,1037.8 L292.7,1039.4 L292.3,1040.9 L291.9,1042.4 L291.6,1044 L291.2,1045.5 L290.9,1047.1 L290.5,1048.6 L290.2,1050.1 L289.8,1051.7 L289.5,1053.2 L289.2,1054.8 L288.8,1056.3 L288.5,1057.9 L288.2,1059.4 L287.8,1060.9 L287.5,1062.5 L287.1,1064 L286.8,1065.6 L286.5,1067.1 L286.1,1068.6 L285.8,1070.2 L285.5,1071.7 L285.2,1073.3 L284.9,1074.8 L284.6,1076.3 L284.3,1077.9 L284,1079.4 L283.6,1081 L283.3,1082.5 L282.9,1084 L282.5,1085.6 L282.2,1087.1 L281.8,1088.7 L281.5,1090.2 L281.2,1091.7 L280.9,1093.3 L280.7,1094.8 L280.4,1096.4 L280.2,1097.9 L279.9,1099.5 L279.7,1101 L279.4,1102.5 L279.1,1104.1 L278.9,1105.6 L278.6,1107.2 L278.4,1108.7 L278.2,1110.2 L277.9,1111.8 L277.7,1113.3 L277.5,1114.9 L277.3,1116.4 L277.2,1117.9 L277,1119.5 L276.8,1121 L276.6,1122.6 L276.5,1124.1 L276.3,1125.6 L276.1,1127.2 L275.9,1128.7 L275.8,1130.3 L275.6,1131.8 L275.5,1133.3 L275.3,1134.9 L275.2,1136.3 L275.1,1137.7 L275,1139.2 L274.8,1140.7 L274.7,1142.4 L274.6,1144.1 L274.5,1145.5 L274.4,1147.1 L274.2,1148.8 L274.1,1150.6 L274,1152.4 L273.9,1154.1 L273.8,1155.7 L273.7,1157.1 L273.6,1158.3 L273.5,1159.2 L272.2,1159.2 L272.1,1158.3 L272.1,1157.1 L272,1155.7 L271.9,1154.1 L271.7,1152.4 L271.6,1150.6 L271.5,1148.8 L271.4,1147.1 L271.2,1145.5 L271.1,1144.1 L271,1142.4 L270.9,1140.7 L270.8,1139.2 L270.7,1137.7 L270.5,1136.3 L270.4,1134.9 L270.3,1133.3 L270.1,1131.8 L270,1130.3 L269.8,1128.7 L269.6,1127.2 L269.4,1125.6 L269.3,1124.1 L269.1,1122.6 L268.9,1121 L268.7,1119.5 L268.6,1117.9 L268.4,1116.4 L268.2,1114.9 L268,1113.3 L267.8,1111.8 L267.6,1110.2 L267.3,1108.7 L267.1,1107.2 L266.8,1105.6 L266.6,1104.1 L266.3,1102.5 L266.1,1101 L265.8,1099.5 L265.6,1097.9 L265.3,1096.4 L265.1,1094.8 L264.8,1093.3 L264.5,1091.7 L264.2,1090.2 L263.9,1088.7 L263.6,1087.1 L263.2,1085.6 L262.8,1084 L262.5,1082.5 L262.1,1081 L261.8,1079.4 L261.4,1077.9 L261.1,1076.3 L260.8,1074.8 L260.5,1073.3 L260.2,1071.7 L259.9,1070.2 L259.6,1068.6 L259.3,1067.1 L258.9,1065.6 L258.6,1064 L258.3,1062.5 L257.9,1060.9 L257.6,1059.4 L257.2,1057.9 L256.9,1056.3 L256.5,1054.8 L256.2,1053.2 L255.9,1051.7 L255.5,1050.1 L255.2,1048.6 L254.9,1047.1 L254.5,1045.5 L254.1,1044 L253.8,1042.4 L253.4,1040.9 L253.1,1039.4 L252.7,1037.8 L252.4,1036.3 L252,1034.7 L251.7,1033.2 L251.4,1031.7 L251.1,1030.1 L250.8,1028.6 L250.5,1027 L250.2,1025.5 L249.9,1024 L249.6,1022.4 L249.3,1020.9 L249,1019.3 L248.7,1017.8 L248.4,1016.3 L248.2,1014.7 L248,1013.2 L247.9,1011.6 L247.7,1010.1 L247.6,1008.5 L247.5,1007 L247.4,1005.5 L247.2,1003.9 L247.1,1002.4 L247,1000.8 L247,999.3 L246.9,997.8 L246.8,996.2 L246.8,994.7 L246.7,993.1 L246.7,991.6 L246.6,990.1 L246.6,988.5 L246.6,987 L246.6,985.4 L246.7,983.9 L246.7,982.4 L246.8,980.8 L246.9,979.3 L247,977.7 L247.1,976.2 L247.2,974.7 L247.4,973.1 L247.5,971.6 L247.7,970 L247.8,968.5 L248,967 L248.2,965.4 L248.4,963.9 L248.6,962.3 L248.9,960.8 L249.2,959.2 L249.5,957.7 L249.9,956.1 L250.2,954.6 L250.6,953.1 L251,951.5 L251.3,950 L251.6,948.4 L251.9,946.9 L252.2,945.3 L252.5,943.8 L252.7,942.2 L253,940.7 L253.2,939.1 L253.4,937.6 L253.5,936 L253.6,934.5 L253.7,933 L253.8,931.4 L253.9,929.9 L254,928.3 L254.1,926.8 L254.2,925.3 L254.3,923.7 L254.5,922.2 L254.6,920.6 L254.7,919.1 L254.8,917.6 L254.9,916 L255,914.5 L255.1,912.9 L255.1,911.4 L255.2,909.9 L255.3,908.3 L255.3,906.8 L255.4,905.2 L255.5,903.7 L255.5,902.2 L255.6,900.6 L255.6,899.1 L255.7,897.5 L255.8,896 L255.8,894.5 L255.9,892.9 L256,891.4 L256,889.8 L256.1,888.3 L256.2,886.7 L256.3,885.2 L256.4,883.7 L256.5,882.1 L256.6,880.6 L256.7,879 L256.8,877.5 L257,876 L257.1,874.4 L257.3,872.9 L257.4,871.3 L257.5,869.8 L257.7,868.3 L257.8,866.7 L258,865.2 L258.2,863.6 L258.4,862.1 L258.6,860.6 L258.9,859 L259.1,857.5 L259.4,855.9 L259.7,854.4 L259.9,852.9 L260.2,851.3 L260.4,849.8 L260.7,848.2 L260.9,846.7 L261.2,845.1 L261.5,843.6 L261.8,842.1 L262,840.5 L262.3,839 L262.6,837.4 L262.9,835.9 L263.2,834.4 L263.5,832.8 L263.8,831.3 L264.1,829.7 L264.4,828.2 L264.7,826.7 L264.9,825.1 L265.2,823.6 L265.5,822 L265.7,820.5 L266,819 L266.2,817.4 L266.5,815.9 L266.7,814.3 L266.9,812.8 L267.1,811.3 L267.3,809.7 L267.5,808.2 L267.7,806.6 L267.8,805.1 L268,803.5 L268.1,802 L268.3,800.5 L268.4,798.9 L268.6,797.4 L268.7,795.8 L268.9,794.3 L269,792.8 L269.2,791.2 L269.3,789.7 L269.5,788.1 L269.6,786.6 L269.7,785.1 L269.8,783.5 L269.9,782 L270,780.4 L270.2,778.9 L270.3,777.4 L270.4,775.8 L270.5,774.3 L270.6,772.8 L270.7,771.3 L270.9,769.7 L271,768.2 L271.1,766.6 L271.3,764.8 L271.5,762.9 L271.6,760.9 L271.8,759 L272,757.3 L272.1,755.8 L272.2,754.7Z" fill="#4DBBD5" fill-opacity="0.5"/>
<rect x="71.3" y="713.1" width="276.6" height="466.1" fill="none" stroke="#2b2b2b" stroke-width="3.4"/>
<path d="M65.6,830.9H70.6M65.6,982.9H70.6M65.6,1135H70.6" stroke="#333" stroke-width="1.3"/>
<g font-size="17" text-anchor="end" fill="#111" stroke="#111" stroke-width="0.4"><text x="62.6" y="837.5">2</text><text x="62.6" y="989.5">0</text><text x="62.6" y="1141.6">−2</text></g>
<text x="111.8" y="743.8" font-size="23.3" textLength="172.2" lengthAdjust="spacingAndGlyphs" fill="#000" stroke="#000" stroke-width="0.45">T−test, p = 0.0049</text>
<text transform="translate(146.3,1188.8) rotate(-50)" y="14.3" font-size="21.5" text-anchor="end" fill="#000" stroke="#000" stroke-width="0.45">Codel</text>
<text transform="translate(273.4,1188.8) rotate(-50)" y="14.3" font-size="21.5" text-anchor="end" fill="#000" stroke="#000" stroke-width="0.45">Non−codel</text>
<text x="209.6" y="1299" font-weight="bold" font-size="24.0" fill="#8B0000" stroke="#8B0000" stroke-width="0.35" text-anchor="middle" lengthAdjust="spacingAndGlyphs" textLength="115.8">Chr_1p19q</text>
<text transform="translate(34.5,946.1) rotate(-90)" font-weight="bold" font-size="22.6" fill="#8B0000" stroke="#8B0000" stroke-width="0.35" text-anchor="middle" lengthAdjust="spacingAndGlyphs" textLength="324">MAP2K3 Expression (z−score)</text>
<text x="209.6" y="698.2" font-weight="bold" font-size="24.0" fill="#8B0000" stroke="#8B0000" stroke-width="0.35" text-anchor="middle" lengthAdjust="spacingAndGlyphs" textLength="117">CGGA_301</text>
<text x="29.3" y="686.5" font-weight="bold" font-size="29.2" text-anchor="middle" fill="#000" stroke="#000" stroke-width="0.4" textLength="18.1" lengthAdjust="spacingAndGlyphs">E</text>
<rect x="466" y="716.4" width="270.6" height="460.3" fill="#F1F4F5"/>
<path d="M461,848.2H741.5M461,1004.7H741.5M461,1161H741.5M537.7,1181.6V711.4M664.7,1181.6V711.4" stroke="#C8CACB" stroke-width="1.2" stroke-dasharray="6.45 6.45" fill="none"/>
<g fill="#E64B35"><circle cx="513.8" cy="955.8" r="4.1"/><circle cx="538.5" cy="957.7" r="4.1"/><circle cx="524.4" cy="961.7" r="4.1"/><circle cx="555.8" cy="968.9" r="4.1"/><circle cx="548.9" cy="972.3" r="4.1"/><circle cx="562.1" cy="1159.7" r="4.1"/><circle cx="545.1" cy="1152.5" r="4.1"/><circle cx="523.7" cy="1037.1" r="4.1"/><circle cx="540.6" cy="1058.4" r="4.1"/><circle cx="513.9" cy="1090.2" r="4.1"/><circle cx="523.8" cy="989" r="4.1"/><circle cx="527.5" cy="1062.3" r="4.1"/><circle cx="551.4" cy="1018.2" r="4.1"/><circle cx="518.7" cy="973.6" r="4.1"/><circle cx="517.1" cy="1091.8" r="4.1"/><circle cx="532.4" cy="1084.1" r="4.1"/><circle cx="513.4" cy="1042.1" r="4.1"/><circle cx="558.4" cy="1126" r="4.1"/><circle cx="526.4" cy="1099.9" r="4.1"/><circle cx="518.3" cy="1045" r="4.1"/><circle cx="526.6" cy="959" r="4.1"/><circle cx="553.8" cy="1113.1" r="4.1"/><circle cx="560.4" cy="1040.8" r="4.1"/><circle cx="524.8" cy="1047.2" r="4.1"/><circle cx="559.7" cy="1058.7" r="4.1"/><circle cx="522.8" cy="1078.7" r="4.1"/><circle cx="520.1" cy="1069.7" r="4.1"/><circle cx="538.3" cy="1057.9" r="4.1"/><circle cx="518.7" cy="1043.3" r="4.1"/><circle cx="515.9" cy="1087.9" r="4.1"/><circle cx="556.8" cy="1013.1" r="4.1"/><circle cx="525.3" cy="1016.6" r="4.1"/><circle cx="536.1" cy="1061.1" r="4.1"/><circle cx="559.3" cy="1071.7" r="4.1"/><circle cx="520.4" cy="1101.3" r="4.1"/><circle cx="522.6" cy="1029.7" r="4.1"/><circle cx="532" cy="1068.7" r="4.1"/><circle cx="561.4" cy="1112.4" r="4.1"/><circle cx="529" cy="1060.7" r="4.1"/><circle cx="548.3" cy="1059.9" r="4.1"/><circle cx="560.3" cy="1088.6" r="4.1"/><circle cx="558.4" cy="1001.6" r="4.1"/><circle cx="539.3" cy="1054" r="4.1"/><circle cx="519.1" cy="1053.7" r="4.1"/><circle cx="525.1" cy="1069.9" r="4.1"/><circle cx="524.3" cy="1058.4" r="4.1"/><circle cx="552.9" cy="972" r="4.1"/><circle cx="541.9" cy="1026.7" r="4.1"/><circle cx="555.5" cy="1105.7" r="4.1"/><circle cx="561.9" cy="1063.4" r="4.1"/><circle cx="542.7" cy="1085.7" r="4.1"/><circle cx="518.4" cy="1058.7" r="4.1"/><circle cx="528.4" cy="1074.2" r="4.1"/><circle cx="516.8" cy="1045.1" r="4.1"/><circle cx="544.5" cy="1096.7" r="4.1"/><circle cx="525.8" cy="1095" r="4.1"/><circle cx="551.7" cy="1105.5" r="4.1"/><circle cx="549.1" cy="1018.7" r="4.1"/><circle cx="533.7" cy="1107.8" r="4.1"/><circle cx="523.3" cy="1070.4" r="4.1"/><circle cx="521.8" cy="1075.6" r="4.1"/><circle cx="519.4" cy="1015.7" r="4.1"/><circle cx="538" cy="997.8" r="4.1"/><circle cx="518" cy="997.4" r="4.1"/><circle cx="542.1" cy="1058" r="4.1"/><circle cx="537.5" cy="1140.1" r="4.1"/><circle cx="518.4" cy="1100.3" r="4.1"/><circle cx="516.9" cy="1028.8" r="4.1"/><circle cx="549.3" cy="975.7" r="4.1"/><circle cx="558" cy="1107.9" r="4.1"/><circle cx="528.4" cy="1080" r="4.1"/><circle cx="546.6" cy="1095" r="4.1"/><circle cx="522.2" cy="999.5" r="4.1"/><circle cx="553.6" cy="1060.6" r="4.1"/><circle cx="551.2" cy="1009.5" r="4.1"/><circle cx="542" cy="1057.9" r="4.1"/><circle cx="520.6" cy="1113.1" r="4.1"/></g>
<path d="M537.7,1030.3V956.6M537.7,1080.7V1152.9" stroke="#000" stroke-width="1.8"/>
<rect x="489.9" y="1030.3" width="95.9" height="50.4" fill="#E64B35" fill-opacity="0.67" stroke="#000" stroke-width="1.9"/>
<path d="M489.9,1057.3H585.8" stroke="#000" stroke-width="3.4"/>
<path d="M548.1,956.6 L548.2,957.7 L548.5,959.3 L548.8,961.1 L549,963.1 L549.3,965.2 L549.6,967.1 L549.7,968.6 L549.8,970.2 L549.9,971.7 L550,973.3 L550.1,974.9 L550.2,976.5 L550.4,978.1 L550.6,979.7 L550.8,981.2 L551,982.8 L551.2,984.4 L551.5,986 L551.9,987.5 L552.3,989.1 L552.8,990.7 L553.4,992.3 L554,993.8 L554.7,995.4 L555.4,997 L556.2,998.6 L557,1000.1 L557.9,1001.7 L558.8,1003.3 L559.8,1004.9 L560.9,1006.4 L561.9,1008 L563,1009.6 L564.2,1011.2 L565.3,1012.7 L566.5,1014.3 L567.7,1015.9 L569,1017.5 L570.2,1019.1 L571.5,1020.6 L572.7,1022.2 L574,1023.8 L575.2,1025.4 L576.5,1026.9 L577.8,1028.5 L579.1,1030.1 L580.3,1031.7 L581.5,1033.2 L582.8,1034.8 L584,1036.4 L585.2,1038 L586.4,1039.5 L587.5,1041.1 L588.6,1042.7 L589.5,1044.3 L590.4,1045.9 L591.2,1047.6 L592,1049.3 L592.7,1050.9 L593.3,1052.5 L593.8,1054 L594.2,1055.3 L594.8,1057.5 L594.8,1059.2 L594.5,1060.8 L593.8,1062.4 L592.7,1064.1 L591.2,1066.3 L590.4,1067.6 L589.5,1069.1 L588.5,1070.7 L587.5,1072.3 L586.4,1074 L585.3,1075.7 L584.3,1077.3 L583.3,1078.9 L582.2,1080.5 L581.2,1082.1 L580.1,1083.7 L579,1085.2 L577.9,1086.8 L576.8,1088.4 L575.7,1090 L574.6,1091.5 L573.5,1093.1 L572.3,1094.7 L571.2,1096.3 L570,1097.8 L568.9,1099.4 L567.7,1101 L566.6,1102.6 L565.4,1104.1 L564.3,1105.7 L563.1,1107.3 L562,1108.9 L560.9,1110.4 L559.7,1112 L558.6,1113.6 L557.4,1115.2 L556.3,1116.7 L555.2,1118.3 L554.2,1119.9 L553.1,1121.5 L552.1,1123 L551.2,1124.6 L550.2,1126.2 L549.3,1127.8 L548.5,1129.3 L547.7,1130.9 L547.1,1132.5 L546.5,1134.1 L546.1,1135.6 L545.8,1137.2 L545.5,1138.8 L545.2,1140.4 L545,1141.9 L544.9,1143.5 L544.7,1145.2 L544.7,1146.9 L544.6,1148.6 L544.6,1150.2 L544.6,1151.8 L544.6,1153.3 L544.6,1154.6 L544.4,1156.8 L544.2,1158.5 L544,1159.5 L531.4,1159.5 L531.2,1158.5 L531,1156.8 L530.8,1154.6 L530.8,1153.3 L530.8,1151.8 L530.8,1150.2 L530.8,1148.6 L530.7,1146.9 L530.7,1145.2 L530.5,1143.5 L530.3,1141.9 L530.2,1140.4 L529.9,1138.8 L529.6,1137.2 L529.3,1135.6 L528.9,1134.1 L528.3,1132.5 L527.7,1130.9 L526.9,1129.3 L526.1,1127.8 L525.2,1126.2 L524.2,1124.6 L523.2,1123 L522.3,1121.5 L521.2,1119.9 L520.2,1118.3 L519.1,1116.7 L517.9,1115.2 L516.8,1113.6 L515.7,1112 L514.5,1110.4 L513.4,1108.9 L512.3,1107.3 L511.1,1105.7 L510,1104.1 L508.8,1102.6 L507.7,1101 L506.5,1099.4 L505.4,1097.8 L504.2,1096.3 L503.1,1094.7 L501.9,1093.1 L500.8,1091.5 L499.7,1090 L498.5,1088.4 L497.4,1086.8 L496.4,1085.2 L495.3,1083.7 L494.2,1082.1 L493.2,1080.5 L492.1,1078.9 L491.1,1077.3 L490.1,1075.7 L489,1074 L487.9,1072.3 L486.9,1070.7 L485.9,1069.1 L485,1067.6 L484.2,1066.3 L482.7,1064.1 L481.6,1062.4 L480.9,1060.8 L480.6,1059.2 L480.6,1057.5 L481.2,1055.3 L481.6,1054 L482.1,1052.5 L482.7,1050.9 L483.4,1049.3 L484.2,1047.6 L485,1045.9 L485.9,1044.3 L486.8,1042.7 L487.9,1041.1 L489,1039.5 L490.2,1038 L491.4,1036.4 L492.6,1034.8 L493.9,1033.2 L495.1,1031.7 L496.3,1030.1 L497.6,1028.5 L498.9,1026.9 L500.2,1025.4 L501.4,1023.8 L502.7,1022.2 L503.9,1020.6 L505.2,1019.1 L506.4,1017.5 L507.7,1015.9 L508.9,1014.3 L510.1,1012.7 L511.2,1011.2 L512.3,1009.6 L513.4,1008 L514.5,1006.4 L515.6,1004.9 L516.6,1003.3 L517.5,1001.7 L518.4,1000.1 L519.2,998.6 L520,997 L520.7,995.4 L521.4,993.8 L522,992.3 L522.6,990.7 L523.1,989.1 L523.5,987.5 L523.9,986 L524.2,984.4 L524.4,982.8 L524.6,981.2 L524.8,979.7 L525,978.1 L525.2,976.5 L525.3,974.9 L525.4,973.3 L525.5,971.7 L525.6,970.2 L525.7,968.6 L525.8,967.1 L526.1,965.2 L526.3,963.1 L526.6,961.1 L526.9,959.3 L527.2,957.7 L527.3,956.6Z" fill="#E64B35" fill-opacity="0.5"/>
<g fill="#4DBBD5"><circle cx="643.5" cy="757.6" r="4.1"/><circle cx="661.3" cy="765" r="4.1"/><circle cx="662.6" cy="777" r="4.1"/><circle cx="684.4" cy="803" r="4.1"/><circle cx="673.2" cy="812.1" r="4.1"/><circle cx="680.7" cy="813.4" r="4.1"/><circle cx="659.9" cy="817.7" r="4.1"/><circle cx="652.8" cy="840.8" r="4.1"/><circle cx="687.3" cy="1133.1" r="4.1"/><circle cx="688.6" cy="1091.9" r="4.1"/><circle cx="688.6" cy="1098" r="4.1"/><circle cx="671.9" cy="1102.5" r="4.1"/><circle cx="677.7" cy="1090.6" r="4.1"/><circle cx="672.8" cy="882.2" r="4.1"/><circle cx="673" cy="968.3" r="4.1"/><circle cx="672.4" cy="1033.1" r="4.1"/><circle cx="654.1" cy="926.7" r="4.1"/><circle cx="675.2" cy="928.9" r="4.1"/><circle cx="690" cy="1064.6" r="4.1"/><circle cx="669.2" cy="1008.8" r="4.1"/><circle cx="663" cy="821.2" r="4.1"/><circle cx="683" cy="1002.8" r="4.1"/><circle cx="654.6" cy="838.9" r="4.1"/><circle cx="679.7" cy="1065.9" r="4.1"/><circle cx="650.7" cy="933.8" r="4.1"/><circle cx="646.2" cy="944.7" r="4.1"/><circle cx="650" cy="1085.6" r="4.1"/><circle cx="678.1" cy="1048.7" r="4.1"/><circle cx="669.9" cy="949.2" r="4.1"/><circle cx="668.5" cy="880.4" r="4.1"/><circle cx="673.2" cy="1054.6" r="4.1"/><circle cx="680" cy="924.6" r="4.1"/><circle cx="658.1" cy="870.9" r="4.1"/><circle cx="665.9" cy="939.3" r="4.1"/><circle cx="671.3" cy="985.7" r="4.1"/><circle cx="667.6" cy="968.6" r="4.1"/><circle cx="664" cy="989.8" r="4.1"/><circle cx="653.7" cy="996.4" r="4.1"/><circle cx="682.8" cy="1028.7" r="4.1"/><circle cx="671.1" cy="1002.4" r="4.1"/><circle cx="664.4" cy="881.9" r="4.1"/><circle cx="666.3" cy="1022.5" r="4.1"/><circle cx="687.9" cy="1032" r="4.1"/><circle cx="683.2" cy="982.9" r="4.1"/><circle cx="685" cy="1062.6" r="4.1"/><circle cx="680.1" cy="959.6" r="4.1"/><circle cx="665" cy="932.8" r="4.1"/><circle cx="660.4" cy="1065.6" r="4.1"/><circle cx="667.5" cy="987.3" r="4.1"/><circle cx="661.5" cy="1013.4" r="4.1"/><circle cx="668.2" cy="875.5" r="4.1"/><circle cx="674.3" cy="981.3" r="4.1"/><circle cx="669.4" cy="914" r="4.1"/><circle cx="645.7" cy="867.4" r="4.1"/><circle cx="665.3" cy="967.7" r="4.1"/><circle cx="669.6" cy="1044.2" r="4.1"/><circle cx="642.8" cy="1028.1" r="4.1"/><circle cx="650.2" cy="961.6" r="4.1"/><circle cx="645.1" cy="1065.2" r="4.1"/><circle cx="675.6" cy="875.1" r="4.1"/><circle cx="653.4" cy="1012.1" r="4.1"/><circle cx="656.7" cy="1043.6" r="4.1"/><circle cx="682.3" cy="944.5" r="4.1"/><circle cx="687.5" cy="925.2" r="4.1"/><circle cx="675.4" cy="955.3" r="4.1"/><circle cx="674.2" cy="1022.5" r="4.1"/><circle cx="645.7" cy="1066.5" r="4.1"/><circle cx="677.4" cy="972.8" r="4.1"/><circle cx="672.9" cy="964.8" r="4.1"/><circle cx="666.7" cy="1007.5" r="4.1"/><circle cx="683.8" cy="863.7" r="4.1"/><circle cx="684.4" cy="920.9" r="4.1"/><circle cx="680.1" cy="1045.2" r="4.1"/><circle cx="669.3" cy="925.3" r="4.1"/><circle cx="667" cy="836.6" r="4.1"/><circle cx="657.8" cy="991.1" r="4.1"/><circle cx="679.3" cy="1008.5" r="4.1"/><circle cx="666.9" cy="981.7" r="4.1"/><circle cx="664.6" cy="976.1" r="4.1"/><circle cx="656.6" cy="1062.9" r="4.1"/><circle cx="674.3" cy="873.4" r="4.1"/><circle cx="679.9" cy="875.9" r="4.1"/><circle cx="683" cy="999.3" r="4.1"/><circle cx="650.7" cy="1018" r="4.1"/><circle cx="670.6" cy="1041.8" r="4.1"/><circle cx="666.8" cy="970.9" r="4.1"/><circle cx="658.8" cy="835.4" r="4.1"/><circle cx="679.1" cy="814.3" r="4.1"/><circle cx="673.2" cy="805.8" r="4.1"/><circle cx="678.2" cy="1070.9" r="4.1"/><circle cx="684" cy="1024.4" r="4.1"/><circle cx="670" cy="1024.3" r="4.1"/><circle cx="649.6" cy="892.2" r="4.1"/><circle cx="675.1" cy="828.4" r="4.1"/><circle cx="674.6" cy="852.2" r="4.1"/><circle cx="677.6" cy="865.5" r="4.1"/><circle cx="642" cy="964" r="4.1"/><circle cx="680.3" cy="1079.8" r="4.1"/><circle cx="647.7" cy="1070.2" r="4.1"/><circle cx="642.9" cy="851.1" r="4.1"/><circle cx="679.5" cy="973.6" r="4.1"/><circle cx="665.9" cy="919.9" r="4.1"/><circle cx="675.7" cy="941" r="4.1"/><circle cx="666.6" cy="1028.3" r="4.1"/><circle cx="666.2" cy="1042.9" r="4.1"/><circle cx="687.6" cy="982.2" r="4.1"/><circle cx="646.7" cy="858.9" r="4.1"/><circle cx="643.6" cy="883.2" r="4.1"/><circle cx="669" cy="1001" r="4.1"/><circle cx="678.5" cy="1052.6" r="4.1"/><circle cx="663.8" cy="1029.1" r="4.1"/><circle cx="664.5" cy="1026.6" r="4.1"/><circle cx="670.8" cy="958.4" r="4.1"/><circle cx="654.3" cy="1052.9" r="4.1"/><circle cx="686.4" cy="1055.6" r="4.1"/><circle cx="661.8" cy="1043.4" r="4.1"/><circle cx="671.3" cy="929.9" r="4.1"/><circle cx="654.3" cy="859.9" r="4.1"/><circle cx="640.2" cy="1066.1" r="4.1"/><circle cx="640.3" cy="1081" r="4.1"/><circle cx="648.2" cy="984" r="4.1"/><circle cx="654.2" cy="1093" r="4.1"/><circle cx="639.7" cy="1095.6" r="4.1"/><circle cx="668.9" cy="980.4" r="4.1"/><circle cx="665.6" cy="1079.8" r="4.1"/><circle cx="640.7" cy="936.1" r="4.1"/><circle cx="678.2" cy="901.1" r="4.1"/><circle cx="675.3" cy="1012.5" r="4.1"/><circle cx="675" cy="909.1" r="4.1"/><circle cx="682.5" cy="934.4" r="4.1"/><circle cx="675.1" cy="987.4" r="4.1"/><circle cx="654.6" cy="957.6" r="4.1"/><circle cx="655" cy="1054.4" r="4.1"/><circle cx="658.7" cy="940.7" r="4.1"/><circle cx="686.2" cy="1026.5" r="4.1"/><circle cx="670.6" cy="878.5" r="4.1"/><circle cx="659.1" cy="943.1" r="4.1"/><circle cx="689.8" cy="850.6" r="4.1"/><circle cx="683.2" cy="866.4" r="4.1"/><circle cx="642.8" cy="892.8" r="4.1"/><circle cx="675.9" cy="1012.1" r="4.1"/><circle cx="651.6" cy="1005.4" r="4.1"/><circle cx="679.7" cy="1085.6" r="4.1"/><circle cx="670.7" cy="895.9" r="4.1"/><circle cx="670.9" cy="1024.6" r="4.1"/><circle cx="646.1" cy="873.8" r="4.1"/><circle cx="640.9" cy="951.8" r="4.1"/><circle cx="642" cy="903.9" r="4.1"/><circle cx="681.7" cy="1057.1" r="4.1"/><circle cx="676.9" cy="1041.5" r="4.1"/><circle cx="647.5" cy="891.3" r="4.1"/><circle cx="641.8" cy="891.2" r="4.1"/><circle cx="657.1" cy="830.1" r="4.1"/><circle cx="651.8" cy="864.9" r="4.1"/><circle cx="674.4" cy="850.7" r="4.1"/><circle cx="659.2" cy="1086.4" r="4.1"/><circle cx="647.1" cy="851.6" r="4.1"/><circle cx="652.7" cy="985.2" r="4.1"/><circle cx="652.2" cy="1042" r="4.1"/><circle cx="681.1" cy="1030.3" r="4.1"/><circle cx="682.9" cy="898.6" r="4.1"/><circle cx="668.1" cy="964.2" r="4.1"/><circle cx="641" cy="1043.5" r="4.1"/><circle cx="662.5" cy="992.8" r="4.1"/><circle cx="639.6" cy="1039.1" r="4.1"/><circle cx="660.6" cy="1028.7" r="4.1"/><circle cx="684.9" cy="996.4" r="4.1"/><circle cx="646.4" cy="848.5" r="4.1"/><circle cx="681.3" cy="918.1" r="4.1"/><circle cx="647.5" cy="1037.3" r="4.1"/><circle cx="684.3" cy="1059" r="4.1"/><circle cx="641.4" cy="1087.6" r="4.1"/><circle cx="682.8" cy="900.9" r="4.1"/></g>
<path d="M664.7,921V758M664.7,1039.3V1133.1" stroke="#000" stroke-width="1.8"/>
<rect x="617.1" y="921" width="95.7" height="118.3" fill="#4DBBD5" fill-opacity="0.67" stroke="#000" stroke-width="1.9"/>
<path d="M617.1,994.7H712.8" stroke="#000" stroke-width="3.4"/>
<path d="M665.9,758 L665.9,759 L666,760.2 L666.1,761.7 L666.1,763.4 L666.2,765.2 L666.3,766.9 L666.4,768.6 L666.5,770.1 L666.6,771.8 L666.7,773.6 L666.8,775.2 L666.9,776.8 L667,778.4 L667.1,780.1 L667.2,781.8 L667.3,783.4 L667.4,785.1 L667.6,786.8 L667.7,788.4 L667.8,790.1 L668,791.8 L668.1,793.5 L668.2,795.1 L668.4,796.8 L668.5,798.5 L668.6,800.2 L668.8,801.8 L668.9,803.5 L669,805.2 L669.2,806.8 L669.3,808.5 L669.5,810.2 L669.6,811.9 L669.8,813.5 L670,815.2 L670.1,816.9 L670.3,818.5 L670.5,820.2 L670.7,821.9 L670.8,823.6 L671,825.2 L671.2,826.9 L671.3,828.6 L671.5,830.2 L671.7,831.9 L671.8,833.6 L672,835.3 L672.2,836.9 L672.3,838.6 L672.5,840.3 L672.7,841.9 L672.8,843.6 L673,845.3 L673.2,847 L673.3,848.6 L673.5,850.3 L673.7,852 L673.8,853.6 L674,855.3 L674.2,857 L674.3,858.7 L674.5,860.3 L674.7,862 L674.8,863.7 L675,865.3 L675.2,867 L675.3,868.7 L675.5,870.4 L675.7,872 L675.8,873.7 L676,875.4 L676.2,877 L676.3,878.7 L676.5,880.4 L676.7,882.1 L676.8,883.7 L677,885.4 L677.2,887.1 L677.3,888.7 L677.5,890.4 L677.7,892.1 L677.8,893.8 L678,895.4 L678.2,897.1 L678.3,898.8 L678.5,900.5 L678.7,902.1 L678.9,903.8 L679,905.5 L679.2,907.1 L679.4,908.8 L679.5,910.5 L679.6,912.2 L679.7,913.8 L679.8,915.5 L679.9,917.2 L679.9,918.8 L680,920.5 L680.1,922.2 L680.2,923.9 L680.4,925.5 L680.5,927.2 L680.6,928.9 L680.8,930.5 L680.9,932.2 L681.1,933.8 L681.2,935.4 L681.4,937 L681.6,938.7 L681.9,940.3 L682.2,941.9 L682.5,943.5 L682.9,945.1 L683.3,946.8 L683.7,948.4 L684,950 L684.3,951.7 L684.6,953.4 L684.9,955 L685.2,956.7 L685.5,958.4 L685.8,960.1 L686.2,961.7 L686.6,963.4 L687,965.1 L687.4,966.7 L687.9,968.4 L688.3,970.1 L688.7,971.8 L689.1,973.4 L689.5,975.1 L689.8,976.8 L690.2,978.4 L690.5,980.1 L690.9,981.8 L691.2,983.5 L691.6,985.1 L691.9,986.8 L692.2,988.5 L692.6,990.2 L692.9,991.8 L693.2,993.5 L693.5,995.2 L693.8,996.8 L694.1,998.5 L694.3,1000.2 L694.6,1001.9 L694.8,1003.5 L695,1005.2 L695.2,1006.9 L695.4,1008.5 L695.6,1010.2 L695.7,1011.9 L695.9,1013.6 L696,1015.2 L696.1,1016.9 L696.2,1018.6 L696.3,1020.2 L696.4,1021.9 L696.5,1023.6 L696.5,1025.3 L696.6,1026.9 L696.6,1028.6 L696.6,1030.3 L696.5,1031.9 L696.5,1033.6 L696.5,1035.3 L696.4,1037 L696.3,1038.6 L696.1,1040.3 L695.8,1042 L695.5,1043.6 L695.1,1045.3 L694.7,1047 L694.3,1048.7 L693.8,1050.3 L693.3,1052 L692.8,1053.7 L692.2,1055.3 L691.6,1057 L690.9,1058.7 L690.3,1060.4 L689.6,1062 L688.9,1063.7 L688.2,1065.4 L687.5,1067 L686.8,1068.7 L686,1070.4 L685.3,1072.1 L684.6,1073.7 L683.8,1075.4 L683,1077.1 L682.3,1078.7 L681.5,1080.4 L680.8,1082.1 L680,1083.8 L679.2,1085.4 L678.5,1087.1 L677.7,1088.8 L677,1090.5 L676.3,1092.1 L675.6,1093.8 L674.9,1095.5 L674.2,1097.1 L673.6,1098.8 L673,1100.5 L672.4,1102.2 L671.9,1103.8 L671.4,1105.5 L670.9,1107.2 L670.4,1108.8 L670,1110.5 L669.5,1112.2 L669.1,1113.9 L668.7,1115.5 L668.3,1117.2 L667.9,1118.9 L667.6,1120.5 L667.3,1122.3 L667,1124.2 L666.7,1126 L666.4,1127.8 L666.2,1129.3 L666,1130.6 L665.5,1132.5 L665.3,1133.1 L664.1,1133.1 L663.9,1132.5 L663.5,1130.6 L663.3,1129.3 L663,1127.8 L662.8,1126 L662.5,1124.2 L662.2,1122.3 L661.9,1120.5 L661.5,1118.9 L661.1,1117.2 L660.7,1115.5 L660.3,1113.9 L659.9,1112.2 L659.5,1110.5 L659,1108.8 L658.5,1107.2 L658.1,1105.5 L657.5,1103.8 L657,1102.2 L656.4,1100.5 L655.8,1098.8 L655.2,1097.1 L654.5,1095.5 L653.8,1093.8 L653.1,1092.1 L652.4,1090.5 L651.7,1088.8 L651,1087.1 L650.2,1085.4 L649.4,1083.8 L648.7,1082.1 L647.9,1080.4 L647.2,1078.7 L646.4,1077.1 L645.6,1075.4 L644.9,1073.7 L644.1,1072.1 L643.4,1070.4 L642.7,1068.7 L641.9,1067 L641.2,1065.4 L640.5,1063.7 L639.8,1062 L639.1,1060.4 L638.5,1058.7 L637.9,1057 L637.3,1055.3 L636.7,1053.7 L636.1,1052 L635.6,1050.3 L635.2,1048.7 L634.7,1047 L634.3,1045.3 L634,1043.6 L633.6,1042 L633.4,1040.3 L633.2,1038.6 L633.1,1037 L633,1035.3 L632.9,1033.6 L632.9,1031.9 L632.9,1030.3 L632.9,1028.6 L632.9,1026.9 L632.9,1025.3 L633,1023.6 L633,1021.9 L633.1,1020.2 L633.2,1018.6 L633.3,1016.9 L633.4,1015.2 L633.6,1013.6 L633.7,1011.9 L633.9,1010.2 L634.1,1008.5 L634.2,1006.9 L634.4,1005.2 L634.7,1003.5 L634.9,1001.9 L635.1,1000.2 L635.4,998.5 L635.7,996.8 L636,995.2 L636.3,993.5 L636.6,991.8 L636.9,990.2 L637.2,988.5 L637.5,986.8 L637.9,985.1 L638.2,983.5 L638.5,981.8 L638.9,980.1 L639.3,978.4 L639.6,976.8 L640,975.1 L640.4,973.4 L640.8,971.8 L641.2,970.1 L641.6,968.4 L642,966.7 L642.4,965.1 L642.9,963.4 L643.3,961.7 L643.7,960.1 L644,958.4 L644.3,956.7 L644.6,955 L644.8,953.4 L645.1,951.7 L645.4,950 L645.8,948.4 L646.1,946.8 L646.5,945.1 L646.9,943.5 L647.2,941.9 L647.5,940.3 L647.8,938.7 L648,937 L648.2,935.4 L648.4,933.8 L648.5,932.2 L648.7,930.5 L648.8,928.9 L649,927.2 L649.1,925.5 L649.2,923.9 L649.3,922.2 L649.4,920.5 L649.5,918.8 L649.6,917.2 L649.7,915.5 L649.7,913.8 L649.8,912.2 L649.9,910.5 L650.1,908.8 L650.2,907.1 L650.4,905.5 L650.6,903.8 L650.8,902.1 L650.9,900.5 L651.1,898.8 L651.3,897.1 L651.4,895.4 L651.6,893.8 L651.8,892.1 L651.9,890.4 L652.1,888.7 L652.3,887.1 L652.4,885.4 L652.6,883.7 L652.8,882.1 L652.9,880.4 L653.1,878.7 L653.3,877 L653.4,875.4 L653.6,873.7 L653.8,872 L653.9,870.4 L654.1,868.7 L654.3,867 L654.4,865.3 L654.6,863.7 L654.8,862 L654.9,860.3 L655.1,858.7 L655.3,857 L655.4,855.3 L655.6,853.6 L655.8,852 L655.9,850.3 L656.1,848.6 L656.3,847 L656.4,845.3 L656.6,843.6 L656.8,841.9 L656.9,840.3 L657.1,838.6 L657.3,836.9 L657.5,835.3 L657.6,833.6 L657.8,831.9 L658,830.2 L658.1,828.6 L658.3,826.9 L658.5,825.2 L658.6,823.6 L658.8,821.9 L659,820.2 L659.1,818.5 L659.3,816.9 L659.5,815.2 L659.6,813.5 L659.8,811.9 L660,810.2 L660.1,808.5 L660.3,806.8 L660.4,805.2 L660.5,803.5 L660.7,801.8 L660.8,800.2 L660.9,798.5 L661.1,796.8 L661.2,795.1 L661.4,793.5 L661.5,791.8 L661.6,790.1 L661.7,788.4 L661.9,786.8 L662,785.1 L662.1,783.4 L662.2,781.8 L662.4,780.1 L662.5,778.4 L662.6,776.8 L662.7,775.2 L662.8,773.6 L662.9,771.8 L663,770.1 L663,768.6 L663.1,766.9 L663.2,765.2 L663.3,763.4 L663.4,761.7 L663.5,760.2 L663.5,759 L663.6,758Z" fill="#4DBBD5" fill-opacity="0.5"/>
<rect x="462.7" y="713.1" width="277.2" height="466.9" fill="none" stroke="#2b2b2b" stroke-width="3.4"/>
<path d="M457,848.2H462M457,1004.7H462M457,1161H462" stroke="#333" stroke-width="1.3"/>
<g font-size="17" text-anchor="end" fill="#111" stroke="#111" stroke-width="0.4"><text x="454" y="854.8">2</text><text x="454" y="1011.3">0</text><text x="454" y="1167.6">−2</text></g>
<text x="495.7" y="744.3" font-size="23.3" textLength="210.2" lengthAdjust="spacingAndGlyphs" fill="#000" stroke="#000" stroke-width="0.45">Wilcoxon, p = 4.7e−10</text>
<text transform="translate(538.2,1189.6) rotate(-50)" y="14.3" font-size="21.5" text-anchor="end" fill="#000" stroke="#000" stroke-width="0.45">Codel</text>
<text transform="translate(665.2,1189.6) rotate(-50)" y="14.3" font-size="21.5" text-anchor="end" fill="#000" stroke="#000" stroke-width="0.45">Non_codel</text>
<text x="601.2" y="1299" font-weight="bold" font-size="24.0" fill="#8B0000" stroke="#8B0000" stroke-width="0.35" text-anchor="middle" lengthAdjust="spacingAndGlyphs" textLength="115.8">Chr_1p19q</text>
<text transform="translate(426.1,946.5) rotate(-90)" font-weight="bold" font-size="22.6" fill="#8B0000" stroke="#8B0000" stroke-width="0.35" text-anchor="middle" lengthAdjust="spacingAndGlyphs" textLength="324">MAP2K3 Expression (z−score)</text>
<text x="601.2" y="698.2" font-weight="bold" font-size="24.0" fill="#8B0000" stroke="#8B0000" stroke-width="0.35" text-anchor="middle" lengthAdjust="spacingAndGlyphs" textLength="117">CGGA_325</text>
<text x="423.6" y="689.1" font-weight="bold" font-size="29.2" text-anchor="middle" fill="#000" stroke="#000" stroke-width="0.4" textLength="16.6" lengthAdjust="spacingAndGlyphs">F</text>
<rect x="858.6" y="716.9" width="269.2" height="459.2" fill="#F1F4F5"/>
<path d="M853.6,749.9H1132.9M853.6,843.7H1132.9M853.6,937.8H1132.9M853.6,1031.6H1132.9M853.6,1125.1H1132.9M929.6,1181.1V711.9M1057.1,1181.1V711.9" stroke="#C8CACB" stroke-width="1.2" stroke-dasharray="6.45 6.45" fill="none"/>
<g fill="#E64B35"><circle cx="912.5" cy="822.7" r="4.1"/><circle cx="917.6" cy="875.3" r="4.1"/><circle cx="931.2" cy="1159.7" r="4.1"/><circle cx="934.3" cy="1159.7" r="4.1"/><circle cx="940.2" cy="1151.7" r="4.1"/><circle cx="906.4" cy="1121.7" r="4.1"/><circle cx="913.9" cy="1113.2" r="4.1"/><circle cx="905.1" cy="1102.5" r="4.1"/><circle cx="940.3" cy="1025.5" r="4.1"/><circle cx="952.6" cy="975.9" r="4.1"/><circle cx="915.2" cy="1031.5" r="4.1"/><circle cx="950.5" cy="985" r="4.1"/><circle cx="948.2" cy="1051.1" r="4.1"/><circle cx="904.2" cy="973" r="4.1"/><circle cx="930" cy="1039.6" r="4.1"/><circle cx="954.3" cy="1022.9" r="4.1"/><circle cx="951.6" cy="968.5" r="4.1"/><circle cx="943.8" cy="987" r="4.1"/><circle cx="927.5" cy="1064.5" r="4.1"/><circle cx="914.4" cy="1065" r="4.1"/><circle cx="918.2" cy="1017.2" r="4.1"/><circle cx="950.2" cy="1019.4" r="4.1"/><circle cx="912.1" cy="1051.5" r="4.1"/><circle cx="916.6" cy="1039.3" r="4.1"/><circle cx="916.1" cy="1057.9" r="4.1"/><circle cx="954.9" cy="1041.9" r="4.1"/><circle cx="914.4" cy="1057.6" r="4.1"/><circle cx="944.5" cy="1100.6" r="4.1"/><circle cx="927.5" cy="1019.8" r="4.1"/><circle cx="921.3" cy="976.8" r="4.1"/><circle cx="904.9" cy="1067.1" r="4.1"/><circle cx="930.2" cy="1018.3" r="4.1"/><circle cx="944.6" cy="1046.1" r="4.1"/><circle cx="929" cy="1046.5" r="4.1"/><circle cx="937.8" cy="1028.4" r="4.1"/><circle cx="920.1" cy="1001.6" r="4.1"/><circle cx="951.2" cy="977.7" r="4.1"/><circle cx="938.5" cy="1058.8" r="4.1"/><circle cx="904.3" cy="1047.9" r="4.1"/><circle cx="949.6" cy="1051.8" r="4.1"/><circle cx="918.8" cy="1086.8" r="4.1"/><circle cx="909.4" cy="1128.4" r="4.1"/><circle cx="948.8" cy="967.1" r="4.1"/><circle cx="945.8" cy="1051" r="4.1"/><circle cx="951.4" cy="1010.3" r="4.1"/><circle cx="931.9" cy="1120" r="4.1"/><circle cx="938.7" cy="1045.3" r="4.1"/><circle cx="935.4" cy="1063.9" r="4.1"/><circle cx="937.8" cy="1001" r="4.1"/><circle cx="908.7" cy="989.5" r="4.1"/><circle cx="933.6" cy="1026.6" r="4.1"/><circle cx="906.7" cy="1044.2" r="4.1"/><circle cx="931.5" cy="1089.5" r="4.1"/><circle cx="933.5" cy="1028.9" r="4.1"/><circle cx="904.5" cy="1063.8" r="4.1"/><circle cx="940.3" cy="1008.2" r="4.1"/><circle cx="933.7" cy="1039.5" r="4.1"/><circle cx="911.1" cy="1078.6" r="4.1"/><circle cx="908.1" cy="1036.6" r="4.1"/><circle cx="909.8" cy="990.9" r="4.1"/><circle cx="907.7" cy="1023.2" r="4.1"/><circle cx="926.2" cy="1043.7" r="4.1"/><circle cx="913.9" cy="990.1" r="4.1"/><circle cx="953.9" cy="1093.5" r="4.1"/><circle cx="932.5" cy="1053.1" r="4.1"/><circle cx="948.7" cy="1121.9" r="4.1"/><circle cx="910.7" cy="1028.3" r="4.1"/><circle cx="928.4" cy="991.4" r="4.1"/><circle cx="936" cy="985.7" r="4.1"/><circle cx="936.5" cy="999.1" r="4.1"/><circle cx="953.5" cy="1008.3" r="4.1"/><circle cx="938.8" cy="1040.6" r="4.1"/><circle cx="923" cy="987.6" r="4.1"/><circle cx="953" cy="1016.6" r="4.1"/><circle cx="946.9" cy="1032.1" r="4.1"/><circle cx="953.5" cy="1051.4" r="4.1"/><circle cx="927" cy="1045.7" r="4.1"/><circle cx="912" cy="1025.4" r="4.1"/><circle cx="921.6" cy="978.7" r="4.1"/><circle cx="923.4" cy="1108.6" r="4.1"/><circle cx="929.5" cy="998.8" r="4.1"/><circle cx="915" cy="1006.2" r="4.1"/><circle cx="952.3" cy="1012" r="4.1"/><circle cx="935.8" cy="1095.4" r="4.1"/><circle cx="944" cy="1084.4" r="4.1"/><circle cx="948.8" cy="1029.2" r="4.1"/><circle cx="950.2" cy="1070.1" r="4.1"/><circle cx="948.7" cy="1022.9" r="4.1"/><circle cx="953.7" cy="994.9" r="4.1"/><circle cx="925.7" cy="1098.7" r="4.1"/><circle cx="953.1" cy="1028" r="4.1"/><circle cx="945.8" cy="1038.1" r="4.1"/><circle cx="935.6" cy="1015.8" r="4.1"/><circle cx="943" cy="967.4" r="4.1"/><circle cx="922.9" cy="995" r="4.1"/><circle cx="937.8" cy="1009.9" r="4.1"/><circle cx="942.7" cy="1027.2" r="4.1"/><circle cx="937.9" cy="1003.7" r="4.1"/><circle cx="926" cy="1046.5" r="4.1"/><circle cx="935.7" cy="1054.2" r="4.1"/><circle cx="944.5" cy="992.1" r="4.1"/><circle cx="910.6" cy="1094.4" r="4.1"/><circle cx="929.8" cy="1053.4" r="4.1"/><circle cx="942.5" cy="1022.2" r="4.1"/><circle cx="930.1" cy="1018.4" r="4.1"/><circle cx="909.5" cy="1054.7" r="4.1"/><circle cx="941.1" cy="1072.3" r="4.1"/><circle cx="913.5" cy="1053.7" r="4.1"/><circle cx="936" cy="1042.4" r="4.1"/><circle cx="946.3" cy="1066.5" r="4.1"/><circle cx="936.4" cy="987.3" r="4.1"/><circle cx="926.7" cy="1006.9" r="4.1"/><circle cx="928.9" cy="971.2" r="4.1"/><circle cx="953.1" cy="988.6" r="4.1"/><circle cx="923.6" cy="1037.8" r="4.1"/><circle cx="927.6" cy="1053.5" r="4.1"/><circle cx="908.5" cy="1062.3" r="4.1"/><circle cx="924.8" cy="1033.2" r="4.1"/><circle cx="925.4" cy="1064.2" r="4.1"/><circle cx="928.7" cy="1054.4" r="4.1"/><circle cx="927.8" cy="999.4" r="4.1"/><circle cx="932.6" cy="1078.8" r="4.1"/><circle cx="923.2" cy="1081.8" r="4.1"/><circle cx="904.6" cy="1045.1" r="4.1"/><circle cx="918.1" cy="1021.7" r="4.1"/><circle cx="940.5" cy="962.3" r="4.1"/><circle cx="919.9" cy="989.9" r="4.1"/><circle cx="922.4" cy="1079.6" r="4.1"/><circle cx="925.9" cy="1015.9" r="4.1"/><circle cx="944.8" cy="977.9" r="4.1"/><circle cx="947" cy="1045" r="4.1"/><circle cx="940.7" cy="1051.9" r="4.1"/><circle cx="946.7" cy="995.2" r="4.1"/><circle cx="923.8" cy="1110.5" r="4.1"/><circle cx="940.6" cy="1054.8" r="4.1"/><circle cx="928.4" cy="1030.3" r="4.1"/><circle cx="933.5" cy="1001.4" r="4.1"/><circle cx="905" cy="1022.1" r="4.1"/><circle cx="931.1" cy="1092.7" r="4.1"/><circle cx="918.4" cy="1065.2" r="4.1"/></g>
<path d="M929.6,1008.5V953.5M929.6,1059.6V1121" stroke="#000" stroke-width="1.8"/>
<rect x="881.7" y="1008.5" width="95.7" height="51.1" fill="#E64B35" fill-opacity="0.67" stroke="#000" stroke-width="1.9"/>
<path d="M881.7,1038.3H977.4" stroke="#000" stroke-width="3.4"/>
<path d="M930.4,823 L930.4,823.8 L930.4,824.7 L930.4,825.7 L930.4,826.8 L930.4,827.9 L930.4,829.2 L930.4,830.5 L930.4,831.8 L930.4,833.3 L930.4,834.8 L930.4,836.3 L930.4,837.9 L930.4,839.5 L930.4,841.2 L930.4,842.9 L930.4,844.6 L930.4,846.4 L930.4,848.1 L930.4,849.9 L930.4,851.7 L930.4,853.5 L930.4,855.4 L930.5,857.2 L930.5,859 L930.5,860.8 L930.5,862.5 L930.5,864.3 L930.5,866 L930.5,867.4 L930.5,868.9 L930.5,870.4 L930.5,871.9 L930.5,873.5 L930.5,875.1 L930.5,876.7 L930.6,878.4 L930.6,880 L930.6,881.7 L930.6,883.4 L930.6,885.2 L930.6,886.9 L930.6,888.6 L930.6,890.4 L930.6,892.1 L930.7,893.8 L930.7,895.5 L930.7,897.2 L930.7,898.9 L930.7,900.5 L930.7,902.2 L930.7,903.8 L930.7,905.3 L930.7,906.8 L930.7,908.3 L930.7,909.8 L930.7,911.1 L930.8,912.5 L930.8,913.8 L930.8,915 L930.8,916.1 L930.8,917.2 L930.8,918.2 L930.8,919.2 L930.7,923.4 L930.6,925.8 L930.4,927.1 L930.3,927.7 L930.2,928.2 L930.2,929.2 L930.3,930.9 L930.5,932.2 L930.8,933.6 L931.2,935.6 L931.5,936.9 L931.8,938.3 L932.2,939.9 L932.6,941.6 L933.1,943.3 L933.5,945 L934.1,946.7 L934.7,948.4 L935.3,950 L936,951.6 L936.8,953.2 L937.6,954.8 L938.4,956.4 L939.3,958 L940.2,959.6 L941.1,961.2 L942,962.7 L942.9,964.3 L943.8,965.9 L944.8,967.5 L945.8,969.1 L946.7,970.7 L947.7,972.3 L948.7,973.9 L949.7,975.5 L950.7,977.1 L951.7,978.7 L952.7,980.3 L953.8,981.9 L954.8,983.5 L955.9,985.1 L957,986.7 L958.2,988.3 L959.5,989.9 L960.8,991.5 L962.1,993.1 L963.4,994.7 L964.7,996.3 L966,997.9 L967.3,999.5 L968.5,1001.1 L969.7,1002.7 L971,1004.3 L972.2,1005.9 L973.4,1007.5 L974.5,1009.1 L975.6,1010.7 L976.6,1012.3 L977.5,1013.9 L978.3,1015.5 L979.2,1017.1 L979.9,1018.7 L980.7,1020.3 L981.3,1021.9 L982,1023.5 L982.6,1025.1 L983.2,1026.7 L983.8,1028.4 L984.4,1030.2 L984.9,1031.9 L985.4,1033.6 L985.8,1035.1 L986.2,1036.6 L986.5,1037.9 L986.8,1039.9 L986.9,1041.5 L986.8,1042.8 L986.5,1044.3 L986,1045.7 L985.3,1047.1 L984.3,1048.6 L982.9,1050.7 L982.1,1052 L981,1053.4 L979.9,1055 L978.7,1056.7 L977.4,1058.4 L976.1,1060.1 L974.9,1061.8 L973.7,1063.5 L972.5,1065.1 L971.3,1066.6 L970.2,1068.2 L969,1069.8 L967.8,1071.4 L966.7,1073 L965.5,1074.6 L964.4,1076.2 L963.3,1077.8 L962.2,1079.4 L961.1,1081 L960,1082.6 L958.9,1084.2 L957.8,1085.8 L956.8,1087.4 L955.8,1089 L954.8,1090.6 L953.8,1092.2 L952.9,1093.8 L952,1095.4 L951.1,1097 L950.2,1098.6 L949.3,1100.2 L948.4,1101.8 L947.5,1103.4 L946.6,1105 L945.7,1106.6 L944.8,1108.2 L943.9,1109.8 L943.1,1111.4 L942.2,1113 L941.4,1114.6 L940.6,1116.2 L939.7,1117.8 L938.9,1119.4 L938,1121 L937.3,1122.6 L936.5,1124.2 L935.9,1125.8 L935.3,1127.4 L934.8,1129 L934.4,1130.6 L934.1,1132.2 L933.8,1133.8 L933.6,1135.4 L933.4,1137 L933.2,1138.6 L933.1,1140.2 L932.9,1141.8 L932.8,1143.5 L932.8,1145.3 L932.8,1147 L932.7,1148.6 L932.7,1150.2 L932.7,1151.7 L932.6,1153 L932.5,1155.2 L932.2,1157 L932.1,1158.4 L931.9,1159.4 L927.2,1159.4 L927.1,1158.4 L926.9,1157 L926.7,1155.2 L926.5,1153 L926.4,1151.7 L926.4,1150.2 L926.4,1148.6 L926.4,1147 L926.3,1145.3 L926.3,1143.5 L926.2,1141.8 L926,1140.2 L925.9,1138.6 L925.7,1137 L925.5,1135.4 L925.3,1133.8 L925,1132.2 L924.7,1130.6 L924.3,1129 L923.8,1127.4 L923.2,1125.8 L922.6,1124.2 L921.8,1122.6 L921.1,1121 L920.2,1119.4 L919.4,1117.8 L918.6,1116.2 L917.7,1114.6 L916.9,1113 L916,1111.4 L915.2,1109.8 L914.3,1108.2 L913.4,1106.6 L912.5,1105 L911.6,1103.4 L910.7,1101.8 L909.8,1100.2 L908.9,1098.6 L908,1097 L907.1,1095.4 L906.2,1093.8 L905.3,1092.2 L904.3,1090.6 L903.3,1089 L902.3,1087.4 L901.3,1085.8 L900.2,1084.2 L899.1,1082.6 L898,1081 L896.9,1079.4 L895.8,1077.8 L894.7,1076.2 L893.6,1074.6 L892.4,1073 L891.3,1071.4 L890.1,1069.8 L888.9,1068.2 L887.8,1066.6 L886.6,1065.1 L885.4,1063.5 L884.2,1061.8 L883,1060.1 L881.7,1058.4 L880.4,1056.7 L879.2,1055 L878.1,1053.4 L877.1,1052 L876.2,1050.7 L874.8,1048.6 L873.8,1047.1 L873.1,1045.7 L872.7,1044.3 L872.3,1042.8 L872.2,1041.5 L872.3,1039.9 L872.7,1037.9 L872.9,1036.6 L873.3,1035.1 L873.7,1033.6 L874.2,1031.9 L874.7,1030.2 L875.3,1028.4 L875.9,1026.7 L876.5,1025.1 L877.1,1023.5 L877.8,1021.9 L878.5,1020.3 L879.2,1018.7 L880,1017.1 L880.8,1015.5 L881.6,1013.9 L882.6,1012.3 L883.6,1010.7 L884.6,1009.1 L885.8,1007.5 L886.9,1005.9 L888.1,1004.3 L889.4,1002.7 L890.6,1001.1 L891.8,999.5 L893.1,997.9 L894.4,996.3 L895.7,994.7 L897,993.1 L898.3,991.5 L899.6,989.9 L900.9,988.3 L902.1,986.7 L903.2,985.1 L904.3,983.5 L905.3,981.9 L906.4,980.3 L907.4,978.7 L908.4,977.1 L909.4,975.5 L910.4,973.9 L911.4,972.3 L912.4,970.7 L913.4,969.1 L914.3,967.5 L915.3,965.9 L916.2,964.3 L917.2,962.7 L918,961.2 L918.9,959.6 L919.8,958 L920.7,956.4 L921.5,954.8 L922.3,953.2 L923.1,951.6 L923.8,950 L924.4,948.4 L925,946.7 L925.6,945 L926.1,943.3 L926.5,941.6 L926.9,939.9 L927.3,938.3 L927.6,936.9 L927.9,935.6 L928.4,933.6 L928.7,932.2 L928.8,930.9 L928.9,929.2 L928.9,928.2 L928.8,927.7 L928.7,927.1 L928.5,925.8 L928.4,923.4 L928.4,919.2 L928.4,918.2 L928.4,917.2 L928.4,916.1 L928.4,915 L928.4,913.8 L928.4,912.5 L928.4,911.1 L928.4,909.8 L928.4,908.3 L928.4,906.8 L928.4,905.3 L928.4,903.8 L928.4,902.2 L928.4,900.5 L928.4,898.9 L928.4,897.2 L928.4,895.5 L928.5,893.8 L928.5,892.1 L928.5,890.4 L928.5,888.6 L928.5,886.9 L928.5,885.2 L928.5,883.4 L928.5,881.7 L928.5,880 L928.6,878.4 L928.6,876.7 L928.6,875.1 L928.6,873.5 L928.6,871.9 L928.6,870.4 L928.6,868.9 L928.6,867.4 L928.6,866 L928.6,864.3 L928.6,862.5 L928.6,860.8 L928.7,859 L928.7,857.2 L928.7,855.4 L928.7,853.5 L928.7,851.7 L928.7,849.9 L928.7,848.1 L928.7,846.4 L928.7,844.6 L928.7,842.9 L928.7,841.2 L928.7,839.5 L928.7,837.9 L928.7,836.3 L928.7,834.8 L928.7,833.3 L928.7,831.8 L928.7,830.5 L928.7,829.2 L928.7,827.9 L928.7,826.8 L928.8,825.7 L928.8,824.7 L928.8,823.8 L928.8,823Z" fill="#E64B35" fill-opacity="0.5"/>
<g fill="#4DBBD5"><circle cx="1046" cy="759.7" r="4.1"/><circle cx="1042" cy="768.2" r="4.1"/><circle cx="1033.2" cy="818.7" r="4.1"/><circle cx="1040.6" cy="830.9" r="4.1"/><circle cx="1073.1" cy="851.4" r="4.1"/><circle cx="1080.5" cy="1115.8" r="4.1"/><circle cx="1034" cy="1097.2" r="4.1"/><circle cx="1080.5" cy="1088.7" r="4.1"/><circle cx="1075.2" cy="1087.1" r="4.1"/><circle cx="1073.3" cy="965.2" r="4.1"/><circle cx="1066.4" cy="1026.9" r="4.1"/><circle cx="1051.4" cy="1045.3" r="4.1"/><circle cx="1048.3" cy="1007.6" r="4.1"/><circle cx="1081.5" cy="964.4" r="4.1"/><circle cx="1032.2" cy="1051.1" r="4.1"/><circle cx="1065" cy="940.5" r="4.1"/><circle cx="1032.1" cy="834" r="4.1"/><circle cx="1077.8" cy="1020.6" r="4.1"/><circle cx="1046.7" cy="964.3" r="4.1"/><circle cx="1070.4" cy="912.3" r="4.1"/><circle cx="1039.7" cy="991.5" r="4.1"/><circle cx="1047.7" cy="1065.2" r="4.1"/><circle cx="1032.2" cy="1036.5" r="4.1"/><circle cx="1042.2" cy="989" r="4.1"/><circle cx="1059.1" cy="985.3" r="4.1"/><circle cx="1066.8" cy="1067.5" r="4.1"/><circle cx="1055.8" cy="918.2" r="4.1"/><circle cx="1060.3" cy="1012.1" r="4.1"/><circle cx="1076" cy="885.1" r="4.1"/><circle cx="1033.1" cy="889.3" r="4.1"/><circle cx="1051.3" cy="966.4" r="4.1"/><circle cx="1067.8" cy="1055.4" r="4.1"/><circle cx="1057.2" cy="1086.5" r="4.1"/><circle cx="1051.7" cy="998.3" r="4.1"/><circle cx="1046.6" cy="860.6" r="4.1"/><circle cx="1035.9" cy="1035.9" r="4.1"/><circle cx="1065.9" cy="1054.2" r="4.1"/><circle cx="1058.2" cy="1019.9" r="4.1"/><circle cx="1075.9" cy="934.2" r="4.1"/><circle cx="1043.9" cy="928.3" r="4.1"/><circle cx="1042.8" cy="898.5" r="4.1"/><circle cx="1068.5" cy="1047.6" r="4.1"/><circle cx="1071.3" cy="1087.2" r="4.1"/><circle cx="1031.7" cy="1022.6" r="4.1"/><circle cx="1056" cy="1051.2" r="4.1"/><circle cx="1054" cy="999" r="4.1"/><circle cx="1039.9" cy="1032.7" r="4.1"/><circle cx="1051.2" cy="983.6" r="4.1"/><circle cx="1072.5" cy="1055.3" r="4.1"/><circle cx="1063.2" cy="1046.2" r="4.1"/><circle cx="1058.2" cy="921.1" r="4.1"/><circle cx="1047.2" cy="1037" r="4.1"/><circle cx="1057.9" cy="1097.1" r="4.1"/><circle cx="1036.6" cy="856.7" r="4.1"/><circle cx="1045.1" cy="1017.1" r="4.1"/><circle cx="1078.3" cy="1083.2" r="4.1"/><circle cx="1064.5" cy="958" r="4.1"/><circle cx="1049.2" cy="942.5" r="4.1"/><circle cx="1075.7" cy="1007.7" r="4.1"/><circle cx="1037" cy="1008.2" r="4.1"/><circle cx="1044.8" cy="1001.1" r="4.1"/><circle cx="1045.4" cy="1076.7" r="4.1"/><circle cx="1045.4" cy="1050.6" r="4.1"/><circle cx="1081.5" cy="1027.5" r="4.1"/><circle cx="1036.2" cy="884.8" r="4.1"/><circle cx="1059.6" cy="993" r="4.1"/><circle cx="1041.8" cy="1003.2" r="4.1"/><circle cx="1064.4" cy="1006.1" r="4.1"/><circle cx="1072.4" cy="1034.9" r="4.1"/><circle cx="1034.5" cy="946.8" r="4.1"/><circle cx="1058.3" cy="853.2" r="4.1"/><circle cx="1069.1" cy="894.6" r="4.1"/><circle cx="1069.4" cy="1018.3" r="4.1"/><circle cx="1040.9" cy="891.7" r="4.1"/><circle cx="1069.5" cy="985.9" r="4.1"/><circle cx="1082.6" cy="1014.4" r="4.1"/><circle cx="1071.8" cy="962.2" r="4.1"/><circle cx="1064.1" cy="1017.8" r="4.1"/><circle cx="1051.2" cy="1062.7" r="4.1"/><circle cx="1057.6" cy="1025.9" r="4.1"/><circle cx="1066.2" cy="1029.1" r="4.1"/><circle cx="1046" cy="959.7" r="4.1"/><circle cx="1039.7" cy="941.2" r="4.1"/><circle cx="1036.8" cy="1023" r="4.1"/><circle cx="1047.1" cy="1036.6" r="4.1"/><circle cx="1054.6" cy="962.7" r="4.1"/><circle cx="1036.4" cy="1020.5" r="4.1"/><circle cx="1037.1" cy="954.1" r="4.1"/><circle cx="1068.6" cy="999.4" r="4.1"/><circle cx="1079.8" cy="962.6" r="4.1"/><circle cx="1068.8" cy="1045.6" r="4.1"/><circle cx="1063.3" cy="1040.3" r="4.1"/><circle cx="1071.9" cy="981.4" r="4.1"/><circle cx="1040.5" cy="1014.9" r="4.1"/><circle cx="1034.1" cy="977.6" r="4.1"/><circle cx="1069.7" cy="1064.1" r="4.1"/><circle cx="1035.8" cy="1006.9" r="4.1"/><circle cx="1062.6" cy="1038.6" r="4.1"/><circle cx="1038.9" cy="1065.9" r="4.1"/><circle cx="1066.2" cy="1045.9" r="4.1"/><circle cx="1078.6" cy="1012.9" r="4.1"/><circle cx="1064.5" cy="965.8" r="4.1"/><circle cx="1082" cy="1018.2" r="4.1"/><circle cx="1043.2" cy="1070" r="4.1"/><circle cx="1050.2" cy="1020.9" r="4.1"/><circle cx="1034.3" cy="900.6" r="4.1"/><circle cx="1041.8" cy="1077.3" r="4.1"/><circle cx="1052.9" cy="1031.4" r="4.1"/><circle cx="1077.3" cy="1060.7" r="4.1"/><circle cx="1049" cy="1029" r="4.1"/><circle cx="1076.1" cy="923.7" r="4.1"/><circle cx="1040" cy="1025.5" r="4.1"/><circle cx="1048.8" cy="983.5" r="4.1"/><circle cx="1075.2" cy="1053.3" r="4.1"/><circle cx="1068.3" cy="1047" r="4.1"/><circle cx="1060.3" cy="980.7" r="4.1"/><circle cx="1040.5" cy="1089.1" r="4.1"/><circle cx="1080.5" cy="905.5" r="4.1"/><circle cx="1034.7" cy="1063.8" r="4.1"/><circle cx="1061.7" cy="969.7" r="4.1"/><circle cx="1051" cy="991.2" r="4.1"/><circle cx="1073.7" cy="997.2" r="4.1"/><circle cx="1078.9" cy="1044.6" r="4.1"/><circle cx="1059.1" cy="848" r="4.1"/><circle cx="1077.6" cy="1010.4" r="4.1"/><circle cx="1053.4" cy="949.4" r="4.1"/><circle cx="1052.5" cy="973.2" r="4.1"/><circle cx="1055.3" cy="959" r="4.1"/><circle cx="1080.3" cy="1020.6" r="4.1"/><circle cx="1054.1" cy="1056.5" r="4.1"/><circle cx="1057.4" cy="1019.4" r="4.1"/><circle cx="1055.7" cy="967.4" r="4.1"/><circle cx="1069" cy="912.5" r="4.1"/><circle cx="1065.4" cy="1003.2" r="4.1"/><circle cx="1050.2" cy="1056.2" r="4.1"/><circle cx="1031.6" cy="1018.6" r="4.1"/><circle cx="1040.5" cy="1035.5" r="4.1"/><circle cx="1080.7" cy="1029.3" r="4.1"/><circle cx="1082.2" cy="953.3" r="4.1"/><circle cx="1048.5" cy="1009.6" r="4.1"/><circle cx="1049.7" cy="974.7" r="4.1"/><circle cx="1033.5" cy="935.8" r="4.1"/><circle cx="1036.1" cy="1024.2" r="4.1"/><circle cx="1060.3" cy="946.3" r="4.1"/><circle cx="1041.4" cy="1000.1" r="4.1"/><circle cx="1076.1" cy="930.9" r="4.1"/><circle cx="1066.9" cy="1028.7" r="4.1"/><circle cx="1044.9" cy="1064" r="4.1"/><circle cx="1032.8" cy="949.7" r="4.1"/><circle cx="1054.3" cy="1036.4" r="4.1"/><circle cx="1042.9" cy="943.7" r="4.1"/><circle cx="1076.5" cy="1051.1" r="4.1"/><circle cx="1062.1" cy="925.5" r="4.1"/><circle cx="1074.1" cy="910" r="4.1"/><circle cx="1066.9" cy="1010.1" r="4.1"/><circle cx="1072.9" cy="985.9" r="4.1"/><circle cx="1062.5" cy="1043.4" r="4.1"/><circle cx="1045.1" cy="1065.6" r="4.1"/><circle cx="1040.8" cy="1002.5" r="4.1"/><circle cx="1041.6" cy="1050.8" r="4.1"/><circle cx="1074.5" cy="983.2" r="4.1"/><circle cx="1076.6" cy="1027.6" r="4.1"/><circle cx="1051.4" cy="1084.7" r="4.1"/><circle cx="1075.2" cy="931.9" r="4.1"/><circle cx="1078.2" cy="1039.8" r="4.1"/><circle cx="1071.3" cy="904.7" r="4.1"/><circle cx="1054.3" cy="970.3" r="4.1"/><circle cx="1062.6" cy="1051.1" r="4.1"/><circle cx="1044.2" cy="1071.9" r="4.1"/><circle cx="1074.4" cy="1036.8" r="4.1"/><circle cx="1034.4" cy="1038" r="4.1"/><circle cx="1046.9" cy="917.9" r="4.1"/><circle cx="1065.2" cy="1036.1" r="4.1"/><circle cx="1071.2" cy="1019.7" r="4.1"/><circle cx="1080" cy="943" r="4.1"/><circle cx="1051.9" cy="908.4" r="4.1"/><circle cx="1073.1" cy="909.9" r="4.1"/><circle cx="1043.5" cy="892" r="4.1"/><circle cx="1080.4" cy="1059.7" r="4.1"/><circle cx="1076.5" cy="1089.1" r="4.1"/><circle cx="1044.5" cy="929.3" r="4.1"/><circle cx="1032.8" cy="956.2" r="4.1"/><circle cx="1079.4" cy="1039.1" r="4.1"/><circle cx="1051.5" cy="1002.6" r="4.1"/><circle cx="1036.9" cy="989.1" r="4.1"/><circle cx="1059.5" cy="881.5" r="4.1"/><circle cx="1073.7" cy="1014.8" r="4.1"/><circle cx="1034.9" cy="975.4" r="4.1"/><circle cx="1068.6" cy="961.8" r="4.1"/><circle cx="1044" cy="987.1" r="4.1"/><circle cx="1054.6" cy="904.9" r="4.1"/><circle cx="1040" cy="949.6" r="4.1"/><circle cx="1038.4" cy="939.9" r="4.1"/><circle cx="1069.9" cy="1012.9" r="4.1"/><circle cx="1064" cy="1001.5" r="4.1"/><circle cx="1053.5" cy="1034.8" r="4.1"/><circle cx="1074.3" cy="1018.3" r="4.1"/><circle cx="1048.2" cy="935.8" r="4.1"/><circle cx="1082.1" cy="953.4" r="4.1"/><circle cx="1080.8" cy="986.7" r="4.1"/><circle cx="1057.1" cy="924.3" r="4.1"/><circle cx="1045.9" cy="984" r="4.1"/><circle cx="1075" cy="1078.2" r="4.1"/><circle cx="1052.4" cy="875.3" r="4.1"/><circle cx="1040.3" cy="1047.5" r="4.1"/><circle cx="1043.6" cy="904" r="4.1"/><circle cx="1081.5" cy="944.9" r="4.1"/><circle cx="1069.7" cy="967.3" r="4.1"/><circle cx="1051.1" cy="1033.4" r="4.1"/><circle cx="1049.4" cy="958.7" r="4.1"/><circle cx="1062.7" cy="888.2" r="4.1"/><circle cx="1076.8" cy="1001.7" r="4.1"/><circle cx="1066.2" cy="1055.4" r="4.1"/><circle cx="1056.7" cy="934.6" r="4.1"/><circle cx="1069.9" cy="966.6" r="4.1"/><circle cx="1073.3" cy="895.4" r="4.1"/><circle cx="1053.4" cy="1038.3" r="4.1"/><circle cx="1056.5" cy="1028.1" r="4.1"/><circle cx="1037.7" cy="1038.5" r="4.1"/><circle cx="1071.2" cy="995.2" r="4.1"/><circle cx="1040.2" cy="859.5" r="4.1"/><circle cx="1047.9" cy="1068.2" r="4.1"/><circle cx="1039.9" cy="927.9" r="4.1"/><circle cx="1033.6" cy="995.5" r="4.1"/><circle cx="1050.6" cy="984.2" r="4.1"/><circle cx="1082.5" cy="948.3" r="4.1"/><circle cx="1053.6" cy="1022.6" r="4.1"/><circle cx="1057.1" cy="1029.5" r="4.1"/><circle cx="1057.5" cy="1051.5" r="4.1"/><circle cx="1038.8" cy="963.7" r="4.1"/><circle cx="1082" cy="1024.8" r="4.1"/><circle cx="1063.7" cy="1000.1" r="4.1"/><circle cx="1035.6" cy="979.2" r="4.1"/><circle cx="1076.1" cy="1008.9" r="4.1"/><circle cx="1081.8" cy="1075.7" r="4.1"/><circle cx="1065.3" cy="962.9" r="4.1"/><circle cx="1037" cy="897.3" r="4.1"/><circle cx="1063.7" cy="945.4" r="4.1"/><circle cx="1056.1" cy="948.8" r="4.1"/><circle cx="1037.2" cy="1027.2" r="4.1"/><circle cx="1035.4" cy="977.9" r="4.1"/><circle cx="1033.1" cy="1078.9" r="4.1"/><circle cx="1043" cy="932.4" r="4.1"/><circle cx="1036.3" cy="999" r="4.1"/><circle cx="1054.2" cy="893.6" r="4.1"/><circle cx="1051.5" cy="873.3" r="4.1"/><circle cx="1034.8" cy="953" r="4.1"/><circle cx="1065.9" cy="1007.5" r="4.1"/><circle cx="1072.8" cy="983.8" r="4.1"/><circle cx="1035.6" cy="1070.2" r="4.1"/><circle cx="1061.1" cy="893" r="4.1"/><circle cx="1060" cy="1099.6" r="4.1"/><circle cx="1072.8" cy="895.9" r="4.1"/><circle cx="1053.4" cy="920" r="4.1"/><circle cx="1056" cy="1009" r="4.1"/><circle cx="1080.6" cy="982.8" r="4.1"/><circle cx="1039.2" cy="1012.4" r="4.1"/><circle cx="1041.6" cy="912.8" r="4.1"/><circle cx="1080" cy="983.6" r="4.1"/><circle cx="1054.4" cy="995.9" r="4.1"/><circle cx="1062.2" cy="929.7" r="4.1"/><circle cx="1059.7" cy="1056.4" r="4.1"/><circle cx="1081.7" cy="1055.3" r="4.1"/><circle cx="1039.6" cy="982.1" r="4.1"/><circle cx="1072.6" cy="980" r="4.1"/><circle cx="1074.2" cy="964.4" r="4.1"/><circle cx="1040.2" cy="1031.3" r="4.1"/><circle cx="1042.2" cy="1014.6" r="4.1"/><circle cx="1048.4" cy="966" r="4.1"/><circle cx="1035.6" cy="1018.3" r="4.1"/><circle cx="1079.5" cy="946.2" r="4.1"/><circle cx="1031.9" cy="909.3" r="4.1"/><circle cx="1034.9" cy="947.9" r="4.1"/><circle cx="1062.8" cy="1057.3" r="4.1"/><circle cx="1057" cy="965.5" r="4.1"/><circle cx="1035.9" cy="954.2" r="4.1"/><circle cx="1047.7" cy="936" r="4.1"/><circle cx="1071.7" cy="1020.5" r="4.1"/><circle cx="1032.5" cy="1042.1" r="4.1"/><circle cx="1050.9" cy="883.3" r="4.1"/><circle cx="1034.6" cy="928.2" r="4.1"/><circle cx="1057.6" cy="946.9" r="4.1"/><circle cx="1033.5" cy="1017.2" r="4.1"/><circle cx="1057.9" cy="1043.7" r="4.1"/><circle cx="1036.4" cy="1098.3" r="4.1"/><circle cx="1079.7" cy="1057.1" r="4.1"/><circle cx="1076" cy="991.2" r="4.1"/><circle cx="1079.7" cy="934.6" r="4.1"/><circle cx="1040.9" cy="993.4" r="4.1"/><circle cx="1080.6" cy="1059.8" r="4.1"/><circle cx="1031.6" cy="1040.6" r="4.1"/><circle cx="1044.2" cy="1014.9" r="4.1"/><circle cx="1032.4" cy="892.4" r="4.1"/><circle cx="1064.8" cy="1041.3" r="4.1"/><circle cx="1068.7" cy="1032.3" r="4.1"/><circle cx="1042.7" cy="934.2" r="4.1"/><circle cx="1034.7" cy="1063.3" r="4.1"/><circle cx="1062.1" cy="1027.5" r="4.1"/><circle cx="1050.5" cy="929.5" r="4.1"/><circle cx="1045.8" cy="998" r="4.1"/><circle cx="1039.8" cy="1009.6" r="4.1"/><circle cx="1049.9" cy="990.5" r="4.1"/><circle cx="1033.3" cy="1018.7" r="4.1"/><circle cx="1079.2" cy="1023" r="4.1"/><circle cx="1036.1" cy="1098" r="4.1"/><circle cx="1046.8" cy="948.3" r="4.1"/><circle cx="1080.7" cy="1031.7" r="4.1"/><circle cx="1046.2" cy="857.8" r="4.1"/><circle cx="1044.1" cy="1054.9" r="4.1"/></g>
<path d="M1057.1,952.1V819.2M1057.1,1044.2V1115.7" stroke="#000" stroke-width="1.8"/>
<rect x="1008.8" y="952.1" width="95.9" height="92.1" fill="#4DBBD5" fill-opacity="0.67" stroke="#000" stroke-width="1.9"/>
<path d="M1008.8,1013.2H1104.7" stroke="#000" stroke-width="3.4"/>
<path d="M1057.6,759.4 L1057.6,760.2 L1057.6,761.2 L1057.6,762.2 L1057.6,763.4 L1057.6,764.6 L1057.6,766 L1057.6,767.4 L1057.6,768.9 L1057.6,770.5 L1057.6,772.1 L1057.6,773.8 L1057.6,775.5 L1057.6,777.2 L1057.6,779 L1057.5,780.8 L1057.5,782.6 L1057.5,784.5 L1057.5,786.3 L1057.5,788.1 L1057.6,789.9 L1057.6,791.7 L1057.6,793.4 L1057.6,795.1 L1057.6,796.8 L1057.6,798.4 L1057.6,799.9 L1057.6,801.4 L1057.6,802.8 L1057.6,804.1 L1057.7,805.3 L1057.7,806.4 L1057.7,809 L1057.8,811.2 L1057.9,813.1 L1058,814.8 L1058.1,816.2 L1058.2,817.6 L1058.3,818.8 L1058.4,820 L1058.6,821.2 L1058.7,822.4 L1058.9,823.7 L1059,825.2 L1059.1,826.8 L1059.3,828.3 L1059.5,829.9 L1059.6,831.5 L1059.8,833 L1060,834.6 L1060.2,836.2 L1060.4,837.7 L1060.5,839.3 L1060.7,840.9 L1061,842.4 L1061.2,844 L1061.4,845.6 L1061.6,847.1 L1061.8,848.7 L1062,850.3 L1062.3,851.8 L1062.5,853.4 L1062.8,855 L1063,856.5 L1063.2,858.1 L1063.5,859.7 L1063.7,861.2 L1064,862.8 L1064.2,864.4 L1064.5,865.9 L1064.7,867.5 L1065,869.1 L1065.2,870.6 L1065.5,872.2 L1065.7,873.8 L1066,875.3 L1066.2,876.9 L1066.5,878.5 L1066.7,880 L1067,881.6 L1067.2,883.2 L1067.5,884.7 L1067.7,886.3 L1067.9,887.9 L1068.2,889.4 L1068.4,891 L1068.6,892.6 L1068.9,894.1 L1069.1,895.7 L1069.3,897.3 L1069.6,898.8 L1069.8,900.4 L1070.1,902 L1070.3,903.5 L1070.5,905.1 L1070.8,906.7 L1071,908.2 L1071.3,909.8 L1071.6,911.4 L1071.8,912.9 L1072.1,914.5 L1072.3,916.1 L1072.6,917.6 L1072.9,919.2 L1073.2,920.8 L1073.5,922.3 L1073.8,923.9 L1074.1,925.5 L1074.4,927 L1074.7,928.6 L1075,930.2 L1075.4,931.7 L1075.7,933.3 L1076,934.9 L1076.3,936.4 L1076.7,938 L1077,939.6 L1077.3,941.1 L1077.7,942.7 L1078,944.3 L1078.3,945.8 L1078.7,947.4 L1079,949 L1079.4,950.5 L1079.7,952.1 L1080.1,953.7 L1080.4,955.2 L1080.8,956.8 L1081.2,958.4 L1081.5,959.9 L1081.9,961.5 L1082.2,963.1 L1082.6,964.6 L1083,966.2 L1083.3,967.8 L1083.7,969.3 L1084.1,970.9 L1084.5,972.5 L1084.9,974 L1085.3,975.6 L1085.7,977.2 L1086.2,978.7 L1086.7,980.3 L1087.1,981.9 L1087.6,983.4 L1088.1,985 L1088.6,986.6 L1089.1,988.1 L1089.6,989.7 L1090.1,991.3 L1090.5,992.8 L1091,994.4 L1091.4,996 L1091.8,997.6 L1092.3,999.3 L1092.7,1001 L1093.1,1002.7 L1093.5,1004.4 L1093.9,1006 L1094.3,1007.6 L1094.7,1009.2 L1095,1010.6 L1095.4,1012 L1095.7,1013.2 L1096.1,1015.3 L1096.5,1017 L1096.8,1018.5 L1097.1,1019.8 L1097.3,1021.1 L1097.5,1022.6 L1097.8,1024.2 L1098,1025.7 L1098.2,1027.3 L1098.3,1028.9 L1098.4,1030.4 L1098.5,1032 L1098.5,1033.6 L1098.4,1035.1 L1098.3,1036.7 L1098.1,1038.3 L1097.9,1039.8 L1097.5,1041.4 L1097.1,1042.9 L1096.7,1044.2 L1096.2,1045.5 L1095.6,1047 L1094.8,1048.7 L1093.8,1050.8 L1093.1,1052 L1092.5,1053.4 L1091.7,1054.8 L1090.9,1056.4 L1090,1058 L1089.1,1059.6 L1088.2,1061.3 L1087.3,1063 L1086.3,1064.7 L1085.3,1066.4 L1084.4,1068 L1083.4,1069.6 L1082.5,1071.2 L1081.5,1072.8 L1080.5,1074.4 L1079.4,1076 L1078.4,1077.6 L1077.3,1079.2 L1076.3,1080.8 L1075.2,1082.4 L1074.2,1084 L1073.2,1085.5 L1072.2,1087 L1071.2,1088.4 L1070.1,1090.1 L1068.9,1091.7 L1067.7,1093.3 L1066.6,1094.8 L1065.5,1096.3 L1064.4,1097.8 L1063.4,1099.3 L1062.4,1100.7 L1061.6,1102.1 L1060.9,1103.4 L1060.1,1105.2 L1059.5,1107 L1059.1,1108.8 L1058.7,1110.5 L1058.5,1112.1 L1058.2,1113.5 L1058,1114.7 L1057.9,1115.7 L1056.4,1115.7 L1056.2,1114.7 L1056,1113.5 L1055.8,1112.1 L1055.5,1110.5 L1055.2,1108.8 L1054.7,1107 L1054.1,1105.2 L1053.4,1103.4 L1052.6,1102.1 L1051.8,1100.7 L1050.8,1099.3 L1049.8,1097.8 L1048.8,1096.3 L1047.6,1094.8 L1046.5,1093.3 L1045.3,1091.7 L1044.2,1090.1 L1043,1088.4 L1042.1,1087 L1041.1,1085.5 L1040,1084 L1039,1082.4 L1038,1080.8 L1036.9,1079.2 L1035.8,1077.6 L1034.8,1076 L1033.8,1074.4 L1032.7,1072.8 L1031.8,1071.2 L1030.8,1069.6 L1029.8,1068 L1028.9,1066.4 L1027.9,1064.7 L1027,1063 L1026,1061.3 L1025.1,1059.6 L1024.2,1058 L1023.3,1056.4 L1022.5,1054.8 L1021.8,1053.4 L1021.1,1052 L1020.5,1050.8 L1019.4,1048.7 L1018.6,1047 L1018,1045.5 L1017.5,1044.2 L1017.1,1042.9 L1016.7,1041.4 L1016.4,1039.8 L1016.1,1038.3 L1015.9,1036.7 L1015.8,1035.1 L1015.8,1033.6 L1015.8,1032 L1015.8,1030.4 L1015.9,1028.9 L1016,1027.3 L1016.2,1025.7 L1016.5,1024.2 L1016.7,1022.6 L1016.9,1021.1 L1017.1,1019.8 L1017.4,1018.5 L1017.7,1017 L1018.1,1015.3 L1018.6,1013.2 L1018.9,1012 L1019.2,1010.6 L1019.5,1009.2 L1019.9,1007.6 L1020.3,1006 L1020.7,1004.4 L1021.1,1002.7 L1021.5,1001 L1022,999.3 L1022.4,997.6 L1022.8,996 L1023.3,994.4 L1023.7,992.8 L1024.2,991.3 L1024.6,989.7 L1025.1,988.1 L1025.6,986.6 L1026.1,985 L1026.6,983.4 L1027.1,981.9 L1027.6,980.3 L1028,978.7 L1028.5,977.2 L1028.9,975.6 L1029.3,974 L1029.7,972.5 L1030.1,970.9 L1030.5,969.3 L1030.9,967.8 L1031.3,966.2 L1031.6,964.6 L1032,963.1 L1032.4,961.5 L1032.7,959.9 L1033.1,958.4 L1033.4,956.8 L1033.8,955.2 L1034.1,953.7 L1034.5,952.1 L1034.8,950.5 L1035.2,949 L1035.5,947.4 L1035.9,945.8 L1036.2,944.3 L1036.6,942.7 L1036.9,941.1 L1037.2,939.6 L1037.6,938 L1037.9,936.4 L1038.2,934.9 L1038.5,933.3 L1038.9,931.7 L1039.2,930.2 L1039.5,928.6 L1039.8,927 L1040.1,925.5 L1040.4,923.9 L1040.7,922.3 L1041,920.8 L1041.3,919.2 L1041.6,917.6 L1041.9,916.1 L1042.1,914.5 L1042.4,912.9 L1042.7,911.4 L1042.9,909.8 L1043.2,908.2 L1043.4,906.7 L1043.7,905.1 L1043.9,903.5 L1044.2,902 L1044.4,900.4 L1044.7,898.8 L1044.9,897.3 L1045.1,895.7 L1045.4,894.1 L1045.6,892.6 L1045.8,891 L1046.1,889.4 L1046.3,887.9 L1046.5,886.3 L1046.8,884.7 L1047,883.2 L1047.2,881.6 L1047.5,880 L1047.7,878.5 L1048,876.9 L1048.2,875.3 L1048.5,873.8 L1048.7,872.2 L1049,870.6 L1049.3,869.1 L1049.5,867.5 L1049.8,865.9 L1050,864.4 L1050.3,862.8 L1050.5,861.2 L1050.7,859.7 L1051,858.1 L1051.2,856.5 L1051.5,855 L1051.7,853.4 L1052,851.8 L1052.2,850.3 L1052.4,848.7 L1052.6,847.1 L1052.9,845.6 L1053.1,844 L1053.3,842.4 L1053.5,840.9 L1053.7,839.3 L1053.9,837.7 L1054.1,836.2 L1054.2,834.6 L1054.4,833 L1054.6,831.5 L1054.8,829.9 L1054.9,828.3 L1055.1,826.8 L1055.2,825.2 L1055.4,823.7 L1055.5,822.4 L1055.7,821.2 L1055.8,820 L1055.9,818.8 L1056,817.6 L1056.1,816.2 L1056.2,814.8 L1056.3,813.1 L1056.4,811.2 L1056.5,809 L1056.5,806.4 L1056.6,805.3 L1056.6,804.1 L1056.6,802.8 L1056.6,801.4 L1056.6,799.9 L1056.6,798.4 L1056.7,796.8 L1056.7,795.1 L1056.7,793.4 L1056.7,791.7 L1056.7,789.9 L1056.7,788.1 L1056.7,786.3 L1056.7,784.5 L1056.7,782.6 L1056.7,780.8 L1056.7,779 L1056.7,777.2 L1056.7,775.5 L1056.7,773.8 L1056.7,772.1 L1056.7,770.5 L1056.7,768.9 L1056.7,767.4 L1056.7,766 L1056.6,764.6 L1056.6,763.4 L1056.6,762.2 L1056.6,761.2 L1056.6,760.2 L1056.6,759.4Z" fill="#4DBBD5" fill-opacity="0.5"/>
<rect x="855.3" y="713.6" width="275.8" height="465.8" fill="none" stroke="#2b2b2b" stroke-width="3.4"/>
<path d="M849.6,749.9H854.6M849.6,843.7H854.6M849.6,937.8H854.6M849.6,1031.6H854.6M849.6,1125.1H854.6" stroke="#333" stroke-width="1.3"/>
<g font-size="17" text-anchor="end" fill="#111" stroke="#111" stroke-width="0.4"><text x="846.6" y="756.5">3</text><text x="846.6" y="850.3">2</text><text x="846.6" y="944.4">1</text><text x="846.6" y="1038.2">0</text><text x="846.6" y="1131.7">−1</text></g>
<text x="887.6" y="745.1" font-size="23.3" textLength="210.2" lengthAdjust="spacingAndGlyphs" fill="#000" stroke="#000" stroke-width="0.45">Wilcoxon, p = 7.5e−08</text>
<text transform="translate(930.1,1189.1) rotate(-50)" y="14.3" font-size="21.5" text-anchor="end" fill="#000" stroke="#000" stroke-width="0.45">Codel</text>
<text transform="translate(1057.6,1189.1) rotate(-50)" y="14.3" font-size="21.5" text-anchor="end" fill="#000" stroke="#000" stroke-width="0.45">Non_codel</text>
<text x="993.2" y="1299" font-weight="bold" font-size="24.0" fill="#8B0000" stroke="#8B0000" stroke-width="0.35" text-anchor="middle" lengthAdjust="spacingAndGlyphs" textLength="115.8">Chr_1p19q</text>
<text transform="translate(818.1,946.5) rotate(-90)" font-weight="bold" font-size="22.6" fill="#8B0000" stroke="#8B0000" stroke-width="0.35" text-anchor="middle" lengthAdjust="spacingAndGlyphs" textLength="324">MAP2K3 Expression (z−score)</text>
<text x="993.2" y="698.2" font-weight="bold" font-size="24.0" fill="#8B0000" stroke="#8B0000" stroke-width="0.35" text-anchor="middle" lengthAdjust="spacingAndGlyphs" textLength="117">CGGA_693</text>
<text x="799.2" y="681.8" font-weight="bold" font-size="29.2" text-anchor="middle" fill="#000" stroke="#000" stroke-width="0.4" textLength="21.1" lengthAdjust="spacingAndGlyphs">G</text>
<rect x="1249.9" y="716.9" width="269.5" height="459.7" fill="#F1F4F5"/>
<path d="M1244.9,791.1H1524.4M1244.9,877.2H1524.4M1244.9,963H1524.4M1244.9,1049.4H1524.4M1244.9,1135.2H1524.4M1321.7,1181.6V711.9M1448.7,1181.6V711.9" stroke="#C8CACB" stroke-width="1.2" stroke-dasharray="6.45 6.45" fill="none"/>
<g fill="#E64B35"><circle cx="1339" cy="805.7" r="4.1"/><circle cx="1317.2" cy="826.2" r="4.1"/><circle cx="1295.9" cy="839.4" r="4.1"/><circle cx="1297.2" cy="858" r="4.1"/><circle cx="1319" cy="1159.7" r="4.1"/><circle cx="1341.6" cy="1128.3" r="4.1"/><circle cx="1300.4" cy="1097.2" r="4.1"/><circle cx="1342.3" cy="957.9" r="4.1"/><circle cx="1331.7" cy="1027.5" r="4.1"/><circle cx="1325.3" cy="1119.7" r="4.1"/><circle cx="1298.2" cy="882.1" r="4.1"/><circle cx="1312.6" cy="1115.9" r="4.1"/><circle cx="1331.8" cy="1007" r="4.1"/><circle cx="1311.8" cy="1060.8" r="4.1"/><circle cx="1304.3" cy="984.8" r="4.1"/><circle cx="1347" cy="1111.1" r="4.1"/><circle cx="1313.4" cy="1129.3" r="4.1"/><circle cx="1332.2" cy="1091.6" r="4.1"/><circle cx="1312.1" cy="903.9" r="4.1"/><circle cx="1311.7" cy="886.7" r="4.1"/><circle cx="1309.4" cy="849.9" r="4.1"/><circle cx="1324.8" cy="1092.2" r="4.1"/><circle cx="1327.3" cy="878" r="4.1"/><circle cx="1344.3" cy="979.5" r="4.1"/><circle cx="1310.2" cy="1027.6" r="4.1"/><circle cx="1332.8" cy="1006.3" r="4.1"/><circle cx="1334.6" cy="956.4" r="4.1"/><circle cx="1309.1" cy="920.3" r="4.1"/><circle cx="1314" cy="1040.9" r="4.1"/><circle cx="1341.8" cy="1048.1" r="4.1"/><circle cx="1334.6" cy="1042" r="4.1"/><circle cx="1341.6" cy="852.2" r="4.1"/><circle cx="1330.1" cy="923.3" r="4.1"/><circle cx="1316.3" cy="950.5" r="4.1"/><circle cx="1306.6" cy="1051" r="4.1"/><circle cx="1301.1" cy="864.6" r="4.1"/><circle cx="1312.7" cy="901.2" r="4.1"/><circle cx="1332.9" cy="1031.3" r="4.1"/><circle cx="1307.7" cy="1060.9" r="4.1"/><circle cx="1338.8" cy="1079.9" r="4.1"/><circle cx="1343" cy="1067.3" r="4.1"/><circle cx="1320.3" cy="1060" r="4.1"/><circle cx="1330.4" cy="998.8" r="4.1"/><circle cx="1337.7" cy="983" r="4.1"/><circle cx="1301.8" cy="1016.7" r="4.1"/><circle cx="1331.2" cy="1029.7" r="4.1"/><circle cx="1335.6" cy="1089.9" r="4.1"/><circle cx="1324.8" cy="1048.9" r="4.1"/><circle cx="1328.6" cy="1016" r="4.1"/><circle cx="1302.4" cy="949.7" r="4.1"/><circle cx="1305.5" cy="1070.9" r="4.1"/><circle cx="1319.6" cy="1029.7" r="4.1"/><circle cx="1296.9" cy="1065.1" r="4.1"/><circle cx="1338.3" cy="1027.3" r="4.1"/><circle cx="1309.8" cy="1055.1" r="4.1"/><circle cx="1336.3" cy="874.6" r="4.1"/><circle cx="1345" cy="989.3" r="4.1"/><circle cx="1303.1" cy="946.1" r="4.1"/><circle cx="1345.2" cy="1011" r="4.1"/><circle cx="1311" cy="1046.4" r="4.1"/><circle cx="1309.6" cy="1033.5" r="4.1"/><circle cx="1335.5" cy="1049" r="4.1"/><circle cx="1300.6" cy="963.4" r="4.1"/><circle cx="1330.8" cy="961.4" r="4.1"/><circle cx="1310.2" cy="981.9" r="4.1"/><circle cx="1327.1" cy="1097.8" r="4.1"/><circle cx="1321" cy="936" r="4.1"/><circle cx="1321.7" cy="1035.5" r="4.1"/><circle cx="1298.7" cy="969.4" r="4.1"/><circle cx="1309" cy="988.7" r="4.1"/><circle cx="1343.4" cy="1011.2" r="4.1"/><circle cx="1319.7" cy="971.5" r="4.1"/><circle cx="1320.1" cy="1011.1" r="4.1"/><circle cx="1344.4" cy="1027.5" r="4.1"/><circle cx="1314.4" cy="953" r="4.1"/><circle cx="1311.8" cy="956.7" r="4.1"/><circle cx="1299.3" cy="985.7" r="4.1"/><circle cx="1327.3" cy="989.9" r="4.1"/><circle cx="1313.2" cy="1040" r="4.1"/><circle cx="1328.2" cy="980.1" r="4.1"/><circle cx="1305.3" cy="999" r="4.1"/><circle cx="1318" cy="981.3" r="4.1"/><circle cx="1321.4" cy="963.2" r="4.1"/><circle cx="1336.1" cy="1021.2" r="4.1"/><circle cx="1335.2" cy="930.8" r="4.1"/><circle cx="1331.9" cy="1075.9" r="4.1"/><circle cx="1332.3" cy="914.4" r="4.1"/><circle cx="1316.9" cy="947.1" r="4.1"/><circle cx="1305.7" cy="1001.3" r="4.1"/><circle cx="1317.3" cy="915.6" r="4.1"/><circle cx="1297.6" cy="857.2" r="4.1"/><circle cx="1344.6" cy="1057.8" r="4.1"/><circle cx="1344.6" cy="905.9" r="4.1"/><circle cx="1327" cy="951.5" r="4.1"/><circle cx="1338.5" cy="1062.8" r="4.1"/><circle cx="1315.3" cy="971.4" r="4.1"/><circle cx="1328.1" cy="1044.1" r="4.1"/><circle cx="1335.4" cy="882.6" r="4.1"/><circle cx="1334" cy="1042.1" r="4.1"/><circle cx="1310.1" cy="1010.8" r="4.1"/><circle cx="1342.9" cy="1065.3" r="4.1"/><circle cx="1326.5" cy="1013.1" r="4.1"/><circle cx="1311.2" cy="1052.8" r="4.1"/><circle cx="1313.2" cy="942.9" r="4.1"/><circle cx="1343.3" cy="1026.1" r="4.1"/><circle cx="1322.8" cy="1011.5" r="4.1"/><circle cx="1318.8" cy="961.9" r="4.1"/><circle cx="1332.9" cy="991.4" r="4.1"/><circle cx="1320.6" cy="1053.4" r="4.1"/><circle cx="1312.3" cy="894.5" r="4.1"/><circle cx="1330.6" cy="855" r="4.1"/></g>
<path d="M1321.7,946.9V826.5M1321.7,1035V1158.5" stroke="#000" stroke-width="1.8"/>
<rect x="1273.7" y="946.9" width="95.6" height="88.1" fill="#E64B35" fill-opacity="0.67" stroke="#000" stroke-width="1.9"/>
<path d="M1273.7,991.1H1369.3" stroke="#000" stroke-width="3.4"/>
<path d="M1325.8,805.9 L1325.9,806.8 L1326,808 L1326.1,809.3 L1326.2,810.9 L1326.4,812.7 L1326.6,814.5 L1326.9,816.4 L1327.3,818.3 L1327.6,819.6 L1327.9,821 L1328.3,822.5 L1328.8,824 L1329.2,825.5 L1329.7,827.1 L1330.2,828.7 L1330.7,830.3 L1331.2,831.9 L1331.7,833.5 L1332.2,835 L1332.7,836.6 L1333.1,838.1 L1333.6,839.6 L1334.1,841.2 L1334.6,842.7 L1335.1,844.2 L1335.6,845.7 L1336.1,847.3 L1336.6,848.8 L1337.1,850.3 L1337.5,851.8 L1338,853.4 L1338.5,854.9 L1339,856.4 L1339.5,857.9 L1340,859.4 L1340.5,861 L1341,862.5 L1341.5,864 L1342,865.5 L1342.4,867.1 L1342.9,868.6 L1343.3,870.1 L1343.7,871.6 L1344.1,873.2 L1344.4,874.7 L1344.8,876.2 L1345.1,877.7 L1345.3,879.3 L1345.6,880.8 L1345.9,882.3 L1346.1,883.8 L1346.3,885.4 L1346.5,886.9 L1346.7,888.4 L1346.9,889.9 L1347.1,891.5 L1347.3,893 L1347.4,894.5 L1347.5,896 L1347.6,897.6 L1347.7,899.1 L1347.8,900.6 L1347.9,902.1 L1348,903.7 L1348.1,905.2 L1348.2,906.7 L1348.4,908.2 L1348.6,909.7 L1348.8,911.3 L1349,912.8 L1349.2,914.3 L1349.4,915.8 L1349.7,917.4 L1349.9,918.9 L1350.2,920.4 L1350.5,921.9 L1350.8,923.5 L1351.1,925 L1351.5,926.5 L1351.9,928 L1352.3,929.6 L1352.7,931.1 L1353.2,932.6 L1353.6,934.1 L1354.1,935.7 L1354.6,937.2 L1355.2,938.7 L1355.7,940.2 L1356.3,941.8 L1356.8,943.3 L1357.4,944.8 L1358,946.3 L1358.6,947.9 L1359.2,949.4 L1359.9,950.9 L1360.6,952.4 L1361.3,954 L1362,955.5 L1362.7,957 L1363.4,958.5 L1364.1,960.1 L1364.7,961.6 L1365.4,963.1 L1366,964.6 L1366.7,966.1 L1367.3,967.7 L1367.9,969.2 L1368.5,970.7 L1369.1,972.2 L1369.7,973.8 L1370.3,975.3 L1370.8,976.8 L1371.4,978.3 L1371.9,979.9 L1372.4,981.4 L1372.9,982.9 L1373.4,984.4 L1373.8,986 L1374.2,987.5 L1374.7,989 L1375.1,990.5 L1375.4,992.1 L1375.8,993.6 L1376.1,995.1 L1376.5,996.6 L1376.8,998.2 L1377,999.7 L1377.3,1001.2 L1377.5,1002.7 L1377.7,1004.3 L1377.9,1005.8 L1378.1,1007.3 L1378.2,1008.8 L1378.3,1010.4 L1378.4,1011.9 L1378.5,1013.4 L1378.5,1014.9 L1378.6,1016.5 L1378.6,1018 L1378.6,1019.5 L1378.5,1021 L1378.5,1022.5 L1378.5,1024.1 L1378.4,1025.6 L1378.3,1027.1 L1378.2,1028.6 L1378.1,1030.2 L1377.9,1031.7 L1377.7,1033.2 L1377.5,1034.7 L1377.3,1036.3 L1377,1037.8 L1376.7,1039.3 L1376.4,1040.8 L1376.1,1042.4 L1375.7,1043.9 L1375.4,1045.4 L1375,1046.9 L1374.5,1048.5 L1374.1,1050 L1373.6,1051.5 L1373.1,1053 L1372.6,1054.6 L1372,1056.1 L1371.4,1057.6 L1370.7,1059.1 L1370,1060.7 L1369.3,1062.2 L1368.6,1063.7 L1367.8,1065.2 L1367,1066.8 L1366.2,1068.3 L1365.3,1069.8 L1364.5,1071.3 L1363.7,1072.8 L1362.8,1074.4 L1362,1075.9 L1361.1,1077.4 L1360.2,1078.9 L1359.3,1080.5 L1358.4,1082 L1357.5,1083.5 L1356.5,1085 L1355.6,1086.6 L1354.6,1088.1 L1353.7,1089.6 L1352.8,1091.1 L1351.9,1092.7 L1350.9,1094.2 L1350,1095.7 L1349.1,1097.2 L1348.1,1098.8 L1347.2,1100.3 L1346.2,1101.8 L1345.3,1103.3 L1344.3,1104.9 L1343.4,1106.4 L1342.6,1107.9 L1341.7,1109.4 L1340.9,1111 L1340.1,1112.5 L1339.3,1114 L1338.6,1115.5 L1337.8,1117.1 L1337.1,1118.6 L1336.4,1120.1 L1335.7,1121.6 L1335.1,1123.2 L1334.4,1124.7 L1333.8,1126.2 L1333.2,1127.7 L1332.7,1129.2 L1332.1,1130.8 L1331.6,1132.4 L1331.1,1134 L1330.7,1135.6 L1330.2,1137.2 L1329.8,1138.8 L1329.4,1140.4 L1329,1141.9 L1328.6,1143.4 L1328.3,1144.9 L1328,1146.2 L1327.6,1147.5 L1327.1,1149.7 L1326.6,1151.8 L1326.1,1153.7 L1325.7,1155.5 L1325.4,1157.1 L1325.1,1158.4 L1324.9,1159.4 L1318.5,1159.4 L1318.3,1158.4 L1318,1157.1 L1317.6,1155.5 L1317.2,1153.7 L1316.8,1151.8 L1316.3,1149.7 L1315.7,1147.5 L1315.4,1146.2 L1315.1,1144.9 L1314.7,1143.4 L1314.3,1141.9 L1314,1140.4 L1313.6,1138.8 L1313.1,1137.2 L1312.7,1135.6 L1312.2,1134 L1311.8,1132.4 L1311.2,1130.8 L1310.7,1129.2 L1310.1,1127.7 L1309.6,1126.2 L1308.9,1124.7 L1308.3,1123.2 L1307.6,1121.6 L1307,1120.1 L1306.3,1118.6 L1305.5,1117.1 L1304.8,1115.5 L1304,1114 L1303.3,1112.5 L1302.5,1111 L1301.7,1109.4 L1300.8,1107.9 L1299.9,1106.4 L1299,1104.9 L1298.1,1103.3 L1297.2,1101.8 L1296.2,1100.3 L1295.3,1098.8 L1294.3,1097.2 L1293.4,1095.7 L1292.4,1094.2 L1291.5,1092.7 L1290.6,1091.1 L1289.7,1089.6 L1288.7,1088.1 L1287.8,1086.6 L1286.8,1085 L1285.9,1083.5 L1285,1082 L1284,1080.5 L1283.1,1078.9 L1282.2,1077.4 L1281.4,1075.9 L1280.5,1074.4 L1279.7,1072.8 L1278.8,1071.3 L1278,1069.8 L1277.2,1068.3 L1276.4,1066.8 L1275.6,1065.2 L1274.8,1063.7 L1274.1,1062.2 L1273.3,1060.7 L1272.6,1059.1 L1272,1057.6 L1271.4,1056.1 L1270.8,1054.6 L1270.3,1053 L1269.8,1051.5 L1269.3,1050 L1268.8,1048.5 L1268.4,1046.9 L1268,1045.4 L1267.6,1043.9 L1267.3,1042.4 L1266.9,1040.8 L1266.6,1039.3 L1266.4,1037.8 L1266.1,1036.3 L1265.9,1034.7 L1265.7,1033.2 L1265.5,1031.7 L1265.3,1030.2 L1265.2,1028.6 L1265.1,1027.1 L1265,1025.6 L1264.9,1024.1 L1264.9,1022.5 L1264.8,1021 L1264.8,1019.5 L1264.8,1018 L1264.8,1016.5 L1264.8,1014.9 L1264.9,1013.4 L1265,1011.9 L1265.1,1010.4 L1265.2,1008.8 L1265.3,1007.3 L1265.5,1005.8 L1265.6,1004.3 L1265.9,1002.7 L1266.1,1001.2 L1266.3,999.7 L1266.6,998.2 L1266.9,996.6 L1267.2,995.1 L1267.6,993.6 L1267.9,992.1 L1268.3,990.5 L1268.7,989 L1269.1,987.5 L1269.6,986 L1270,984.4 L1270.5,982.9 L1270.9,981.4 L1271.5,979.9 L1272,978.3 L1272.5,976.8 L1273.1,975.3 L1273.7,973.8 L1274.3,972.2 L1274.9,970.7 L1275.5,969.2 L1276.1,967.7 L1276.7,966.1 L1277.3,964.6 L1278,963.1 L1278.6,961.6 L1279.3,960.1 L1280,958.5 L1280.7,957 L1281.4,955.5 L1282.1,954 L1282.8,952.4 L1283.5,950.9 L1284.1,949.4 L1284.8,947.9 L1285.4,946.3 L1286,944.8 L1286.5,943.3 L1287.1,941.8 L1287.7,940.2 L1288.2,938.7 L1288.7,937.2 L1289.2,935.7 L1289.7,934.1 L1290.2,932.6 L1290.7,931.1 L1291.1,929.6 L1291.5,928 L1291.9,926.5 L1292.2,925 L1292.6,923.5 L1292.9,921.9 L1293.2,920.4 L1293.4,918.9 L1293.7,917.4 L1293.9,915.8 L1294.2,914.3 L1294.4,912.8 L1294.6,911.3 L1294.8,909.7 L1295,908.2 L1295.1,906.7 L1295.3,905.2 L1295.4,903.7 L1295.5,902.1 L1295.5,900.6 L1295.6,899.1 L1295.7,897.6 L1295.8,896 L1295.9,894.5 L1296.1,893 L1296.3,891.5 L1296.4,889.9 L1296.6,888.4 L1296.8,886.9 L1297.1,885.4 L1297.3,883.8 L1297.5,882.3 L1297.8,880.8 L1298,879.3 L1298.3,877.7 L1298.6,876.2 L1298.9,874.7 L1299.3,873.2 L1299.6,871.6 L1300.1,870.1 L1300.5,868.6 L1300.9,867.1 L1301.4,865.5 L1301.9,864 L1302.4,862.5 L1302.9,861 L1303.4,859.4 L1303.9,857.9 L1304.4,856.4 L1304.9,854.9 L1305.3,853.4 L1305.8,851.8 L1306.3,850.3 L1306.8,848.8 L1307.3,847.3 L1307.8,845.7 L1308.3,844.2 L1308.8,842.7 L1309.3,841.2 L1309.8,839.6 L1310.2,838.1 L1310.7,836.6 L1311.2,835 L1311.7,833.5 L1312.2,831.9 L1312.7,830.3 L1313.2,828.7 L1313.7,827.1 L1314.2,825.5 L1314.6,824 L1315,822.5 L1315.4,821 L1315.8,819.6 L1316.1,818.3 L1316.5,816.4 L1316.8,814.5 L1317,812.7 L1317.2,810.9 L1317.3,809.3 L1317.4,808 L1317.5,806.8 L1317.6,805.9Z" fill="#E64B35" fill-opacity="0.5"/>
<g fill="#4DBBD5"><circle cx="1423.5" cy="753.9" r="4.1"/><circle cx="1428" cy="753.9" r="4.1"/><circle cx="1471" cy="753.9" r="4.1"/><circle cx="1460.1" cy="758.4" r="4.1"/><circle cx="1450.6" cy="795.1" r="4.1"/><circle cx="1453.8" cy="814.2" r="4.1"/><circle cx="1435.4" cy="820.3" r="4.1"/><circle cx="1444.7" cy="1138.9" r="4.1"/><circle cx="1438.1" cy="1109.7" r="4.1"/><circle cx="1472.4" cy="884.1" r="4.1"/><circle cx="1438" cy="1008.3" r="4.1"/><circle cx="1467" cy="887.1" r="4.1"/><circle cx="1470.2" cy="1002.5" r="4.1"/><circle cx="1432.9" cy="1035.9" r="4.1"/><circle cx="1469.9" cy="918.8" r="4.1"/><circle cx="1428" cy="889" r="4.1"/><circle cx="1433.7" cy="977.4" r="4.1"/><circle cx="1453.7" cy="897.1" r="4.1"/><circle cx="1464.6" cy="938.9" r="4.1"/><circle cx="1456.6" cy="923.8" r="4.1"/><circle cx="1446.8" cy="870.1" r="4.1"/><circle cx="1456.9" cy="1029.6" r="4.1"/><circle cx="1434.9" cy="1056.7" r="4.1"/><circle cx="1450.9" cy="867.5" r="4.1"/><circle cx="1425.7" cy="928.7" r="4.1"/><circle cx="1424.6" cy="813" r="4.1"/><circle cx="1440.7" cy="925.4" r="4.1"/><circle cx="1461.7" cy="877.1" r="4.1"/><circle cx="1439.6" cy="901.1" r="4.1"/><circle cx="1435" cy="917" r="4.1"/><circle cx="1469.1" cy="1038.8" r="4.1"/><circle cx="1446" cy="927.7" r="4.1"/><circle cx="1472" cy="926.9" r="4.1"/><circle cx="1440.3" cy="951.9" r="4.1"/><circle cx="1464.1" cy="1009.5" r="4.1"/><circle cx="1462.5" cy="971.2" r="4.1"/><circle cx="1454.7" cy="892.2" r="4.1"/><circle cx="1449" cy="987.5" r="4.1"/><circle cx="1465.4" cy="902.1" r="4.1"/><circle cx="1461.9" cy="928.3" r="4.1"/><circle cx="1429.5" cy="972.5" r="4.1"/><circle cx="1462.4" cy="945.5" r="4.1"/><circle cx="1425.2" cy="925.4" r="4.1"/><circle cx="1460" cy="989.2" r="4.1"/><circle cx="1438" cy="889.1" r="4.1"/><circle cx="1435.2" cy="909.2" r="4.1"/><circle cx="1444" cy="1020.2" r="4.1"/><circle cx="1450.7" cy="1036.5" r="4.1"/><circle cx="1446.1" cy="860.4" r="4.1"/><circle cx="1433.6" cy="904.5" r="4.1"/><circle cx="1441.1" cy="1013.7" r="4.1"/><circle cx="1453.9" cy="1009.6" r="4.1"/><circle cx="1457.6" cy="937.2" r="4.1"/><circle cx="1424.8" cy="1010.2" r="4.1"/><circle cx="1436.1" cy="925.6" r="4.1"/><circle cx="1449.2" cy="958.7" r="4.1"/><circle cx="1452.3" cy="870" r="4.1"/><circle cx="1466.6" cy="978.7" r="4.1"/></g>
<path d="M1448.7,854.3V754M1448.7,1009.4V1139.2" stroke="#000" stroke-width="1.8"/>
<rect x="1400.6" y="854.3" width="95.7" height="155.1" fill="#4DBBD5" fill-opacity="0.67" stroke="#000" stroke-width="1.9"/>
<path d="M1400.6,937.6H1496.3" stroke="#000" stroke-width="3.4"/>
<path d="M1460.9,754 L1461,754.9 L1461.1,756.1 L1461.2,757.5 L1461.3,759.1 L1461.4,760.9 L1461.5,762.9 L1461.7,765.1 L1461.9,766.3 L1462,767.6 L1462.2,769.1 L1462.3,770.6 L1462.5,772.1 L1462.7,773.7 L1462.9,775.3 L1463.1,777 L1463.3,778.7 L1463.5,780.3 L1463.7,781.9 L1463.9,783.6 L1464.1,785.1 L1464.2,786.7 L1464.4,788.2 L1464.6,789.7 L1464.8,791.3 L1465,792.8 L1465.2,794.4 L1465.4,795.9 L1465.7,797.5 L1465.9,799 L1466.1,800.6 L1466.3,802.1 L1466.5,803.6 L1466.8,805.2 L1467,806.7 L1467.2,808.3 L1467.5,809.8 L1467.7,811.4 L1468,812.9 L1468.2,814.4 L1468.4,816 L1468.7,817.5 L1469,819.1 L1469.2,820.6 L1469.5,822.2 L1469.8,823.7 L1470.1,825.2 L1470.4,826.8 L1470.7,828.3 L1471,829.9 L1471.3,831.4 L1471.6,833 L1471.9,834.5 L1472.3,836 L1472.6,837.6 L1472.9,839.1 L1473.3,840.7 L1473.6,842.2 L1473.9,843.8 L1474.3,845.3 L1474.6,846.8 L1475,848.4 L1475.3,849.9 L1475.7,851.5 L1476,853 L1476.4,854.6 L1476.8,856.1 L1477.1,857.6 L1477.5,859.2 L1477.8,860.7 L1478.2,862.3 L1478.5,863.8 L1478.8,865.4 L1479.1,866.9 L1479.4,868.4 L1479.7,870 L1480,871.5 L1480.3,873.1 L1480.5,874.6 L1480.8,876.2 L1481.1,877.7 L1481.3,879.2 L1481.6,880.8 L1481.8,882.3 L1482.1,883.9 L1482.3,885.4 L1482.5,887 L1482.8,888.5 L1483,890.1 L1483.2,891.6 L1483.4,893.1 L1483.6,894.7 L1483.8,896.2 L1483.9,897.8 L1484.1,899.3 L1484.3,900.9 L1484.5,902.4 L1484.6,903.9 L1484.8,905.5 L1485,907 L1485.1,908.6 L1485.3,910.1 L1485.5,911.7 L1485.6,913.2 L1485.7,914.7 L1485.9,916.3 L1486,917.8 L1486.2,919.4 L1486.3,920.9 L1486.4,922.5 L1486.5,924 L1486.6,925.5 L1486.7,927.1 L1486.8,928.6 L1486.9,930.2 L1487,931.7 L1487,933.3 L1487.1,934.8 L1487.2,936.3 L1487.2,937.9 L1487.3,939.4 L1487.3,941 L1487.4,942.5 L1487.5,944.1 L1487.5,945.6 L1487.6,947.1 L1487.7,948.7 L1487.7,950.2 L1487.8,951.8 L1487.9,953.3 L1488,954.9 L1488,956.4 L1488.1,957.9 L1488.2,959.5 L1488.2,961 L1488.3,962.6 L1488.3,964.1 L1488.3,965.7 L1488.3,967.2 L1488.3,968.7 L1488.3,970.3 L1488.3,971.8 L1488.3,973.4 L1488.3,974.9 L1488.3,976.5 L1488.2,978 L1488.2,979.5 L1488.2,981.1 L1488.1,982.6 L1488.1,984.2 L1488,985.7 L1488,987.3 L1487.9,988.8 L1487.9,990.4 L1487.9,991.9 L1487.8,993.4 L1487.8,995 L1487.7,996.5 L1487.7,998.1 L1487.6,999.6 L1487.5,1001.2 L1487.4,1002.7 L1487.3,1004.2 L1487.1,1005.8 L1487,1007.3 L1486.8,1008.9 L1486.6,1010.4 L1486.4,1012 L1486.1,1013.5 L1485.9,1015 L1485.7,1016.6 L1485.4,1018.1 L1485.1,1019.7 L1484.8,1021.2 L1484.5,1022.8 L1484.2,1024.3 L1483.8,1025.8 L1483.4,1027.4 L1483,1028.9 L1482.6,1030.5 L1482.2,1032 L1481.7,1033.6 L1481.3,1035.1 L1480.8,1036.6 L1480.3,1038.2 L1479.8,1039.7 L1479.3,1041.3 L1478.8,1042.8 L1478.3,1044.4 L1477.8,1045.9 L1477.3,1047.4 L1476.8,1049 L1476.2,1050.5 L1475.7,1052.1 L1475.2,1053.6 L1474.6,1055.2 L1474.1,1056.7 L1473.5,1058.2 L1473,1059.8 L1472.4,1061.3 L1471.9,1062.9 L1471.3,1064.4 L1470.8,1066 L1470.2,1067.5 L1469.7,1069 L1469.1,1070.6 L1468.6,1072.1 L1468,1073.7 L1467.4,1075.2 L1466.9,1076.8 L1466.3,1078.3 L1465.8,1079.9 L1465.3,1081.4 L1464.7,1082.9 L1464.2,1084.5 L1463.8,1086 L1463.3,1087.6 L1462.8,1089.1 L1462.4,1090.7 L1461.9,1092.2 L1461.5,1093.7 L1461.1,1095.3 L1460.7,1096.8 L1460.3,1098.4 L1459.9,1099.9 L1459.5,1101.5 L1459.2,1103 L1458.8,1104.5 L1458.4,1106.1 L1458.1,1107.6 L1457.8,1109.2 L1457.4,1110.9 L1457.1,1112.5 L1456.8,1114.1 L1456.5,1115.7 L1456.2,1117.4 L1455.9,1118.9 L1455.6,1120.5 L1455.4,1122 L1455.1,1123.4 L1454.9,1124.8 L1454.7,1126.1 L1454.5,1128.2 L1454.3,1130.2 L1454.1,1132.1 L1454,1133.9 L1453.9,1135.6 L1453.8,1137 L1453.8,1138.2 L1453.7,1139.2 L1443.7,1139.2 L1443.6,1138.2 L1443.6,1137 L1443.5,1135.6 L1443.4,1133.9 L1443.3,1132.1 L1443.2,1130.2 L1443,1128.2 L1442.7,1126.1 L1442.5,1124.8 L1442.3,1123.4 L1442.1,1122 L1441.8,1120.5 L1441.5,1118.9 L1441.3,1117.4 L1441,1115.7 L1440.6,1114.1 L1440.3,1112.5 L1440,1110.9 L1439.7,1109.2 L1439.3,1107.6 L1439,1106.1 L1438.6,1104.5 L1438.3,1103 L1437.9,1101.5 L1437.5,1099.9 L1437.1,1098.4 L1436.7,1096.8 L1436.3,1095.3 L1435.9,1093.7 L1435.5,1092.2 L1435,1090.7 L1434.6,1089.1 L1434.1,1087.6 L1433.7,1086 L1433.2,1084.5 L1432.7,1082.9 L1432.2,1081.4 L1431.6,1079.9 L1431.1,1078.3 L1430.5,1076.8 L1430,1075.2 L1429.4,1073.7 L1428.9,1072.1 L1428.3,1070.6 L1427.7,1069 L1427.2,1067.5 L1426.6,1066 L1426.1,1064.4 L1425.6,1062.9 L1425,1061.3 L1424.4,1059.8 L1423.9,1058.2 L1423.3,1056.7 L1422.8,1055.2 L1422.2,1053.6 L1421.7,1052.1 L1421.2,1050.5 L1420.6,1049 L1420.1,1047.4 L1419.6,1045.9 L1419.1,1044.4 L1418.6,1042.8 L1418.1,1041.3 L1417.6,1039.7 L1417.1,1038.2 L1416.6,1036.6 L1416.1,1035.1 L1415.7,1033.6 L1415.2,1032 L1414.8,1030.5 L1414.4,1028.9 L1414,1027.4 L1413.6,1025.8 L1413.3,1024.3 L1412.9,1022.8 L1412.6,1021.2 L1412.3,1019.7 L1412,1018.1 L1411.8,1016.6 L1411.5,1015 L1411.3,1013.5 L1411,1012 L1410.8,1010.4 L1410.6,1008.9 L1410.5,1007.3 L1410.3,1005.8 L1410.1,1004.2 L1410,1002.7 L1409.9,1001.2 L1409.8,999.6 L1409.7,998.1 L1409.7,996.5 L1409.6,995 L1409.6,993.4 L1409.5,991.9 L1409.5,990.4 L1409.5,988.8 L1409.4,987.3 L1409.4,985.7 L1409.3,984.2 L1409.3,982.6 L1409.3,981.1 L1409.2,979.5 L1409.2,978 L1409.1,976.5 L1409.1,974.9 L1409.1,973.4 L1409.1,971.8 L1409.1,970.3 L1409.1,968.7 L1409.1,967.2 L1409.1,965.7 L1409.1,964.1 L1409.2,962.6 L1409.2,961 L1409.3,959.5 L1409.3,957.9 L1409.4,956.4 L1409.5,954.9 L1409.5,953.3 L1409.6,951.8 L1409.7,950.2 L1409.8,948.7 L1409.8,947.1 L1409.9,945.6 L1410,944.1 L1410,942.5 L1410.1,941 L1410.1,939.4 L1410.2,937.9 L1410.3,936.3 L1410.3,934.8 L1410.4,933.3 L1410.4,931.7 L1410.5,930.2 L1410.6,928.6 L1410.7,927.1 L1410.8,925.5 L1410.9,924 L1411,922.5 L1411.1,920.9 L1411.3,919.4 L1411.4,917.8 L1411.5,916.3 L1411.7,914.7 L1411.8,913.2 L1412,911.7 L1412.1,910.1 L1412.3,908.6 L1412.4,907 L1412.6,905.5 L1412.8,903.9 L1412.9,902.4 L1413.1,900.9 L1413.3,899.3 L1413.5,897.8 L1413.7,896.2 L1413.8,894.7 L1414,893.1 L1414.2,891.6 L1414.4,890.1 L1414.7,888.5 L1414.9,887 L1415.1,885.4 L1415.3,883.9 L1415.6,882.3 L1415.8,880.8 L1416.1,879.2 L1416.3,877.7 L1416.6,876.2 L1416.9,874.6 L1417.1,873.1 L1417.4,871.5 L1417.7,870 L1418,868.4 L1418.3,866.9 L1418.6,865.4 L1418.9,863.8 L1419.3,862.3 L1419.6,860.7 L1419.9,859.2 L1420.3,857.6 L1420.7,856.1 L1421,854.6 L1421.4,853 L1421.7,851.5 L1422.1,849.9 L1422.4,848.4 L1422.8,846.8 L1423.1,845.3 L1423.5,843.8 L1423.8,842.2 L1424.1,840.7 L1424.5,839.1 L1424.8,837.6 L1425.1,836 L1425.5,834.5 L1425.8,833 L1426.1,831.4 L1426.4,829.9 L1426.7,828.3 L1427.1,826.8 L1427.3,825.2 L1427.6,823.7 L1427.9,822.2 L1428.2,820.6 L1428.4,819.1 L1428.7,817.5 L1429,816 L1429.2,814.4 L1429.5,812.9 L1429.7,811.4 L1430,809.8 L1430.2,808.3 L1430.4,806.7 L1430.7,805.2 L1430.9,803.6 L1431.1,802.1 L1431.3,800.6 L1431.5,799 L1431.8,797.5 L1432,795.9 L1432.2,794.4 L1432.4,792.8 L1432.6,791.3 L1432.8,789.7 L1433,788.2 L1433.2,786.7 L1433.4,785.1 L1433.6,783.6 L1433.8,781.9 L1434,780.3 L1434.2,778.7 L1434.3,777 L1434.5,775.3 L1434.7,773.7 L1434.9,772.1 L1435.1,770.6 L1435.2,769.1 L1435.4,767.6 L1435.5,766.3 L1435.7,765.1 L1435.9,762.9 L1436,760.9 L1436.2,759.1 L1436.3,757.5 L1436.3,756.1 L1436.4,754.9 L1436.5,754Z" fill="#4DBBD5" fill-opacity="0.5"/>
<rect x="1246.6" y="713.6" width="276.1" height="466.3" fill="none" stroke="#2b2b2b" stroke-width="3.4"/>
<path d="M1240.9,791.1H1245.9M1240.9,877.2H1245.9M1240.9,963H1245.9M1240.9,1049.4H1245.9M1240.9,1135.2H1245.9" stroke="#333" stroke-width="1.3"/>
<g font-size="17" text-anchor="end" fill="#111" stroke="#111" stroke-width="0.4"><text x="1237.9" y="797.7">2</text><text x="1237.9" y="883.8">1</text><text x="1237.9" y="969.6">0</text><text x="1237.9" y="1056">−1</text><text x="1237.9" y="1141.8">−2</text></g>
<text x="1281.8" y="743" font-size="23.3" textLength="198" lengthAdjust="spacingAndGlyphs" fill="#000" stroke="#000" stroke-width="0.45">Wilcoxon, p = 0.0012</text>
<text transform="translate(1322.2,1189.6) rotate(-50)" y="14.3" font-size="21.5" text-anchor="end" fill="#000" stroke="#000" stroke-width="0.45">Codel</text>
<text transform="translate(1449.2,1189.6) rotate(-50)" y="14.3" font-size="21.5" text-anchor="end" fill="#000" stroke="#000" stroke-width="0.45">Non_codel</text>
<text x="1384.7" y="1299" font-weight="bold" font-size="24.0" fill="#8B0000" stroke="#8B0000" stroke-width="0.35" text-anchor="middle" lengthAdjust="spacingAndGlyphs" textLength="115.8">Chr_1p19q</text>
<text transform="translate(1210.2,946.8) rotate(-90)" font-weight="bold" font-size="22.6" fill="#8B0000" stroke="#8B0000" stroke-width="0.35" text-anchor="middle" lengthAdjust="spacingAndGlyphs" textLength="324">MAP2K3 Expression (z−score)</text>
<text x="1384.7" y="698.2" font-weight="bold" font-size="24.0" fill="#8B0000" stroke="#8B0000" stroke-width="0.35" text-anchor="middle" lengthAdjust="spacingAndGlyphs" textLength="152.7">E_MTAB_3892</text>
<text x="1204.5" y="685.7" font-weight="bold" font-size="29.2" text-anchor="middle" fill="#000" stroke="#000" stroke-width="0.4" textLength="19.6" lengthAdjust="spacingAndGlyphs">H</text>
<rect x="66.8" y="1385.5" width="275.9" height="469.4" fill="#F1F4F5"/>
<path d="M61.8,1396.1H347.6M61.8,1478.9H347.6M61.8,1561.7H347.6M61.8,1644.1H347.6M61.8,1726.9H347.6M61.8,1809.1H347.6M140.1,1860V1380.5M269.7,1860V1380.5" stroke="#C8CACB" stroke-width="1.2" stroke-dasharray="6.45 6.45" fill="none"/>
<g fill="#E64B35"><circle cx="143.5" cy="1672.5" r="4.1"/><circle cx="139.3" cy="1685.8" r="4.1"/><circle cx="117.5" cy="1698.6" r="4.1"/><circle cx="133.6" cy="1711.9" r="4.1"/><circle cx="137.3" cy="1734.6" r="4.1"/><circle cx="152" cy="1751.6" r="4.1"/><circle cx="165.6" cy="1838.9" r="4.1"/></g>
<path d="M140.1,1692.1V1672.9M140.1,1742.8V1751.2" stroke="#000" stroke-width="1.8"/>
<rect x="90.8" y="1692.1" width="98.4" height="50.7" fill="#E64B35" fill-opacity="0.67" stroke="#000" stroke-width="1.9"/>
<path d="M90.8,1712.1H189.2" stroke="#000" stroke-width="3.4"/>
<path d="M182.8,1672.9 L184.3,1674.3 L186.5,1676.2 L188.6,1678.5 L189.7,1679.8 L190.8,1681.3 L191.8,1682.8 L192.9,1684.4 L193.9,1686 L194.7,1687.6 L195.5,1689.1 L196.2,1690.6 L196.9,1692.1 L197.4,1693.6 L197.8,1695.1 L198.1,1696.6 L198.3,1698.1 L198.3,1699.6 L198.2,1701.1 L198,1702.6 L197.7,1704.1 L197.4,1705.6 L197.1,1707.1 L196.6,1708.6 L196.1,1710.1 L195.5,1711.6 L194.9,1713.1 L194.3,1714.6 L193.6,1716.1 L192.8,1717.6 L192,1719.2 L191.2,1720.7 L190.3,1722.2 L189.5,1723.7 L188.8,1725.2 L188,1726.7 L187.3,1728.2 L186.5,1729.7 L185.8,1731.2 L185,1732.7 L184.3,1734.2 L183.5,1735.7 L182.8,1737.2 L182,1738.7 L181.2,1740.2 L180.3,1741.7 L179.3,1743.2 L178.3,1744.7 L177.2,1746.2 L176,1747.7 L174.9,1749.2 L173.8,1750.7 L172.6,1752.2 L171.5,1753.7 L170.3,1755.3 L169.1,1756.8 L167.9,1758.3 L166.8,1759.8 L165.6,1761.3 L164.4,1762.8 L163.2,1764.3 L162.1,1765.8 L160.9,1767.3 L159.8,1768.8 L158.6,1770.3 L157.5,1771.8 L156.3,1773.3 L155.2,1774.8 L154.2,1776.3 L153.2,1777.8 L152.3,1779.3 L151.5,1780.8 L150.7,1782.3 L149.9,1783.8 L149.3,1785.3 L148.7,1786.8 L148.2,1788.3 L147.8,1789.8 L147.5,1791.4 L147.2,1792.9 L147,1794.4 L146.9,1795.9 L146.9,1797.4 L146.9,1798.9 L147,1800.4 L147.2,1801.9 L147.4,1803.4 L147.7,1804.9 L148.1,1806.4 L148.5,1807.9 L149,1809.4 L149.5,1810.9 L150,1812.4 L150.5,1813.9 L151,1815.4 L151.5,1816.9 L152,1818.4 L152.5,1819.9 L153,1821.4 L153.4,1822.9 L153.8,1824.5 L154.2,1826 L154.5,1827.6 L154.8,1829.1 L155,1830.6 L155.3,1832 L155.6,1834 L155.8,1835.9 L156,1837.6 L156.2,1838.7 L124.1,1838.7 L124.3,1837.6 L124.5,1835.9 L124.7,1834 L125,1832 L125.3,1830.6 L125.5,1829.1 L125.8,1827.6 L126.1,1826 L126.4,1824.5 L126.8,1822.9 L127.2,1821.4 L127.7,1819.9 L128.2,1818.4 L128.7,1816.9 L129.3,1815.4 L129.8,1813.9 L130.3,1812.4 L130.8,1810.9 L131.3,1809.4 L131.8,1807.9 L132.2,1806.4 L132.6,1804.9 L132.8,1803.4 L133.1,1801.9 L133.2,1800.4 L133.4,1798.9 L133.4,1797.4 L133.4,1795.9 L133.2,1794.4 L133.1,1792.9 L132.8,1791.4 L132.5,1789.8 L132,1788.3 L131.6,1786.8 L131,1785.3 L130.3,1783.8 L129.6,1782.3 L128.8,1780.8 L128,1779.3 L127,1777.8 L126.1,1776.3 L125,1774.8 L123.9,1773.3 L122.8,1771.8 L121.6,1770.3 L120.5,1768.8 L119.4,1767.3 L118.2,1765.8 L117,1764.3 L115.9,1762.8 L114.7,1761.3 L113.5,1759.8 L112.3,1758.3 L111.2,1756.8 L110,1755.3 L108.8,1753.7 L107.7,1752.2 L106.5,1750.7 L105.4,1749.2 L104.2,1747.7 L103.1,1746.2 L102,1744.7 L101,1743.2 L100,1741.7 L99.1,1740.2 L98.3,1738.7 L97.5,1737.2 L96.7,1735.7 L96,1734.2 L95.2,1732.7 L94.5,1731.2 L93.7,1729.7 L93,1728.2 L92.2,1726.7 L91.5,1725.2 L90.7,1723.7 L89.9,1722.2 L89.1,1720.7 L88.3,1719.2 L87.5,1717.6 L86.7,1716.1 L86,1714.6 L85.3,1713.1 L84.7,1711.6 L84.2,1710.1 L83.6,1708.6 L83.2,1707.1 L82.8,1705.6 L82.5,1704.1 L82.3,1702.6 L82.1,1701.1 L82,1699.6 L82,1698.1 L82.1,1696.6 L82.4,1695.1 L82.9,1693.6 L83.4,1692.1 L84.1,1690.6 L84.8,1689.1 L85.5,1687.6 L86.4,1686 L87.4,1684.4 L88.4,1682.8 L89.5,1681.3 L90.6,1679.8 L91.6,1678.5 L93.8,1676.2 L96,1674.3 L97.5,1672.9Z" fill="#E64B35" fill-opacity="0.5"/>
<g fill="#4DBBD5"><circle cx="264" cy="1423.6" r="4.1"/><circle cx="275.9" cy="1456.2" r="4.1"/><circle cx="284.1" cy="1461" r="4.1"/><circle cx="245.6" cy="1493.6" r="4.1"/><circle cx="276.8" cy="1820.4" r="4.1"/><circle cx="290.4" cy="1810" r="4.1"/><circle cx="271.9" cy="1804.9" r="4.1"/><circle cx="295.2" cy="1785.9" r="4.1"/><circle cx="285.3" cy="1764.6" r="4.1"/><circle cx="247.6" cy="1775.9" r="4.1"/><circle cx="254.6" cy="1776.5" r="4.1"/><circle cx="256.7" cy="1603.9" r="4.1"/><circle cx="253.3" cy="1778.7" r="4.1"/><circle cx="258.8" cy="1586.4" r="4.1"/><circle cx="260.4" cy="1716.8" r="4.1"/><circle cx="246.8" cy="1622.5" r="4.1"/><circle cx="268.6" cy="1529.8" r="4.1"/><circle cx="257.3" cy="1746.8" r="4.1"/><circle cx="253.1" cy="1525.3" r="4.1"/><circle cx="272.2" cy="1683.9" r="4.1"/><circle cx="271.9" cy="1634.3" r="4.1"/><circle cx="244.2" cy="1572" r="4.1"/><circle cx="266.4" cy="1614.3" r="4.1"/><circle cx="245.4" cy="1663.4" r="4.1"/><circle cx="262.5" cy="1532.5" r="4.1"/><circle cx="245" cy="1769.8" r="4.1"/><circle cx="271.3" cy="1520.6" r="4.1"/><circle cx="277.7" cy="1708.1" r="4.1"/><circle cx="253.1" cy="1750.7" r="4.1"/><circle cx="292.5" cy="1725.2" r="4.1"/><circle cx="294.7" cy="1509.7" r="4.1"/><circle cx="257.5" cy="1779.8" r="4.1"/><circle cx="252.2" cy="1603.6" r="4.1"/><circle cx="265.4" cy="1559.4" r="4.1"/><circle cx="248.3" cy="1721.7" r="4.1"/><circle cx="276.1" cy="1754.1" r="4.1"/><circle cx="267.8" cy="1584.5" r="4.1"/><circle cx="287.6" cy="1583.4" r="4.1"/><circle cx="279.4" cy="1748.2" r="4.1"/><circle cx="272.9" cy="1668.3" r="4.1"/><circle cx="274.1" cy="1499.3" r="4.1"/><circle cx="272.9" cy="1590.6" r="4.1"/><circle cx="250.3" cy="1604.3" r="4.1"/><circle cx="292.2" cy="1582.6" r="4.1"/><circle cx="268.4" cy="1711.2" r="4.1"/><circle cx="247.1" cy="1742" r="4.1"/><circle cx="272.4" cy="1643.9" r="4.1"/><circle cx="266.1" cy="1652.8" r="4.1"/><circle cx="286.1" cy="1672.3" r="4.1"/><circle cx="277.9" cy="1573.3" r="4.1"/><circle cx="257.5" cy="1545.7" r="4.1"/><circle cx="250.9" cy="1629.2" r="4.1"/><circle cx="264.8" cy="1589.6" r="4.1"/><circle cx="284.4" cy="1592.7" r="4.1"/><circle cx="245.5" cy="1699.8" r="4.1"/><circle cx="261.2" cy="1629.6" r="4.1"/><circle cx="280.9" cy="1779.1" r="4.1"/><circle cx="277.5" cy="1570.2" r="4.1"/><circle cx="268.4" cy="1603.5" r="4.1"/><circle cx="292.5" cy="1657.4" r="4.1"/><circle cx="244.6" cy="1666.6" r="4.1"/><circle cx="271.1" cy="1681.5" r="4.1"/><circle cx="286.5" cy="1690.1" r="4.1"/><circle cx="273.1" cy="1667" r="4.1"/><circle cx="251.7" cy="1651.8" r="4.1"/><circle cx="294.6" cy="1551" r="4.1"/><circle cx="282.2" cy="1581.5" r="4.1"/><circle cx="286.8" cy="1565.4" r="4.1"/><circle cx="292.5" cy="1533.1" r="4.1"/><circle cx="282.2" cy="1692.8" r="4.1"/><circle cx="277.2" cy="1597.9" r="4.1"/><circle cx="288.2" cy="1616.4" r="4.1"/><circle cx="257.1" cy="1593.2" r="4.1"/><circle cx="286.5" cy="1607.5" r="4.1"/><circle cx="281" cy="1633.6" r="4.1"/><circle cx="273.8" cy="1639.8" r="4.1"/><circle cx="294.1" cy="1765.2" r="4.1"/><circle cx="294.1" cy="1644.7" r="4.1"/><circle cx="273.2" cy="1551.4" r="4.1"/><circle cx="251.1" cy="1713.7" r="4.1"/><circle cx="256.3" cy="1563.6" r="4.1"/><circle cx="256.4" cy="1700.2" r="4.1"/><circle cx="252.5" cy="1649" r="4.1"/><circle cx="253.4" cy="1685.7" r="4.1"/><circle cx="244.3" cy="1752.7" r="4.1"/><circle cx="285.5" cy="1755.9" r="4.1"/><circle cx="259.5" cy="1673.5" r="4.1"/><circle cx="285.3" cy="1710.5" r="4.1"/><circle cx="286" cy="1606.3" r="4.1"/><circle cx="253.7" cy="1757.6" r="4.1"/><circle cx="290.1" cy="1676.6" r="4.1"/><circle cx="285.5" cy="1563.3" r="4.1"/><circle cx="267.9" cy="1613.6" r="4.1"/><circle cx="266.4" cy="1716.3" r="4.1"/><circle cx="281.3" cy="1628.5" r="4.1"/><circle cx="287.3" cy="1659.9" r="4.1"/><circle cx="294.8" cy="1558.2" r="4.1"/><circle cx="277.8" cy="1769.4" r="4.1"/><circle cx="285.1" cy="1611.9" r="4.1"/><circle cx="248.6" cy="1635.4" r="4.1"/><circle cx="248.8" cy="1555.9" r="4.1"/><circle cx="248.4" cy="1660.9" r="4.1"/><circle cx="277.8" cy="1535.2" r="4.1"/><circle cx="279.3" cy="1721.5" r="4.1"/><circle cx="269.1" cy="1627.6" r="4.1"/><circle cx="277" cy="1689.8" r="4.1"/><circle cx="284.7" cy="1713" r="4.1"/><circle cx="250.1" cy="1682.1" r="4.1"/><circle cx="260.2" cy="1620.6" r="4.1"/><circle cx="263.3" cy="1720.3" r="4.1"/><circle cx="270.3" cy="1605.5" r="4.1"/><circle cx="260.3" cy="1626.6" r="4.1"/><circle cx="278.5" cy="1582.5" r="4.1"/><circle cx="293" cy="1715.1" r="4.1"/><circle cx="253.6" cy="1661.6" r="4.1"/><circle cx="275.7" cy="1766.2" r="4.1"/><circle cx="269.3" cy="1603" r="4.1"/><circle cx="279.2" cy="1774.5" r="4.1"/><circle cx="262.3" cy="1671.3" r="4.1"/><circle cx="244.2" cy="1583.4" r="4.1"/><circle cx="269.3" cy="1704.2" r="4.1"/><circle cx="276.4" cy="1700.5" r="4.1"/><circle cx="269.2" cy="1526.8" r="4.1"/><circle cx="255.7" cy="1675.3" r="4.1"/><circle cx="269.8" cy="1629" r="4.1"/><circle cx="266.1" cy="1604.6" r="4.1"/><circle cx="279.3" cy="1614.9" r="4.1"/><circle cx="246.2" cy="1545.6" r="4.1"/><circle cx="281.2" cy="1685.2" r="4.1"/><circle cx="263.3" cy="1769.9" r="4.1"/><circle cx="269.3" cy="1573.4" r="4.1"/><circle cx="245.1" cy="1510.5" r="4.1"/><circle cx="263.4" cy="1706" r="4.1"/><circle cx="253.4" cy="1557.9" r="4.1"/><circle cx="261.8" cy="1750.4" r="4.1"/><circle cx="257.5" cy="1683.6" r="4.1"/><circle cx="280.9" cy="1712.3" r="4.1"/><circle cx="258" cy="1713.5" r="4.1"/><circle cx="288.2" cy="1704.6" r="4.1"/><circle cx="269.4" cy="1612.1" r="4.1"/><circle cx="267.5" cy="1601.3" r="4.1"/><circle cx="269.4" cy="1609.8" r="4.1"/><circle cx="273.7" cy="1529.1" r="4.1"/><circle cx="269.2" cy="1594.3" r="4.1"/><circle cx="264.5" cy="1511.5" r="4.1"/><circle cx="259.8" cy="1561.7" r="4.1"/><circle cx="286.8" cy="1528.1" r="4.1"/><circle cx="260.8" cy="1668.6" r="4.1"/><circle cx="250.6" cy="1683.7" r="4.1"/><circle cx="291.6" cy="1504.1" r="4.1"/><circle cx="280.4" cy="1724.3" r="4.1"/></g>
<path d="M269.7,1577.3V1423.2M269.7,1698V1820.2" stroke="#000" stroke-width="1.8"/>
<rect x="220.9" y="1577.3" width="97.7" height="120.7" fill="#4DBBD5" fill-opacity="0.67" stroke="#000" stroke-width="1.9"/>
<path d="M220.9,1642H318.6" stroke="#000" stroke-width="3.4"/>
<path d="M270.2,1423.2 L270.2,1424.2 L270.3,1425.5 L270.3,1427 L270.4,1428.8 L270.5,1430.5 L270.6,1432.3 L270.6,1434 L270.7,1435.6 L270.8,1437.4 L270.9,1439.2 L270.9,1440.8 L271,1442.5 L271.1,1444.2 L271.2,1445.9 L271.3,1447.6 L271.4,1449.3 L271.6,1451 L271.7,1452.7 L271.8,1454.4 L271.9,1456.1 L272.1,1457.9 L272.2,1459.6 L272.3,1461.3 L272.5,1463 L272.6,1464.7 L272.8,1466.4 L272.9,1468.1 L273.1,1469.9 L273.3,1471.6 L273.5,1473.3 L273.7,1475 L273.9,1476.7 L274.1,1478.4 L274.4,1480.1 L274.6,1481.9 L274.9,1483.6 L275.2,1485.3 L275.5,1487 L275.8,1488.7 L276.1,1490.4 L276.4,1492.1 L276.7,1493.9 L277.1,1495.6 L277.4,1497.3 L277.7,1499 L278,1500.7 L278.3,1502.4 L278.6,1504.1 L279,1505.8 L279.3,1507.6 L279.6,1509.3 L280,1511 L280.4,1512.7 L280.8,1514.4 L281.1,1516.1 L281.5,1517.8 L281.9,1519.6 L282.2,1521.3 L282.5,1523 L282.9,1524.7 L283.2,1526.4 L283.6,1528.1 L283.9,1529.8 L284.2,1531.6 L284.6,1533.3 L284.9,1535 L285.3,1536.7 L285.6,1538.4 L286,1540.1 L286.3,1541.8 L286.6,1543.6 L287,1545.3 L287.3,1547 L287.7,1548.7 L288,1550.4 L288.3,1552.1 L288.6,1553.8 L288.9,1555.6 L289.3,1557.3 L289.7,1559 L290.2,1560.7 L290.8,1562.4 L291.4,1564.1 L292,1565.8 L292.6,1567.6 L293.1,1569.3 L293.5,1571 L293.9,1572.7 L294.3,1574.4 L294.6,1576.1 L294.9,1577.8 L295.1,1579.6 L295.3,1581.3 L295.5,1583 L295.6,1584.7 L295.7,1586.4 L295.8,1588.1 L295.9,1589.8 L296,1591.6 L296.1,1593.3 L296.2,1595 L296.3,1596.7 L296.4,1598.4 L296.5,1600.1 L296.5,1601.8 L296.5,1603.5 L296.5,1605.1 L296.5,1606.8 L296.5,1608.5 L296.6,1610.2 L296.6,1611.7 L296.6,1613.2 L296.6,1614.8 L296.7,1616.3 L296.7,1617.9 L296.7,1619.5 L296.8,1621 L296.8,1622.6 L296.8,1624.2 L296.9,1625.7 L296.9,1627.3 L296.9,1628.9 L297,1630.5 L297,1632.1 L297,1633.6 L297,1635.2 L297,1636.8 L297,1638.4 L297,1640 L297,1641.5 L297,1643.1 L297,1644.7 L296.9,1646.3 L296.9,1647.8 L296.9,1649.4 L296.8,1651 L296.8,1652.6 L296.8,1654.1 L296.7,1655.7 L296.7,1657.3 L296.6,1658.9 L296.6,1660.4 L296.5,1662 L296.5,1663.6 L296.4,1665.2 L296.4,1666.8 L296.3,1668.3 L296.2,1669.9 L296.2,1671.5 L296.1,1673.1 L296,1674.6 L295.9,1676.2 L295.7,1677.8 L295.6,1679.4 L295.4,1680.9 L295.2,1682.5 L295,1684.1 L294.8,1685.7 L294.6,1687.2 L294.4,1688.8 L294.2,1690.4 L294,1692 L293.8,1693.6 L293.6,1695.1 L293.3,1696.7 L293.1,1698.3 L292.9,1699.9 L292.7,1701.4 L292.4,1703 L292.2,1704.6 L292,1706.2 L291.7,1707.7 L291.5,1709.3 L291.2,1710.9 L291,1712.5 L290.7,1714 L290.5,1715.6 L290.2,1717.2 L290,1718.8 L289.7,1720.4 L289.5,1721.9 L289.2,1723.5 L289,1725.1 L288.7,1726.7 L288.5,1728.2 L288.2,1729.8 L288,1731.4 L287.7,1733 L287.5,1734.5 L287.2,1736.1 L286.9,1737.7 L286.7,1739.3 L286.4,1740.8 L286.1,1742.4 L285.8,1744 L285.6,1745.6 L285.3,1747.2 L285,1748.7 L284.7,1750.3 L284.5,1751.9 L284.2,1753.5 L283.9,1755 L283.6,1756.6 L283.4,1758.2 L283.1,1759.8 L282.8,1761.3 L282.5,1762.9 L282.3,1764.5 L282,1766.1 L281.7,1767.6 L281.4,1769.2 L281.2,1770.8 L280.9,1772.4 L280.6,1773.9 L280.3,1775.5 L280,1777.1 L279.8,1778.7 L279.5,1780.3 L279.2,1781.8 L278.9,1783.4 L278.6,1785 L278.3,1786.6 L278.1,1788.1 L277.8,1789.7 L277.5,1791.3 L277.2,1792.9 L276.9,1794.4 L276.6,1796 L276.3,1797.6 L276.1,1799.2 L275.8,1800.7 L275.5,1802.3 L275.2,1803.9 L274.9,1805.5 L274.6,1807 L274.3,1808.6 L273.8,1810.3 L273.3,1812.2 L272.8,1814.1 L272.3,1815.9 L271.8,1817.5 L271.4,1818.9 L271.1,1819.9 L268.2,1819.9 L267.9,1818.9 L267.5,1817.5 L267.1,1815.9 L266.5,1814.1 L266,1812.2 L265.5,1810.3 L265.1,1808.6 L264.7,1807 L264.4,1805.5 L264.1,1803.9 L263.8,1802.3 L263.6,1800.7 L263.3,1799.2 L263,1797.6 L262.7,1796 L262.4,1794.4 L262.1,1792.9 L261.9,1791.3 L261.6,1789.7 L261.3,1788.1 L261,1786.6 L260.7,1785 L260.4,1783.4 L260.2,1781.8 L259.9,1780.3 L259.6,1778.7 L259.3,1777.1 L259,1775.5 L258.7,1773.9 L258.5,1772.4 L258.2,1770.8 L257.9,1769.2 L257.6,1767.6 L257.4,1766.1 L257.1,1764.5 L256.8,1762.9 L256.5,1761.3 L256.3,1759.8 L256,1758.2 L255.7,1756.6 L255.4,1755 L255.2,1753.5 L254.9,1751.9 L254.6,1750.3 L254.3,1748.7 L254.1,1747.2 L253.8,1745.6 L253.5,1744 L253.2,1742.4 L253,1740.8 L252.7,1739.3 L252.4,1737.7 L252.1,1736.1 L251.9,1734.5 L251.6,1733 L251.4,1731.4 L251.1,1729.8 L250.9,1728.2 L250.6,1726.7 L250.4,1725.1 L250.1,1723.5 L249.9,1721.9 L249.6,1720.4 L249.4,1718.8 L249.1,1717.2 L248.9,1715.6 L248.6,1714 L248.4,1712.5 L248.1,1710.9 L247.9,1709.3 L247.6,1707.7 L247.4,1706.2 L247.2,1704.6 L246.9,1703 L246.7,1701.4 L246.4,1699.9 L246.2,1698.3 L246,1696.7 L245.8,1695.1 L245.6,1693.6 L245.3,1692 L245.1,1690.4 L244.9,1688.8 L244.7,1687.2 L244.5,1685.7 L244.3,1684.1 L244.1,1682.5 L243.9,1680.9 L243.8,1679.4 L243.6,1677.8 L243.5,1676.2 L243.3,1674.6 L243.2,1673.1 L243.2,1671.5 L243.1,1669.9 L243,1668.3 L243,1666.8 L242.9,1665.2 L242.9,1663.6 L242.8,1662 L242.7,1660.4 L242.7,1658.9 L242.7,1657.3 L242.6,1655.7 L242.6,1654.1 L242.5,1652.6 L242.5,1651 L242.5,1649.4 L242.4,1647.8 L242.4,1646.3 L242.4,1644.7 L242.4,1643.1 L242.3,1641.5 L242.3,1640 L242.3,1638.4 L242.3,1636.8 L242.3,1635.2 L242.3,1633.6 L242.4,1632.1 L242.4,1630.5 L242.4,1628.9 L242.4,1627.3 L242.5,1625.7 L242.5,1624.2 L242.5,1622.6 L242.6,1621 L242.6,1619.5 L242.6,1617.9 L242.7,1616.3 L242.7,1614.8 L242.7,1613.2 L242.8,1611.7 L242.8,1610.2 L242.8,1608.5 L242.8,1606.8 L242.8,1605.1 L242.8,1603.5 L242.8,1601.8 L242.9,1600.1 L242.9,1598.4 L243,1596.7 L243.1,1595 L243.2,1593.3 L243.3,1591.6 L243.4,1589.8 L243.5,1588.1 L243.6,1586.4 L243.7,1584.7 L243.9,1583 L244,1581.3 L244.2,1579.6 L244.5,1577.8 L244.8,1576.1 L245.1,1574.4 L245.4,1572.7 L245.8,1571 L246.3,1569.3 L246.8,1567.6 L247.3,1565.8 L247.9,1564.1 L248.5,1562.4 L249.1,1560.7 L249.6,1559 L250,1557.3 L250.4,1555.6 L250.7,1553.8 L251,1552.1 L251.3,1550.4 L251.7,1548.7 L252,1547 L252.4,1545.3 L252.7,1543.6 L253,1541.8 L253.4,1540.1 L253.7,1538.4 L254.1,1536.7 L254.4,1535 L254.8,1533.3 L255.1,1531.6 L255.4,1529.8 L255.8,1528.1 L256.1,1526.4 L256.5,1524.7 L256.8,1523 L257.1,1521.3 L257.5,1519.6 L257.8,1517.8 L258.2,1516.1 L258.6,1514.4 L259,1512.7 L259.3,1511 L259.7,1509.3 L260.1,1507.6 L260.4,1505.8 L260.7,1504.1 L261,1502.4 L261.3,1500.7 L261.6,1499 L262,1497.3 L262.3,1495.6 L262.6,1493.9 L262.9,1492.1 L263.2,1490.4 L263.6,1488.7 L263.9,1487 L264.1,1485.3 L264.4,1483.6 L264.7,1481.9 L265,1480.1 L265.2,1478.4 L265.5,1476.7 L265.7,1475 L265.9,1473.3 L266.1,1471.6 L266.2,1469.9 L266.4,1468.1 L266.6,1466.4 L266.7,1464.7 L266.9,1463 L267,1461.3 L267.2,1459.6 L267.3,1457.9 L267.4,1456.1 L267.5,1454.4 L267.7,1452.7 L267.8,1451 L267.9,1449.3 L268,1447.6 L268.1,1445.9 L268.2,1444.2 L268.3,1442.5 L268.4,1440.8 L268.5,1439.2 L268.6,1437.4 L268.6,1435.6 L268.7,1434 L268.8,1432.3 L268.9,1430.5 L268.9,1428.8 L269,1427 L269.1,1425.5 L269.1,1424.2 L269.2,1423.2Z" fill="#4DBBD5" fill-opacity="0.5"/>
<rect x="63.5" y="1382.2" width="282.5" height="476" fill="none" stroke="#2b2b2b" stroke-width="3.4"/>
<path d="M57.8,1396.1H62.8M57.8,1478.9H62.8M57.8,1561.7H62.8M57.8,1644.1H62.8M57.8,1726.9H62.8M57.8,1809.1H62.8" stroke="#333" stroke-width="1.3"/>
<g font-size="17" text-anchor="end" fill="#111" stroke="#111" stroke-width="0.4"><text x="54.8" y="1402.7">3</text><text x="54.8" y="1485.5">2</text><text x="54.8" y="1568.3">1</text><text x="54.8" y="1650.7">0</text><text x="54.8" y="1733.5">−1</text><text x="54.8" y="1815.7">−2</text></g>
<text x="105.9" y="1413.1" font-size="23.3" textLength="174.5" lengthAdjust="spacingAndGlyphs" fill="#000" stroke="#000" stroke-width="0.45">T−test, p = 0.0047</text>
<text transform="translate(140.6,1868) rotate(-50)" y="14.3" font-size="21.5" text-anchor="end" fill="#000" stroke="#000" stroke-width="0.45">Codel</text>
<text transform="translate(270.2,1868) rotate(-50)" y="14.3" font-size="21.5" text-anchor="end" fill="#000" stroke="#000" stroke-width="0.45">Non_codel</text>
<text x="204.7" y="1980.2" font-weight="bold" font-size="24.0" fill="#8B0000" stroke="#8B0000" stroke-width="0.35" text-anchor="middle" lengthAdjust="spacingAndGlyphs" textLength="115.8">Chr_1p19q</text>
<text transform="translate(26,1620.3) rotate(-90)" font-weight="bold" font-size="22.6" fill="#8B0000" stroke="#8B0000" stroke-width="0.35" text-anchor="middle" lengthAdjust="spacingAndGlyphs" textLength="324">MAP2K3 Expression (z−score)</text>
<text x="204.7" y="1366.4" font-weight="bold" font-size="24.0" fill="#8B0000" stroke="#8B0000" stroke-width="0.35" text-anchor="middle" lengthAdjust="spacingAndGlyphs" textLength="117">CGGA_325</text>
<text x="17.3" y="1352.6" font-weight="bold" font-size="29.2" text-anchor="middle" fill="#000" stroke="#000" stroke-width="0.4" textLength="7.5" lengthAdjust="spacingAndGlyphs">I</text>
<rect x="457.6" y="1385.5" width="285.8" height="469.4" fill="#F1F4F5"/>
<path d="M452.6,1515.2H748.4M452.6,1695.2H748.4M533.5,1860V1380.5M668.2,1860V1380.5" stroke="#C8CACB" stroke-width="1.2" stroke-dasharray="6.45 6.45" fill="none"/>
<g fill="#E64B35"><circle cx="547.7" cy="1655.5" r="4.1"/><circle cx="545.4" cy="1678.7" r="4.1"/><circle cx="510.3" cy="1694.3" r="4.1"/><circle cx="535" cy="1705.6" r="4.1"/><circle cx="523" cy="1720.4" r="4.1"/><circle cx="508" cy="1730.6" r="4.1"/><circle cx="545.7" cy="1739.7" r="4.1"/><circle cx="516.5" cy="1756.1" r="4.1"/><circle cx="510.3" cy="1767.2" r="4.1"/><circle cx="527" cy="1770" r="4.1"/><circle cx="533.5" cy="1773.7" r="4.1"/><circle cx="549.1" cy="1761.5" r="4.1"/><circle cx="516.8" cy="1744.3" r="4.1"/><circle cx="552.4" cy="1723.3" r="4.1"/></g>
<path d="M533.5,1705.4V1656M533.5,1761V1774" stroke="#000" stroke-width="1.8"/>
<rect x="482.8" y="1705.4" width="101.1" height="55.6" fill="#E64B35" fill-opacity="0.67" stroke="#000" stroke-width="1.9"/>
<path d="M482.8,1734.6H583.9" stroke="#000" stroke-width="3.4"/>
<path d="M549.6,1656 L550.2,1657.2 L551,1659 L551.9,1661.1 L552.9,1663.2 L553.7,1664.9 L554.6,1666.6 L555.5,1668.4 L556.4,1670.2 L557.3,1672 L558.2,1673.7 L559,1675.5 L559.9,1677.3 L560.8,1679 L561.7,1680.8 L562.6,1682.5 L563.5,1684.3 L564.5,1686.1 L565.4,1687.8 L566.3,1689.6 L567.2,1691.3 L568.1,1693.1 L568.9,1694.9 L569.8,1696.6 L570.7,1698.4 L571.6,1700.1 L572.5,1701.9 L573.4,1703.6 L574.4,1705.4 L575.3,1707.2 L576.3,1708.9 L577.3,1710.7 L578.3,1712.4 L579.3,1714.2 L580.4,1716 L581.5,1717.7 L582.7,1719.5 L583.8,1721.2 L585,1723 L586.1,1724.8 L587.1,1726.5 L588.1,1728.3 L589.1,1730 L589.9,1731.8 L590.7,1733.6 L591.4,1735.3 L591.9,1737.1 L592.4,1738.8 L592.8,1740.6 L593.1,1742.3 L593.4,1744.1 L593.7,1745.9 L593.9,1747.6 L593.9,1749.4 L593.8,1751.1 L593.5,1752.9 L593,1754.7 L592.4,1756.4 L591.7,1758.2 L590.9,1759.9 L590,1761.8 L588.8,1763.6 L587.6,1765.5 L586.5,1767.2 L585.4,1768.7 L583.8,1770.9 L582.4,1772.8 L581.5,1774 L485.6,1774 L484.6,1772.8 L483.2,1770.9 L481.6,1768.7 L480.6,1767.2 L479.4,1765.5 L478.2,1763.6 L477.1,1761.8 L476.1,1759.9 L475.4,1758.2 L474.6,1756.4 L474.1,1754.7 L473.6,1752.9 L473.3,1751.1 L473.2,1749.4 L473.2,1747.6 L473.4,1745.9 L473.6,1744.1 L474,1742.3 L474.3,1740.6 L474.7,1738.8 L475.2,1737.1 L475.7,1735.3 L476.4,1733.6 L477.1,1731.8 L478,1730 L479,1728.3 L480,1726.5 L481,1724.8 L482.1,1723 L483.2,1721.2 L484.4,1719.5 L485.6,1717.7 L486.7,1716 L487.8,1714.2 L488.8,1712.4 L489.8,1710.7 L490.8,1708.9 L491.8,1707.2 L492.7,1705.4 L493.6,1703.6 L494.6,1701.9 L495.5,1700.1 L496.4,1698.4 L497.3,1696.6 L498.1,1694.9 L499,1693.1 L499.9,1691.3 L500.8,1689.6 L501.7,1687.8 L502.6,1686.1 L503.6,1684.3 L504.5,1682.5 L505.4,1680.8 L506.3,1679 L507.2,1677.3 L508,1675.5 L508.9,1673.7 L509.8,1672 L510.7,1670.2 L511.6,1668.4 L512.5,1666.6 L513.4,1664.9 L514.2,1663.2 L515.2,1661.1 L516.1,1659 L516.9,1657.2 L517.5,1656Z" fill="#E64B35" fill-opacity="0.5"/>
<g fill="#4DBBD5"><circle cx="652.6" cy="1428.7" r="4.1"/><circle cx="676.7" cy="1428.7" r="4.1"/><circle cx="675.3" cy="1465.3" r="4.1"/><circle cx="646.1" cy="1469.8" r="4.1"/><circle cx="659.7" cy="1838.9" r="4.1"/><circle cx="661.7" cy="1834.6" r="4.1"/><circle cx="656.3" cy="1808.5" r="4.1"/><circle cx="642.7" cy="1794.4" r="4.1"/><circle cx="687" cy="1593.7" r="4.1"/><circle cx="669.3" cy="1597.5" r="4.1"/><circle cx="682.1" cy="1798.3" r="4.1"/><circle cx="660.1" cy="1568.9" r="4.1"/><circle cx="687.9" cy="1610.2" r="4.1"/><circle cx="646.1" cy="1600.6" r="4.1"/><circle cx="651.4" cy="1733.6" r="4.1"/><circle cx="665.2" cy="1566" r="4.1"/><circle cx="659" cy="1467.8" r="4.1"/><circle cx="657" cy="1571.8" r="4.1"/><circle cx="684.6" cy="1577" r="4.1"/><circle cx="654.9" cy="1694.6" r="4.1"/><circle cx="646.8" cy="1548.5" r="4.1"/><circle cx="671.5" cy="1548.8" r="4.1"/><circle cx="676.5" cy="1622.9" r="4.1"/><circle cx="693.2" cy="1581.5" r="4.1"/><circle cx="644.6" cy="1645.9" r="4.1"/><circle cx="670" cy="1727.7" r="4.1"/><circle cx="677.9" cy="1638.6" r="4.1"/><circle cx="682.2" cy="1515.9" r="4.1"/><circle cx="680.5" cy="1504.6" r="4.1"/><circle cx="694" cy="1672.7" r="4.1"/><circle cx="656.6" cy="1613" r="4.1"/><circle cx="684.8" cy="1651.6" r="4.1"/><circle cx="669.6" cy="1540.2" r="4.1"/><circle cx="690.4" cy="1680.2" r="4.1"/><circle cx="657.4" cy="1704.3" r="4.1"/><circle cx="689.4" cy="1739.3" r="4.1"/><circle cx="658.8" cy="1653.3" r="4.1"/><circle cx="669.8" cy="1713.5" r="4.1"/><circle cx="647" cy="1578.1" r="4.1"/><circle cx="645.1" cy="1554.5" r="4.1"/><circle cx="645" cy="1620.8" r="4.1"/><circle cx="688.2" cy="1640.6" r="4.1"/><circle cx="682.7" cy="1677.1" r="4.1"/><circle cx="652.1" cy="1631.7" r="4.1"/><circle cx="667.2" cy="1671.2" r="4.1"/><circle cx="694.5" cy="1699.2" r="4.1"/><circle cx="642.7" cy="1715.2" r="4.1"/><circle cx="669.3" cy="1687.3" r="4.1"/><circle cx="664.7" cy="1673.4" r="4.1"/><circle cx="658.5" cy="1671.1" r="4.1"/><circle cx="659" cy="1493.9" r="4.1"/><circle cx="664.7" cy="1702.1" r="4.1"/><circle cx="680.3" cy="1592.7" r="4.1"/><circle cx="650" cy="1540.5" r="4.1"/><circle cx="657.8" cy="1526.4" r="4.1"/><circle cx="653.1" cy="1581.8" r="4.1"/><circle cx="689.7" cy="1689.3" r="4.1"/><circle cx="647.4" cy="1642.4" r="4.1"/><circle cx="650.2" cy="1748.1" r="4.1"/><circle cx="668" cy="1597.3" r="4.1"/><circle cx="662.9" cy="1675.7" r="4.1"/><circle cx="689.3" cy="1600.8" r="4.1"/><circle cx="657.1" cy="1674.9" r="4.1"/><circle cx="688.8" cy="1726.1" r="4.1"/><circle cx="661.1" cy="1707.1" r="4.1"/><circle cx="680.9" cy="1654.9" r="4.1"/><circle cx="675.1" cy="1655.8" r="4.1"/><circle cx="643.7" cy="1623.8" r="4.1"/><circle cx="668.4" cy="1626.2" r="4.1"/><circle cx="676.7" cy="1733.8" r="4.1"/><circle cx="651.5" cy="1813.1" r="4.1"/><circle cx="643.7" cy="1609.2" r="4.1"/><circle cx="650.2" cy="1632.9" r="4.1"/><circle cx="650.3" cy="1681.3" r="4.1"/><circle cx="681.7" cy="1591.3" r="4.1"/><circle cx="669.3" cy="1483.1" r="4.1"/><circle cx="673.2" cy="1536" r="4.1"/><circle cx="670.8" cy="1617.6" r="4.1"/><circle cx="671.9" cy="1614.4" r="4.1"/><circle cx="672.3" cy="1578.8" r="4.1"/><circle cx="684.6" cy="1565.9" r="4.1"/><circle cx="663.7" cy="1517.9" r="4.1"/><circle cx="654.3" cy="1594.8" r="4.1"/><circle cx="679.3" cy="1518" r="4.1"/><circle cx="670.8" cy="1623.4" r="4.1"/><circle cx="642.9" cy="1564.6" r="4.1"/><circle cx="663.5" cy="1637.1" r="4.1"/><circle cx="660.8" cy="1593" r="4.1"/><circle cx="693" cy="1548.4" r="4.1"/><circle cx="674.2" cy="1659.5" r="4.1"/><circle cx="652.2" cy="1636.8" r="4.1"/><circle cx="661" cy="1629.5" r="4.1"/><circle cx="692.6" cy="1492.5" r="4.1"/><circle cx="689.9" cy="1684.9" r="4.1"/><circle cx="648.1" cy="1717.5" r="4.1"/><circle cx="673" cy="1593.9" r="4.1"/><circle cx="678.4" cy="1695.9" r="4.1"/><circle cx="682.9" cy="1626.7" r="4.1"/><circle cx="660.4" cy="1783" r="4.1"/><circle cx="686.2" cy="1713.8" r="4.1"/><circle cx="646.2" cy="1626.3" r="4.1"/><circle cx="682" cy="1602.4" r="4.1"/><circle cx="675" cy="1631.2" r="4.1"/><circle cx="679.6" cy="1564.3" r="4.1"/><circle cx="655.1" cy="1532.7" r="4.1"/><circle cx="682.5" cy="1632.1" r="4.1"/><circle cx="683.5" cy="1686" r="4.1"/><circle cx="643.1" cy="1667.4" r="4.1"/><circle cx="655.6" cy="1655.3" r="4.1"/><circle cx="641.8" cy="1779.6" r="4.1"/><circle cx="641.6" cy="1627.6" r="4.1"/><circle cx="653.6" cy="1582.1" r="4.1"/><circle cx="672" cy="1568.2" r="4.1"/><circle cx="651.8" cy="1605.8" r="4.1"/><circle cx="675.9" cy="1628.2" r="4.1"/><circle cx="687.4" cy="1558.1" r="4.1"/><circle cx="660.8" cy="1672.7" r="4.1"/><circle cx="694.8" cy="1756.4" r="4.1"/><circle cx="647.6" cy="1720.3" r="4.1"/><circle cx="693.1" cy="1532.5" r="4.1"/><circle cx="641.4" cy="1525.6" r="4.1"/><circle cx="669.9" cy="1718.8" r="4.1"/><circle cx="690" cy="1613.8" r="4.1"/><circle cx="663.9" cy="1584.2" r="4.1"/><circle cx="662.9" cy="1729.8" r="4.1"/><circle cx="644.7" cy="1592.5" r="4.1"/><circle cx="679.6" cy="1487.5" r="4.1"/><circle cx="687" cy="1706.8" r="4.1"/><circle cx="662.8" cy="1680.9" r="4.1"/><circle cx="684.3" cy="1495.9" r="4.1"/><circle cx="654.2" cy="1476.2" r="4.1"/><circle cx="670.2" cy="1759.3" r="4.1"/><circle cx="677.8" cy="1783.8" r="4.1"/><circle cx="683.5" cy="1621.3" r="4.1"/><circle cx="664.5" cy="1769.7" r="4.1"/><circle cx="647.1" cy="1677.6" r="4.1"/><circle cx="667" cy="1610.8" r="4.1"/><circle cx="669.2" cy="1766.4" r="4.1"/><circle cx="670.2" cy="1606.3" r="4.1"/><circle cx="665.2" cy="1629.6" r="4.1"/><circle cx="669.6" cy="1590.9" r="4.1"/><circle cx="685.6" cy="1572.5" r="4.1"/><circle cx="690.8" cy="1724.8" r="4.1"/><circle cx="658.5" cy="1596" r="4.1"/><circle cx="680.3" cy="1664.2" r="4.1"/><circle cx="692.2" cy="1541" r="4.1"/><circle cx="677.4" cy="1788.9" r="4.1"/><circle cx="653.6" cy="1685.2" r="4.1"/><circle cx="652" cy="1656.6" r="4.1"/><circle cx="644.8" cy="1671.5" r="4.1"/><circle cx="661.3" cy="1542.6" r="4.1"/><circle cx="651.2" cy="1598" r="4.1"/><circle cx="647.4" cy="1531.5" r="4.1"/><circle cx="642" cy="1769.4" r="4.1"/><circle cx="646.5" cy="1593.8" r="4.1"/><circle cx="692" cy="1490" r="4.1"/><circle cx="667.9" cy="1650.2" r="4.1"/><circle cx="676" cy="1600.1" r="4.1"/><circle cx="676.3" cy="1583.6" r="4.1"/><circle cx="689.1" cy="1579.4" r="4.1"/><circle cx="681.5" cy="1495.3" r="4.1"/><circle cx="665.3" cy="1667.9" r="4.1"/><circle cx="672.6" cy="1687.3" r="4.1"/><circle cx="644.5" cy="1617.9" r="4.1"/><circle cx="666.7" cy="1550.3" r="4.1"/><circle cx="658.1" cy="1545.6" r="4.1"/><circle cx="658.3" cy="1607.6" r="4.1"/><circle cx="651.7" cy="1700.8" r="4.1"/><circle cx="661.1" cy="1554.5" r="4.1"/><circle cx="689.1" cy="1696.5" r="4.1"/><circle cx="649.6" cy="1760.9" r="4.1"/><circle cx="681.9" cy="1709" r="4.1"/><circle cx="671.9" cy="1660.6" r="4.1"/><circle cx="645" cy="1638.9" r="4.1"/><circle cx="647" cy="1602.6" r="4.1"/><circle cx="657.2" cy="1623.3" r="4.1"/><circle cx="674.7" cy="1658.6" r="4.1"/><circle cx="693.9" cy="1744.3" r="4.1"/><circle cx="694.1" cy="1469.2" r="4.1"/><circle cx="668.3" cy="1478.3" r="4.1"/><circle cx="671.2" cy="1632.7" r="4.1"/><circle cx="651.2" cy="1645.9" r="4.1"/><circle cx="681.9" cy="1639.5" r="4.1"/><circle cx="691.5" cy="1593" r="4.1"/><circle cx="672" cy="1591.3" r="4.1"/><circle cx="691.2" cy="1602.7" r="4.1"/><circle cx="669.1" cy="1583.8" r="4.1"/><circle cx="694.5" cy="1568.9" r="4.1"/><circle cx="658.5" cy="1649.4" r="4.1"/><circle cx="645" cy="1578.5" r="4.1"/><circle cx="674.1" cy="1646.2" r="4.1"/><circle cx="691.8" cy="1759" r="4.1"/><circle cx="685.7" cy="1644.6" r="4.1"/><circle cx="689.5" cy="1560.1" r="4.1"/><circle cx="665.1" cy="1638.5" r="4.1"/><circle cx="670.5" cy="1542" r="4.1"/><circle cx="664.2" cy="1661.1" r="4.1"/><circle cx="643" cy="1748" r="4.1"/><circle cx="675.1" cy="1625.9" r="4.1"/><circle cx="690.8" cy="1627.2" r="4.1"/><circle cx="675.9" cy="1552.1" r="4.1"/><circle cx="672.9" cy="1610.5" r="4.1"/><circle cx="670.4" cy="1644.8" r="4.1"/><circle cx="681.5" cy="1781.5" r="4.1"/><circle cx="647.9" cy="1705.1" r="4.1"/><circle cx="658.5" cy="1651.6" r="4.1"/><circle cx="676.5" cy="1687.8" r="4.1"/><circle cx="646.8" cy="1658.7" r="4.1"/><circle cx="662.2" cy="1519.2" r="4.1"/><circle cx="650.6" cy="1682.7" r="4.1"/><circle cx="672.4" cy="1694" r="4.1"/><circle cx="691.4" cy="1614.9" r="4.1"/><circle cx="644.3" cy="1601" r="4.1"/><circle cx="675.4" cy="1677.4" r="4.1"/><circle cx="680.9" cy="1690.9" r="4.1"/><circle cx="656" cy="1598.2" r="4.1"/><circle cx="683.5" cy="1621.5" r="4.1"/><circle cx="664.1" cy="1588" r="4.1"/><circle cx="647.8" cy="1813.9" r="4.1"/><circle cx="654.7" cy="1672.1" r="4.1"/><circle cx="652.2" cy="1743" r="4.1"/><circle cx="661.7" cy="1655.6" r="4.1"/><circle cx="693.7" cy="1536.3" r="4.1"/><circle cx="693.6" cy="1639.6" r="4.1"/><circle cx="683.1" cy="1575.7" r="4.1"/><circle cx="669.3" cy="1532.8" r="4.1"/><circle cx="671.7" cy="1629.8" r="4.1"/><circle cx="654.9" cy="1622.7" r="4.1"/><circle cx="665.8" cy="1660.8" r="4.1"/><circle cx="684.9" cy="1697.3" r="4.1"/><circle cx="670.9" cy="1649.9" r="4.1"/><circle cx="676.2" cy="1729.8" r="4.1"/><circle cx="669.7" cy="1625.3" r="4.1"/><circle cx="667.7" cy="1623.4" r="4.1"/><circle cx="690.2" cy="1614.9" r="4.1"/><circle cx="665.9" cy="1655.1" r="4.1"/><circle cx="666.6" cy="1668.8" r="4.1"/><circle cx="654.8" cy="1695.4" r="4.1"/><circle cx="684.9" cy="1506.3" r="4.1"/><circle cx="659.6" cy="1547.8" r="4.1"/><circle cx="667.9" cy="1635.1" r="4.1"/><circle cx="667.8" cy="1680.3" r="4.1"/><circle cx="695.1" cy="1611" r="4.1"/><circle cx="679.9" cy="1745.3" r="4.1"/><circle cx="672.6" cy="1609.5" r="4.1"/><circle cx="692.2" cy="1612.8" r="4.1"/><circle cx="647" cy="1628.4" r="4.1"/><circle cx="647.6" cy="1601.6" r="4.1"/><circle cx="677.1" cy="1623.5" r="4.1"/><circle cx="674" cy="1712.5" r="4.1"/><circle cx="680.3" cy="1731.9" r="4.1"/><circle cx="680.9" cy="1719.3" r="4.1"/><circle cx="691.3" cy="1694.4" r="4.1"/><circle cx="675.6" cy="1792.1" r="4.1"/><circle cx="695" cy="1633.7" r="4.1"/><circle cx="689.7" cy="1506.2" r="4.1"/><circle cx="684.9" cy="1598.9" r="4.1"/><circle cx="645.6" cy="1464.8" r="4.1"/><circle cx="650.6" cy="1633.7" r="4.1"/><circle cx="679.2" cy="1715.6" r="4.1"/><circle cx="652.2" cy="1521.1" r="4.1"/><circle cx="641.9" cy="1642.5" r="4.1"/><circle cx="695" cy="1610.1" r="4.1"/><circle cx="676.9" cy="1610.9" r="4.1"/><circle cx="669.9" cy="1667.7" r="4.1"/><circle cx="659.7" cy="1683.9" r="4.1"/><circle cx="662.1" cy="1590.6" r="4.1"/><circle cx="674.7" cy="1688.4" r="4.1"/><circle cx="665.5" cy="1641.5" r="4.1"/><circle cx="686.1" cy="1539.9" r="4.1"/><circle cx="650.4" cy="1690.4" r="4.1"/><circle cx="677" cy="1624.9" r="4.1"/><circle cx="651.7" cy="1657.3" r="4.1"/><circle cx="689.3" cy="1501.9" r="4.1"/><circle cx="686.8" cy="1605.6" r="4.1"/><circle cx="658.2" cy="1813.6" r="4.1"/><circle cx="641.7" cy="1627.2" r="4.1"/><circle cx="679.8" cy="1740.8" r="4.1"/></g>
<path d="M668.2,1564.9V1429M668.2,1681.5V1837.7" stroke="#000" stroke-width="1.8"/>
<rect x="617.4" y="1564.9" width="101.1" height="116.6" fill="#4DBBD5" fill-opacity="0.67" stroke="#000" stroke-width="1.9"/>
<path d="M617.4,1631.3H718.5" stroke="#000" stroke-width="3.4"/>
<path d="M668.7,1429 L668.8,1429.9 L668.9,1431.2 L669.1,1432.7 L669.3,1434.4 L669.5,1436.1 L669.7,1437.9 L669.9,1439.6 L670,1441.1 L670.2,1442.7 L670.3,1444.2 L670.5,1445.7 L670.6,1447.2 L670.8,1448.6 L670.9,1450.1 L671.1,1451.6 L671.2,1453.1 L671.4,1454.6 L671.5,1456.1 L671.7,1457.6 L671.8,1459.1 L672,1460.6 L672.1,1462.1 L672.3,1463.7 L672.4,1465.2 L672.6,1466.7 L672.7,1468.2 L672.9,1469.7 L673,1471.2 L673.2,1472.7 L673.3,1474.2 L673.5,1475.7 L673.7,1477.2 L673.9,1478.7 L674.1,1480.2 L674.3,1481.7 L674.4,1483.2 L674.6,1484.7 L674.8,1486.2 L675,1487.7 L675.2,1489.2 L675.4,1490.8 L675.6,1492.3 L675.8,1493.8 L676,1495.3 L676.3,1496.8 L676.5,1498.3 L676.7,1499.8 L676.9,1501.3 L677.2,1502.8 L677.4,1504.3 L677.6,1505.8 L677.8,1507.3 L678.1,1508.8 L678.3,1510.3 L678.5,1511.8 L678.7,1513.3 L679,1514.8 L679.2,1516.3 L679.4,1517.8 L679.6,1519.4 L679.8,1520.9 L680.1,1522.4 L680.3,1523.9 L680.6,1525.4 L680.8,1526.9 L681.1,1528.4 L681.4,1529.9 L681.7,1531.4 L682,1532.9 L682.3,1534.4 L682.6,1535.9 L682.8,1537.4 L683.1,1538.9 L683.3,1540.4 L683.5,1541.9 L683.8,1543.4 L684,1544.9 L684.2,1546.4 L684.5,1548 L684.7,1549.5 L685,1551 L685.2,1552.5 L685.4,1554 L685.7,1555.5 L685.9,1557 L686.2,1558.5 L686.5,1560 L686.7,1561.5 L687,1563 L687.3,1564.5 L687.5,1566 L687.8,1567.5 L688,1569 L688.2,1570.5 L688.4,1572 L688.6,1573.5 L688.9,1575.1 L689.1,1576.6 L689.2,1578.1 L689.4,1579.6 L689.6,1581.1 L689.8,1582.6 L690,1584.1 L690.2,1585.6 L690.4,1587.1 L690.6,1588.6 L690.7,1590.1 L690.9,1591.6 L691.1,1593.1 L691.2,1594.6 L691.4,1596.1 L691.6,1597.6 L691.7,1599.1 L691.9,1600.6 L692.1,1602.1 L692.2,1603.7 L692.4,1605.2 L692.6,1606.7 L692.7,1608.2 L692.9,1609.7 L693.2,1611.4 L693.4,1613.1 L693.7,1614.8 L694,1616.6 L694.3,1618.3 L694.5,1620.1 L694.7,1621.7 L694.9,1623.2 L695.1,1624.8 L695.3,1626.4 L695.5,1628.1 L695.7,1629.7 L695.8,1631.3 L695.9,1632.9 L696,1634.5 L696.1,1636.1 L696.1,1637.7 L696.2,1639.3 L696.2,1641 L696.3,1642.6 L696.3,1644.2 L696.3,1645.8 L696.3,1647.4 L696.3,1649 L696.3,1650.6 L696.3,1652.2 L696.3,1653.8 L696.2,1655.5 L696.2,1657.1 L696.2,1658.7 L696.2,1660.3 L696.1,1661.9 L696,1663.5 L695.8,1665.1 L695.6,1666.7 L695.3,1668.3 L695,1670 L694.7,1671.6 L694.3,1673.2 L694,1674.8 L693.6,1676.4 L693.1,1678 L692.7,1679.6 L692.2,1681.2 L691.7,1682.9 L691.2,1684.5 L690.7,1686.1 L690.2,1687.7 L689.7,1689.3 L689.2,1690.9 L688.7,1692.5 L688.3,1694.1 L687.8,1695.7 L687.3,1697.4 L686.9,1699 L686.5,1700.6 L686.1,1702.2 L685.7,1703.8 L685.3,1705.4 L685,1707 L684.6,1708.6 L684.3,1710.3 L684,1711.9 L683.7,1713.5 L683.4,1715.1 L683.1,1716.7 L682.9,1718.3 L682.6,1719.9 L682.4,1721.5 L682.2,1723.1 L681.9,1724.8 L681.7,1726.4 L681.5,1728 L681.3,1729.6 L681.1,1731.2 L680.9,1732.8 L680.7,1734.4 L680.4,1736 L680.2,1737.7 L680,1739.3 L679.8,1740.9 L679.6,1742.5 L679.5,1744.1 L679.3,1745.7 L679.1,1747.3 L679,1748.9 L678.8,1750.5 L678.6,1752.2 L678.5,1753.8 L678.3,1755.4 L678.2,1757 L678,1758.6 L677.9,1760.2 L677.7,1761.8 L677.5,1763.4 L677.4,1765 L677.2,1766.7 L677,1768.3 L676.9,1769.9 L676.7,1771.5 L676.5,1773.1 L676.3,1774.7 L676.1,1776.3 L676,1777.9 L675.8,1779.6 L675.6,1781.2 L675.4,1782.8 L675.2,1784.4 L675.1,1786 L674.9,1787.6 L674.7,1789.2 L674.5,1790.8 L674.4,1792.4 L674.2,1794.1 L674,1795.7 L673.9,1797.3 L673.7,1798.9 L673.5,1800.5 L673.4,1802.1 L673.2,1803.7 L673,1805.3 L672.9,1807 L672.7,1808.6 L672.5,1810.2 L672.3,1811.8 L672.1,1813.4 L671.9,1815 L671.6,1816.6 L671.4,1818.2 L671.2,1819.8 L670.9,1821.5 L670.7,1823.1 L670.5,1824.7 L670.3,1826.5 L670.1,1828.3 L669.8,1830 L669.6,1831.7 L669.5,1833.1 L669.3,1834.4 L668.9,1837 L668.6,1838.3 L667.7,1838.3 L667.5,1837 L667,1834.4 L666.9,1833.1 L666.7,1831.7 L666.5,1830 L666.3,1828.3 L666.1,1826.5 L665.9,1824.7 L665.6,1823.1 L665.4,1821.5 L665.2,1819.8 L665,1818.2 L664.7,1816.6 L664.5,1815 L664.3,1813.4 L664.1,1811.8 L663.9,1810.2 L663.7,1808.6 L663.5,1807 L663.3,1805.3 L663.2,1803.7 L663,1802.1 L662.8,1800.5 L662.6,1798.9 L662.5,1797.3 L662.3,1795.7 L662.1,1794.1 L662,1792.4 L661.8,1790.8 L661.6,1789.2 L661.5,1787.6 L661.3,1786 L661.1,1784.4 L660.9,1782.8 L660.7,1781.2 L660.6,1779.6 L660.4,1777.9 L660.2,1776.3 L660,1774.7 L659.9,1773.1 L659.7,1771.5 L659.5,1769.9 L659.3,1768.3 L659.1,1766.7 L659,1765 L658.8,1763.4 L658.7,1761.8 L658.5,1760.2 L658.3,1758.6 L658.2,1757 L658,1755.4 L657.9,1753.8 L657.7,1752.2 L657.6,1750.5 L657.4,1748.9 L657.2,1747.3 L657.1,1745.7 L656.9,1744.1 L656.7,1742.5 L656.5,1740.9 L656.3,1739.3 L656.1,1737.7 L655.9,1736 L655.7,1734.4 L655.5,1732.8 L655.3,1731.2 L655.1,1729.6 L654.9,1728 L654.6,1726.4 L654.4,1724.8 L654.2,1723.1 L654,1721.5 L653.7,1719.9 L653.5,1718.3 L653.2,1716.7 L652.9,1715.1 L652.7,1713.5 L652.4,1711.9 L652,1710.3 L651.7,1708.6 L651.4,1707 L651,1705.4 L650.6,1703.8 L650.3,1702.2 L649.9,1700.6 L649.4,1699 L649,1697.4 L648.6,1695.7 L648.1,1694.1 L647.6,1692.5 L647.1,1690.9 L646.7,1689.3 L646.2,1687.7 L645.7,1686.1 L645.2,1684.5 L644.7,1682.9 L644.2,1681.2 L643.7,1679.6 L643.2,1678 L642.8,1676.4 L642.4,1674.8 L642,1673.2 L641.7,1671.6 L641.3,1670 L641,1668.3 L640.8,1666.7 L640.5,1665.1 L640.4,1663.5 L640.3,1661.9 L640.2,1660.3 L640.2,1658.7 L640.1,1657.1 L640.1,1655.5 L640.1,1653.8 L640.1,1652.2 L640,1650.6 L640,1649 L640,1647.4 L640,1645.8 L640.1,1644.2 L640.1,1642.6 L640.1,1641 L640.2,1639.3 L640.2,1637.7 L640.3,1636.1 L640.3,1634.5 L640.4,1632.9 L640.5,1631.3 L640.7,1629.7 L640.8,1628.1 L641,1626.4 L641.2,1624.8 L641.4,1623.2 L641.6,1621.7 L641.8,1620.1 L642.1,1618.3 L642.4,1616.6 L642.6,1614.8 L642.9,1613.1 L643.2,1611.4 L643.4,1609.7 L643.6,1608.2 L643.8,1606.7 L644,1605.2 L644.1,1603.7 L644.3,1602.1 L644.5,1600.6 L644.6,1599.1 L644.8,1597.6 L645,1596.1 L645.1,1594.6 L645.3,1593.1 L645.4,1591.6 L645.6,1590.1 L645.8,1588.6 L646,1587.1 L646.1,1585.6 L646.3,1584.1 L646.5,1582.6 L646.7,1581.1 L646.9,1579.6 L647.1,1578.1 L647.3,1576.6 L647.5,1575.1 L647.7,1573.5 L647.9,1572 L648.1,1570.5 L648.3,1569 L648.6,1567.5 L648.8,1566 L649.1,1564.5 L649.3,1563 L649.6,1561.5 L649.9,1560 L650.2,1558.5 L650.4,1557 L650.7,1555.5 L650.9,1554 L651.2,1552.5 L651.4,1551 L651.6,1549.5 L651.9,1548 L652.1,1546.4 L652.3,1544.9 L652.6,1543.4 L652.8,1541.9 L653,1540.4 L653.3,1538.9 L653.5,1537.4 L653.8,1535.9 L654.1,1534.4 L654.4,1532.9 L654.6,1531.4 L654.9,1529.9 L655.2,1528.4 L655.5,1526.9 L655.8,1525.4 L656,1523.9 L656.3,1522.4 L656.5,1520.9 L656.7,1519.4 L656.9,1517.8 L657.2,1516.3 L657.4,1514.8 L657.6,1513.3 L657.8,1511.8 L658.1,1510.3 L658.3,1508.8 L658.5,1507.3 L658.7,1505.8 L659,1504.3 L659.2,1502.8 L659.4,1501.3 L659.6,1499.8 L659.9,1498.3 L660.1,1496.8 L660.3,1495.3 L660.5,1493.8 L660.7,1492.3 L660.9,1490.8 L661.1,1489.2 L661.3,1487.7 L661.5,1486.2 L661.7,1484.7 L661.9,1483.2 L662.1,1481.7 L662.3,1480.2 L662.5,1478.7 L662.6,1477.2 L662.8,1475.7 L663,1474.2 L663.2,1472.7 L663.3,1471.2 L663.5,1469.7 L663.6,1468.2 L663.8,1466.7 L663.9,1465.2 L664.1,1463.7 L664.2,1462.1 L664.4,1460.6 L664.5,1459.1 L664.7,1457.6 L664.8,1456.1 L665,1454.6 L665.1,1453.1 L665.3,1451.6 L665.4,1450.1 L665.6,1448.6 L665.7,1447.2 L665.9,1445.7 L666,1444.2 L666.2,1442.7 L666.3,1441.1 L666.5,1439.6 L666.7,1437.9 L666.9,1436.1 L667.1,1434.4 L667.2,1432.7 L667.4,1431.2 L667.5,1429.9 L667.6,1429Z" fill="#4DBBD5" fill-opacity="0.5"/>
<rect x="454.3" y="1382.2" width="292.4" height="476" fill="none" stroke="#2b2b2b" stroke-width="3.4"/>
<path d="M448.6,1515.2H453.6M448.6,1695.2H453.6" stroke="#333" stroke-width="1.3"/>
<g font-size="17" text-anchor="end" fill="#111" stroke="#111" stroke-width="0.4"><text x="445.6" y="1521.8">1</text><text x="445.6" y="1701.8">0</text></g>
<text x="495.9" y="1415.1" font-size="23.3" textLength="188.1" lengthAdjust="spacingAndGlyphs" fill="#000" stroke="#000" stroke-width="0.45">T−test, p = 3.6e−08</text>
<text transform="translate(534,1868) rotate(-50)" y="14.3" font-size="21.5" text-anchor="end" fill="#000" stroke="#000" stroke-width="0.45">Codel</text>
<text transform="translate(668.7,1868) rotate(-50)" y="14.3" font-size="21.5" text-anchor="end" fill="#000" stroke="#000" stroke-width="0.45">Non_codel</text>
<text x="600.5" y="1980.2" font-weight="bold" font-size="24.0" fill="#8B0000" stroke="#8B0000" stroke-width="0.35" text-anchor="middle" lengthAdjust="spacingAndGlyphs" textLength="115.8">Chr_1p19q</text>
<text transform="translate(426.6,1620.3) rotate(-90)" font-weight="bold" font-size="22.6" fill="#8B0000" stroke="#8B0000" stroke-width="0.35" text-anchor="middle" lengthAdjust="spacingAndGlyphs" textLength="324">MAP2K3 Expression (z−score)</text>
<text x="600.5" y="1366.4" font-weight="bold" font-size="24.0" fill="#8B0000" stroke="#8B0000" stroke-width="0.35" text-anchor="middle" lengthAdjust="spacingAndGlyphs" textLength="117">CGGA_693</text>
<text x="419.5" y="1351.8" font-weight="bold" font-size="29.2" text-anchor="middle" fill="#000" stroke="#000" stroke-width="0.4" textLength="15.1" lengthAdjust="spacingAndGlyphs">J</text>
<rect x="849.6" y="1389.5" width="268.2" height="481.9" fill="#F1F4F5"/>
<path d="M844.6,1467H1122.8M844.6,1556.8H1122.8M844.6,1646.1H1122.8M844.6,1736H1122.8M844.6,1825.5H1122.8M920.7,1876.4V1384.5M1047.4,1876.4V1384.5" stroke="#C8CACB" stroke-width="1.2" stroke-dasharray="6.45 6.45" fill="none"/>
<g fill="#E64B35"><circle cx="934.9" cy="1540.7" r="4.1"/><circle cx="934.3" cy="1663.1" r="4.1"/><circle cx="915.9" cy="1685.2" r="4.1"/><circle cx="926.9" cy="1698" r="4.1"/><circle cx="904.3" cy="1716.1" r="4.1"/><circle cx="909.4" cy="1725.5" r="4.1"/><circle cx="931.2" cy="1732" r="4.1"/><circle cx="898.9" cy="1759.5" r="4.1"/><circle cx="917.3" cy="1768" r="4.1"/><circle cx="900.9" cy="1775.7" r="4.1"/><circle cx="939.7" cy="1780.8" r="4.1"/><circle cx="935.7" cy="1790.7" r="4.1"/><circle cx="930.6" cy="1799.8" r="4.1"/><circle cx="934.3" cy="1802" r="4.1"/><circle cx="923.5" cy="1816.8" r="4.1"/><circle cx="900" cy="1822.4" r="4.1"/><circle cx="931.5" cy="1823.8" r="4.1"/><circle cx="941.1" cy="1854.5" r="4.1"/></g>
<path d="M920.7,1718.9V1663.8M920.7,1801.6V1853.8" stroke="#000" stroke-width="1.8"/>
<rect x="873.3" y="1718.9" width="95" height="82.7" fill="#E64B35" fill-opacity="0.67" stroke="#000" stroke-width="1.9"/>
<path d="M873.3,1771.8H968.3" stroke="#000" stroke-width="3.4"/>
<path d="M927.2,1541.2 L927.1,1542.2 L927,1543.6 L926.9,1545.2 L926.8,1547.1 L926.6,1549.1 L926.4,1551.3 L926.3,1552.7 L926.2,1554.2 L926,1555.7 L925.9,1557.4 L925.7,1559.1 L925.5,1560.8 L925.4,1562.5 L925.2,1564.3 L925.1,1566 L924.9,1567.6 L924.8,1569.2 L924.7,1570.9 L924.5,1572.5 L924.4,1574.1 L924.3,1575.8 L924.1,1577.4 L924,1579 L923.9,1580.7 L923.8,1582.3 L923.7,1583.9 L923.6,1585.5 L923.5,1587.2 L923.5,1588.8 L923.4,1590.4 L923.3,1592.1 L923.3,1593.7 L923.2,1595.3 L923.2,1597 L923.2,1598.6 L923.3,1600.2 L923.4,1601.9 L923.5,1603.5 L923.6,1605.1 L923.8,1606.7 L924,1608.4 L924.2,1610 L924.4,1611.6 L924.7,1613.3 L925,1614.9 L925.3,1616.5 L925.7,1618.2 L926.2,1619.8 L926.6,1621.4 L927.1,1623 L927.6,1624.7 L928.2,1626.3 L928.7,1627.9 L929.3,1629.6 L929.9,1631.2 L930.5,1632.8 L931.1,1634.5 L931.7,1636.1 L932.3,1637.7 L933,1639.4 L933.7,1641 L934.3,1642.6 L935,1644.2 L935.7,1645.9 L936.3,1647.5 L937,1649.1 L937.7,1650.8 L938.3,1652.4 L939,1654 L939.6,1655.7 L940.3,1657.3 L941,1658.9 L941.6,1660.6 L942.3,1662.2 L942.9,1663.8 L943.5,1665.4 L944.2,1667.1 L944.8,1668.7 L945.4,1670.3 L946,1672 L946.7,1673.6 L947.3,1675.2 L947.9,1676.9 L948.5,1678.5 L949.1,1680.1 L949.6,1681.7 L950.2,1683.4 L950.8,1685 L951.3,1686.6 L951.9,1688.3 L952.4,1689.9 L952.9,1691.5 L953.4,1693.2 L953.9,1694.8 L954.5,1696.4 L954.9,1698.1 L955.4,1699.7 L955.9,1701.3 L956.3,1702.9 L956.8,1704.6 L957.2,1706.2 L957.7,1707.8 L958.1,1709.5 L958.5,1711.1 L959,1712.7 L959.4,1714.4 L959.9,1716 L960.3,1717.6 L960.7,1719.2 L961.2,1720.9 L961.6,1722.5 L962.1,1724.1 L962.5,1725.8 L963,1727.4 L963.4,1729 L963.9,1730.7 L964.4,1732.3 L964.9,1733.9 L965.5,1735.6 L966,1737.2 L966.5,1738.8 L967.1,1740.4 L967.6,1742.1 L968.2,1743.7 L968.7,1745.3 L969.2,1747 L969.7,1748.6 L970.2,1750.2 L970.7,1751.9 L971.2,1753.5 L971.7,1755.1 L972.2,1756.8 L972.7,1758.4 L973.1,1760 L973.5,1761.6 L973.9,1763.3 L974.3,1764.9 L974.7,1766.5 L975.1,1768.2 L975.4,1769.8 L975.7,1771.4 L976,1773.1 L976.3,1774.7 L976.6,1776.3 L976.8,1777.9 L977,1779.6 L977.1,1781.2 L977.3,1782.8 L977.4,1784.5 L977.5,1786.1 L977.6,1787.7 L977.6,1789.4 L977.6,1791 L977.5,1792.6 L977.4,1794.3 L977.2,1795.9 L976.9,1797.5 L976.6,1799.1 L976.3,1800.8 L975.8,1802.4 L975.4,1804 L974.8,1805.7 L974.2,1807.3 L973.6,1808.9 L972.9,1810.6 L972.1,1812.2 L971.2,1813.8 L970.2,1815.5 L969.1,1817.1 L968,1818.7 L966.7,1820.3 L965.5,1822 L964.3,1823.6 L963,1825.2 L961.8,1826.9 L960.7,1828.5 L959.5,1830.2 L958.3,1831.9 L957,1833.6 L955.8,1835.4 L954.6,1837.1 L953.4,1838.8 L952.2,1840.4 L951.2,1842 L950.1,1843.5 L949.2,1844.8 L947.6,1847.2 L946.3,1849.3 L945.1,1851.2 L944.2,1852.7 L943.5,1853.8 L897.9,1853.8 L897.2,1852.7 L896.3,1851.2 L895.1,1849.3 L893.8,1847.2 L892.2,1844.8 L891.3,1843.5 L890.3,1842 L889.2,1840.4 L888,1838.8 L886.8,1837.1 L885.6,1835.4 L884.4,1833.6 L883.1,1831.9 L881.9,1830.2 L880.8,1828.5 L879.6,1826.9 L878.4,1825.2 L877.1,1823.6 L875.9,1822 L874.7,1820.3 L873.5,1818.7 L872.3,1817.1 L871.2,1815.5 L870.2,1813.8 L869.3,1812.2 L868.5,1810.6 L867.8,1808.9 L867.2,1807.3 L866.6,1805.7 L866,1804 L865.6,1802.4 L865.2,1800.8 L864.8,1799.1 L864.5,1797.5 L864.2,1795.9 L864,1794.3 L863.9,1792.6 L863.8,1791 L863.8,1789.4 L863.8,1787.7 L863.9,1786.1 L864,1784.5 L864.1,1782.8 L864.3,1781.2 L864.4,1779.6 L864.6,1777.9 L864.8,1776.3 L865.1,1774.7 L865.4,1773.1 L865.7,1771.4 L866,1769.8 L866.3,1768.2 L866.7,1766.5 L867.1,1764.9 L867.5,1763.3 L867.9,1761.6 L868.3,1760 L868.7,1758.4 L869.2,1756.8 L869.7,1755.1 L870.2,1753.5 L870.7,1751.9 L871.2,1750.2 L871.7,1748.6 L872.2,1747 L872.7,1745.3 L873.2,1743.7 L873.8,1742.1 L874.3,1740.4 L874.9,1738.8 L875.4,1737.2 L875.9,1735.6 L876.5,1733.9 L877,1732.3 L877.5,1730.7 L878,1729 L878.4,1727.4 L878.9,1725.8 L879.3,1724.1 L879.8,1722.5 L880.2,1720.9 L880.7,1719.2 L881.1,1717.6 L881.5,1716 L882,1714.4 L882.4,1712.7 L882.9,1711.1 L883.3,1709.5 L883.7,1707.8 L884.2,1706.2 L884.6,1704.6 L885.1,1702.9 L885.5,1701.3 L886,1699.7 L886.5,1698.1 L887,1696.4 L887.5,1694.8 L888,1693.2 L888.5,1691.5 L889,1689.9 L889.5,1688.3 L890.1,1686.6 L890.6,1685 L891.2,1683.4 L891.8,1681.7 L892.3,1680.1 L892.9,1678.5 L893.5,1676.9 L894.1,1675.2 L894.7,1673.6 L895.4,1672 L896,1670.3 L896.6,1668.7 L897.2,1667.1 L897.9,1665.4 L898.5,1663.8 L899.2,1662.2 L899.8,1660.6 L900.5,1658.9 L901.1,1657.3 L901.8,1655.7 L902.4,1654 L903.1,1652.4 L903.7,1650.8 L904.4,1649.1 L905.1,1647.5 L905.7,1645.9 L906.4,1644.2 L907.1,1642.6 L907.7,1641 L908.4,1639.4 L909.1,1637.7 L909.7,1636.1 L910.3,1634.5 L910.9,1632.8 L911.5,1631.2 L912.1,1629.6 L912.7,1627.9 L913.2,1626.3 L913.8,1624.7 L914.3,1623 L914.8,1621.4 L915.2,1619.8 L915.7,1618.2 L916.1,1616.5 L916.4,1614.9 L916.7,1613.3 L917,1611.6 L917.2,1610 L917.4,1608.4 L917.6,1606.7 L917.8,1605.1 L917.9,1603.5 L918,1601.9 L918.1,1600.2 L918.2,1598.6 L918.2,1597 L918.2,1595.3 L918.1,1593.7 L918.1,1592.1 L918,1590.4 L917.9,1588.8 L917.9,1587.2 L917.8,1585.5 L917.7,1583.9 L917.6,1582.3 L917.5,1580.7 L917.4,1579 L917.3,1577.4 L917.1,1575.8 L917,1574.1 L916.9,1572.5 L916.7,1570.9 L916.6,1569.2 L916.5,1567.6 L916.3,1566 L916.2,1564.3 L916,1562.5 L915.9,1560.8 L915.7,1559.1 L915.5,1557.4 L915.4,1555.7 L915.3,1554.2 L915.1,1552.7 L915,1551.3 L914.8,1549.1 L914.6,1547.1 L914.5,1545.2 L914.4,1543.6 L914.3,1542.2 L914.2,1541.2Z" fill="#E64B35" fill-opacity="0.5"/>
<g fill="#4DBBD5"><circle cx="1064.7" cy="1436.4" r="4.1"/><circle cx="1041.7" cy="1502.1" r="4.1"/><circle cx="1061.3" cy="1516" r="4.1"/><circle cx="1061.9" cy="1577.5" r="4.1"/><circle cx="1027.6" cy="1628.3" r="4.1"/><circle cx="1069.5" cy="1639.6" r="4.1"/><circle cx="1068.1" cy="1644.7" r="4.1"/><circle cx="1066.1" cy="1648.1" r="4.1"/><circle cx="1068.9" cy="1671.6" r="4.1"/><circle cx="1071.5" cy="1677.3" r="4.1"/><circle cx="1037.8" cy="1676.7" r="4.1"/><circle cx="1046" cy="1681.6" r="4.1"/><circle cx="1036.9" cy="1688.1" r="4.1"/><circle cx="1048.3" cy="1695.7" r="4.1"/><circle cx="1033.5" cy="1705.6" r="4.1"/><circle cx="1054.8" cy="1707.1" r="4.1"/><circle cx="1044.6" cy="1712.2" r="4.1"/><circle cx="1043.4" cy="1734" r="4.1"/><circle cx="1058.7" cy="1741.9" r="4.1"/><circle cx="1044.6" cy="1744.8" r="4.1"/><circle cx="1036.1" cy="1751.6" r="4.1"/><circle cx="1023.6" cy="1783" r="4.1"/><circle cx="1036.1" cy="1797.8" r="4.1"/><circle cx="1039.8" cy="1821" r="4.1"/><circle cx="1060.2" cy="1819" r="4.1"/><circle cx="1064.4" cy="1824.1" r="4.1"/><circle cx="1040.6" cy="1844" r="4.1"/><circle cx="1024.2" cy="1849.6" r="4.1"/></g>
<path d="M1047.4,1654V1516.3M1047.4,1752.1V1849.2" stroke="#000" stroke-width="1.8"/>
<rect x="999.4" y="1654" width="96" height="98.1" fill="#4DBBD5" fill-opacity="0.67" stroke="#000" stroke-width="1.9"/>
<path d="M999.4,1706.3H1095.4" stroke="#000" stroke-width="3.4"/>
<path d="M1051.9,1437 L1051.9,1437.9 L1052,1439.1 L1052.1,1440.5 L1052.1,1442.1 L1052.2,1443.8 L1052.3,1445.7 L1052.4,1447.6 L1052.5,1449.6 L1052.6,1451.6 L1052.7,1452.9 L1052.8,1454.3 L1052.9,1455.7 L1053,1457.2 L1053.1,1458.8 L1053.1,1460.3 L1053.2,1461.9 L1053.3,1463.5 L1053.4,1465.1 L1053.5,1466.8 L1053.6,1468.4 L1053.7,1470 L1053.8,1471.6 L1053.9,1473.1 L1054,1474.7 L1054,1476.2 L1054.1,1477.8 L1054.2,1479.3 L1054.2,1480.8 L1054.3,1482.4 L1054.4,1483.9 L1054.5,1485.5 L1054.5,1487 L1054.6,1488.5 L1054.6,1490.1 L1054.7,1491.6 L1054.7,1493.2 L1054.8,1494.7 L1054.8,1496.2 L1054.9,1497.8 L1054.9,1499.3 L1055,1500.9 L1055,1502.4 L1055,1503.9 L1055,1505.5 L1055.1,1507 L1055.1,1508.6 L1055.1,1510.1 L1055.1,1511.6 L1055.1,1513.2 L1055.1,1514.7 L1055.1,1516.3 L1055.1,1517.8 L1055.1,1519.4 L1055,1521.1 L1055,1522.7 L1055,1524.4 L1054.9,1526.1 L1054.9,1527.7 L1054.8,1529.3 L1054.7,1530.9 L1054.7,1532.5 L1054.6,1533.9 L1054.6,1535.3 L1054.6,1536.6 L1054.5,1537.8 L1054.5,1539.9 L1054.4,1541.7 L1054.3,1543.2 L1054.3,1544.6 L1054.2,1545.8 L1054.2,1547.2 L1054.2,1548.6 L1054.2,1550.2 L1054.2,1551.7 L1054.2,1553.2 L1054.3,1554.8 L1054.3,1556.3 L1054.4,1557.9 L1054.4,1559.4 L1054.5,1560.9 L1054.5,1562.5 L1054.6,1564 L1054.6,1565.6 L1054.7,1567.1 L1054.8,1568.6 L1055,1570.2 L1055.1,1571.7 L1055.2,1573.3 L1055.4,1574.8 L1055.6,1576.3 L1055.8,1577.9 L1056,1579.4 L1056.3,1581 L1056.6,1582.5 L1056.9,1584 L1057.2,1585.6 L1057.5,1587.1 L1057.9,1588.7 L1058.2,1590.2 L1058.6,1591.7 L1059,1593.3 L1059.4,1594.8 L1059.8,1596.4 L1060.3,1597.9 L1060.7,1599.4 L1061.2,1601 L1061.7,1602.5 L1062.2,1604.1 L1062.7,1605.6 L1063.2,1607.1 L1063.8,1608.7 L1064.3,1610.2 L1064.9,1611.8 L1065.5,1613.3 L1066.1,1614.8 L1066.7,1616.4 L1067.4,1617.9 L1068.1,1619.5 L1068.8,1621 L1069.4,1622.6 L1070,1624.1 L1070.6,1625.7 L1071.2,1627.3 L1071.7,1629 L1072.2,1630.6 L1072.7,1632.2 L1073.3,1633.6 L1073.8,1634.9 L1075.2,1636.8 L1076.6,1638.1 L1077.9,1640 L1078.3,1641.2 L1078.8,1642.7 L1079.2,1644.2 L1079.6,1645.9 L1080,1647.5 L1080.4,1649.2 L1080.8,1650.8 L1081.3,1652.3 L1081.8,1653.9 L1082.2,1655.4 L1082.7,1656.9 L1083.2,1658.5 L1083.6,1660 L1084.1,1661.6 L1084.5,1663.1 L1084.9,1664.6 L1085.2,1666.2 L1085.6,1667.7 L1086,1669.3 L1086.3,1670.8 L1086.6,1672.3 L1086.9,1673.9 L1087.2,1675.4 L1087.4,1677 L1087.7,1678.5 L1087.9,1680.1 L1088.1,1681.6 L1088.3,1683.1 L1088.4,1684.7 L1088.6,1686.2 L1088.7,1687.8 L1088.8,1689.3 L1088.9,1690.8 L1089,1692.4 L1089.1,1693.9 L1089.2,1695.5 L1089.2,1697 L1089.3,1698.5 L1089.3,1700.1 L1089.3,1701.6 L1089.3,1703.2 L1089.3,1704.7 L1089.3,1706.2 L1089.3,1707.8 L1089.3,1709.3 L1089.3,1710.9 L1089.2,1712.4 L1089.2,1713.9 L1089.1,1715.5 L1089,1717 L1088.8,1718.6 L1088.7,1720.1 L1088.5,1721.6 L1088.3,1723.2 L1088.1,1724.7 L1087.8,1726.3 L1087.6,1727.8 L1087.3,1729.3 L1087.1,1730.9 L1086.8,1732.4 L1086.5,1734 L1086.2,1735.5 L1085.8,1737 L1085.5,1738.6 L1085.1,1740.1 L1084.7,1741.7 L1084.3,1743.2 L1083.8,1744.7 L1083.4,1746.3 L1083,1747.8 L1082.6,1749.4 L1082.1,1750.9 L1081.7,1752.4 L1081.3,1754 L1080.9,1755.5 L1080.4,1757.1 L1080,1758.6 L1079.6,1760.2 L1079.2,1761.7 L1078.8,1763.2 L1078.4,1764.8 L1078,1766.3 L1077.7,1767.9 L1077.3,1769.4 L1077,1770.9 L1076.7,1772.5 L1076.3,1774 L1076,1775.6 L1075.7,1777.1 L1075.4,1778.6 L1075.2,1780.2 L1074.9,1781.7 L1074.7,1783.3 L1074.4,1784.8 L1074.2,1786.3 L1074,1787.9 L1073.8,1789.4 L1073.6,1791 L1073.4,1792.5 L1073.2,1794 L1073,1795.6 L1072.9,1797.1 L1072.8,1798.7 L1072.6,1800.2 L1072.5,1801.7 L1072.3,1803.3 L1072.2,1804.8 L1072.1,1806.4 L1071.9,1807.9 L1071.8,1809.4 L1071.7,1811 L1071.6,1812.5 L1071.4,1814.1 L1071.3,1815.6 L1071.2,1817.1 L1071.1,1818.7 L1070.9,1820.2 L1070.8,1821.8 L1070.6,1823.3 L1070.4,1824.8 L1070.1,1826.4 L1069.9,1827.9 L1069.6,1829.5 L1069.3,1831 L1069,1832.6 L1068.7,1834.1 L1068.4,1835.7 L1068,1837.4 L1067.7,1839.1 L1067.3,1840.7 L1066.9,1842.3 L1066.6,1843.7 L1066.3,1844.9 L1065.3,1847.7 L1064.7,1849.2 L1030.2,1849.2 L1029.5,1847.7 L1028.5,1844.9 L1028.2,1843.7 L1027.9,1842.3 L1027.5,1840.7 L1027.2,1839.1 L1026.8,1837.4 L1026.4,1835.7 L1026.1,1834.1 L1025.8,1832.6 L1025.5,1831 L1025.2,1829.5 L1024.9,1827.9 L1024.7,1826.4 L1024.4,1824.8 L1024.2,1823.3 L1024,1821.8 L1023.9,1820.2 L1023.7,1818.7 L1023.6,1817.1 L1023.5,1815.6 L1023.4,1814.1 L1023.3,1812.5 L1023.1,1811 L1023,1809.4 L1022.9,1807.9 L1022.7,1806.4 L1022.6,1804.8 L1022.5,1803.3 L1022.3,1801.7 L1022.2,1800.2 L1022.1,1798.7 L1021.9,1797.1 L1021.8,1795.6 L1021.6,1794 L1021.4,1792.5 L1021.3,1791 L1021.1,1789.4 L1020.8,1787.9 L1020.6,1786.3 L1020.4,1784.8 L1020.2,1783.3 L1019.9,1781.7 L1019.6,1780.2 L1019.4,1778.6 L1019.1,1777.1 L1018.8,1775.6 L1018.5,1774 L1018.2,1772.5 L1017.8,1770.9 L1017.5,1769.4 L1017.1,1767.9 L1016.8,1766.3 L1016.4,1764.8 L1016,1763.2 L1015.6,1761.7 L1015.2,1760.2 L1014.8,1758.6 L1014.4,1757.1 L1014,1755.5 L1013.5,1754 L1013.1,1752.4 L1012.7,1750.9 L1012.2,1749.4 L1011.8,1747.8 L1011.4,1746.3 L1011,1744.7 L1010.5,1743.2 L1010.1,1741.7 L1009.7,1740.1 L1009.3,1738.6 L1009,1737 L1008.6,1735.5 L1008.3,1734 L1008,1732.4 L1007.7,1730.9 L1007.5,1729.3 L1007.2,1727.8 L1007,1726.3 L1006.7,1724.7 L1006.5,1723.2 L1006.3,1721.6 L1006.2,1720.1 L1006,1718.6 L1005.8,1717 L1005.7,1715.5 L1005.6,1713.9 L1005.6,1712.4 L1005.5,1710.9 L1005.5,1709.3 L1005.5,1707.8 L1005.5,1706.2 L1005.5,1704.7 L1005.5,1703.2 L1005.5,1701.6 L1005.5,1700.1 L1005.5,1698.5 L1005.6,1697 L1005.7,1695.5 L1005.7,1693.9 L1005.8,1692.4 L1005.9,1690.8 L1006,1689.3 L1006.1,1687.8 L1006.2,1686.2 L1006.4,1684.7 L1006.5,1683.1 L1006.7,1681.6 L1006.9,1680.1 L1007.1,1678.5 L1007.4,1677 L1007.6,1675.4 L1007.9,1673.9 L1008.2,1672.3 L1008.5,1670.8 L1008.8,1669.3 L1009.2,1667.7 L1009.6,1666.2 L1009.9,1664.6 L1010.3,1663.1 L1010.7,1661.6 L1011.2,1660 L1011.6,1658.5 L1012.1,1656.9 L1012.6,1655.4 L1013.1,1653.9 L1013.5,1652.3 L1014,1650.8 L1014.4,1649.2 L1014.8,1647.5 L1015.2,1645.9 L1015.6,1644.2 L1016,1642.7 L1016.5,1641.2 L1016.9,1640 L1018.2,1638.1 L1019.6,1636.8 L1021,1634.9 L1021.5,1633.6 L1022.1,1632.2 L1022.6,1630.6 L1023.1,1629 L1023.6,1627.3 L1024.2,1625.7 L1024.8,1624.1 L1025.4,1622.6 L1026,1621 L1026.7,1619.5 L1027.4,1617.9 L1028.1,1616.4 L1028.7,1614.8 L1029.3,1613.3 L1029.9,1611.8 L1030.5,1610.2 L1031.1,1608.7 L1031.6,1607.1 L1032.1,1605.6 L1032.6,1604.1 L1033.1,1602.5 L1033.6,1601 L1034.1,1599.4 L1034.5,1597.9 L1035,1596.4 L1035.4,1594.8 L1035.8,1593.3 L1036.2,1591.7 L1036.6,1590.2 L1036.9,1588.7 L1037.3,1587.1 L1037.6,1585.6 L1037.9,1584 L1038.2,1582.5 L1038.5,1581 L1038.8,1579.4 L1039,1577.9 L1039.2,1576.3 L1039.4,1574.8 L1039.6,1573.3 L1039.7,1571.7 L1039.9,1570.2 L1040,1568.6 L1040.1,1567.1 L1040.2,1565.6 L1040.2,1564 L1040.3,1562.5 L1040.3,1560.9 L1040.4,1559.4 L1040.4,1557.9 L1040.5,1556.3 L1040.5,1554.8 L1040.6,1553.2 L1040.6,1551.7 L1040.6,1550.2 L1040.6,1548.6 L1040.6,1547.2 L1040.6,1545.8 L1040.5,1544.6 L1040.5,1543.2 L1040.4,1541.7 L1040.4,1539.9 L1040.3,1537.8 L1040.3,1536.6 L1040.2,1535.3 L1040.2,1533.9 L1040.1,1532.5 L1040.1,1530.9 L1040,1529.3 L1039.9,1527.7 L1039.9,1526.1 L1039.8,1524.4 L1039.8,1522.7 L1039.8,1521.1 L1039.7,1519.4 L1039.7,1517.8 L1039.7,1516.3 L1039.7,1514.7 L1039.7,1513.2 L1039.7,1511.6 L1039.7,1510.1 L1039.7,1508.6 L1039.7,1507 L1039.8,1505.5 L1039.8,1503.9 L1039.8,1502.4 L1039.9,1500.9 L1039.9,1499.3 L1039.9,1497.8 L1040,1496.2 L1040,1494.7 L1040.1,1493.2 L1040.1,1491.6 L1040.2,1490.1 L1040.2,1488.5 L1040.3,1487 L1040.4,1485.5 L1040.4,1483.9 L1040.5,1482.4 L1040.6,1480.8 L1040.6,1479.3 L1040.7,1477.8 L1040.8,1476.2 L1040.9,1474.7 L1040.9,1473.1 L1041,1471.6 L1041.1,1470 L1041.2,1468.4 L1041.3,1466.8 L1041.4,1465.1 L1041.5,1463.5 L1041.6,1461.9 L1041.7,1460.3 L1041.8,1458.8 L1041.8,1457.2 L1041.9,1455.7 L1042,1454.3 L1042.1,1452.9 L1042.2,1451.6 L1042.3,1449.6 L1042.4,1447.6 L1042.5,1445.7 L1042.6,1443.8 L1042.7,1442.1 L1042.8,1440.5 L1042.8,1439.1 L1042.9,1437.9 L1042.9,1437Z" fill="#4DBBD5" fill-opacity="0.5"/>
<rect x="846.3" y="1386.2" width="274.8" height="488.5" fill="none" stroke="#2b2b2b" stroke-width="3.4"/>
<path d="M840.6,1467H845.6M840.6,1556.8H845.6M840.6,1646.1H845.6M840.6,1736H845.6M840.6,1825.5H845.6" stroke="#333" stroke-width="1.3"/>
<g font-size="17" text-anchor="end" fill="#111" stroke="#111" stroke-width="0.4"><text x="837.6" y="1473.6">3</text><text x="837.6" y="1563.4">2</text><text x="837.6" y="1652.7">1</text><text x="837.6" y="1742.6">0</text><text x="837.6" y="1832.1">−1</text></g>
<text x="883.6" y="1422.2" font-size="23.3" textLength="185.3" lengthAdjust="spacingAndGlyphs" fill="#000" stroke="#000" stroke-width="0.45">Wilcoxon, p = 0.048</text>
<text transform="translate(921.2,1884.4) rotate(-50)" y="14.3" font-size="21.5" text-anchor="end" fill="#000" stroke="#000" stroke-width="0.45">Female</text>
<text transform="translate(1047.9,1884.4) rotate(-50)" y="14.3" font-size="21.5" text-anchor="end" fill="#000" stroke="#000" stroke-width="0.45">Male</text>
<text x="983.7" y="1969.8" font-weight="bold" font-size="24.0" fill="#8B0000" stroke="#8B0000" stroke-width="0.35" text-anchor="middle" lengthAdjust="spacingAndGlyphs" textLength="78.4">Gender</text>
<text transform="translate(810.6,1630.5) rotate(-90)" font-weight="bold" font-size="22.6" fill="#8B0000" stroke="#8B0000" stroke-width="0.35" text-anchor="middle" lengthAdjust="spacingAndGlyphs" textLength="324">MAP2K3 Expression (z−score)</text>
<text x="983.7" y="1370.8" font-weight="bold" font-size="24.0" fill="#8B0000" stroke="#8B0000" stroke-width="0.35" text-anchor="middle" lengthAdjust="spacingAndGlyphs" textLength="230.4">GSE61335_GPL19184</text>
<text x="811.6" y="1351.8" font-weight="bold" font-size="29.2" text-anchor="middle" fill="#000" stroke="#000" stroke-width="0.4" textLength="19.6" lengthAdjust="spacingAndGlyphs">K</text>
</svg>
</body></html>
